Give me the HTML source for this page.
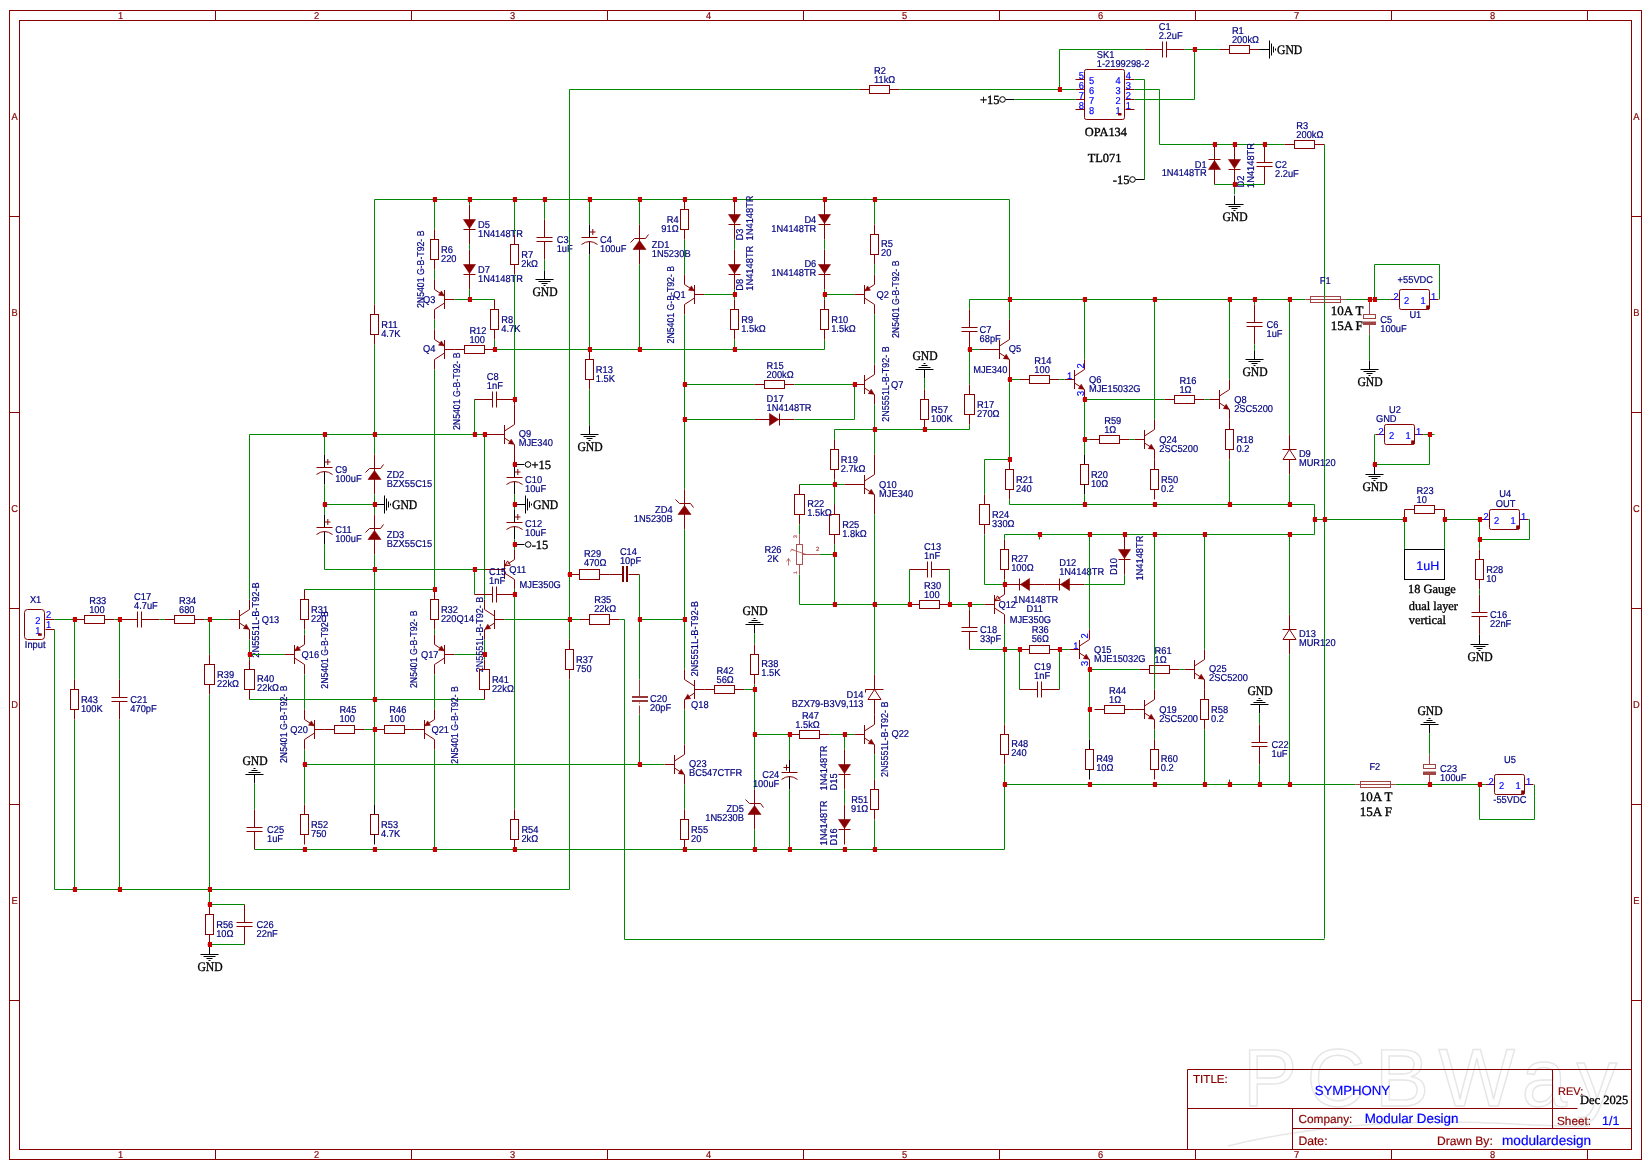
<!DOCTYPE html>
<html><head><meta charset="utf-8"><style>
html,body{margin:0;padding:0;background:#fff;}
svg{display:block;will-change:transform;}
</style></head><body>
<svg width="1652" height="1170" viewBox="0 0 1652 1170">
<rect width="1652" height="1170" fill="#fff"/>
<g fill="none" stroke="#e6e6e6" stroke-width="1.4">
<text x="1243" y="1106" font-family="Liberation Sans" font-size="81" textLength="374" lengthAdjust="spacing">PCBWay</text>
<path d="M1228,1146 C1300,1128 1380,1122 1450,1122 C1500,1122 1560,1128 1590,1126"/>
</g>
<g fill="none" stroke="#880000" stroke-width="1">
<rect x="9.5" y="10.5" width="1632" height="1149"/>
<rect x="19.5" y="20.5" width="1612" height="1129"/>
</g>
<line x1="215.5" y1="10.5" x2="215.5" y2="20.5" stroke="#880000" stroke-width="1"/>
<line x1="215.5" y1="1149.5" x2="215.5" y2="1159.5" stroke="#880000" stroke-width="1"/>
<line x1="411.5" y1="10.5" x2="411.5" y2="20.5" stroke="#880000" stroke-width="1"/>
<line x1="411.5" y1="1149.5" x2="411.5" y2="1159.5" stroke="#880000" stroke-width="1"/>
<line x1="607.5" y1="10.5" x2="607.5" y2="20.5" stroke="#880000" stroke-width="1"/>
<line x1="607.5" y1="1149.5" x2="607.5" y2="1159.5" stroke="#880000" stroke-width="1"/>
<line x1="803.5" y1="10.5" x2="803.5" y2="20.5" stroke="#880000" stroke-width="1"/>
<line x1="803.5" y1="1149.5" x2="803.5" y2="1159.5" stroke="#880000" stroke-width="1"/>
<line x1="999.5" y1="10.5" x2="999.5" y2="20.5" stroke="#880000" stroke-width="1"/>
<line x1="999.5" y1="1149.5" x2="999.5" y2="1159.5" stroke="#880000" stroke-width="1"/>
<line x1="1195.5" y1="10.5" x2="1195.5" y2="20.5" stroke="#880000" stroke-width="1"/>
<line x1="1195.5" y1="1149.5" x2="1195.5" y2="1159.5" stroke="#880000" stroke-width="1"/>
<line x1="1391.5" y1="10.5" x2="1391.5" y2="20.5" stroke="#880000" stroke-width="1"/>
<line x1="1391.5" y1="1149.5" x2="1391.5" y2="1159.5" stroke="#880000" stroke-width="1"/>
<line x1="1587.5" y1="10.5" x2="1587.5" y2="20.5" stroke="#880000" stroke-width="1"/>
<line x1="1587.5" y1="1149.5" x2="1587.5" y2="1159.5" stroke="#880000" stroke-width="1"/>
<line x1="9.5" y1="216.5" x2="19.5" y2="216.5" stroke="#880000" stroke-width="1"/>
<line x1="1631.5" y1="216.5" x2="1641.5" y2="216.5" stroke="#880000" stroke-width="1"/>
<line x1="9.5" y1="412.5" x2="19.5" y2="412.5" stroke="#880000" stroke-width="1"/>
<line x1="1631.5" y1="412.5" x2="1641.5" y2="412.5" stroke="#880000" stroke-width="1"/>
<line x1="9.5" y1="608.5" x2="19.5" y2="608.5" stroke="#880000" stroke-width="1"/>
<line x1="1631.5" y1="608.5" x2="1641.5" y2="608.5" stroke="#880000" stroke-width="1"/>
<line x1="9.5" y1="804.5" x2="19.5" y2="804.5" stroke="#880000" stroke-width="1"/>
<line x1="1631.5" y1="804.5" x2="1641.5" y2="804.5" stroke="#880000" stroke-width="1"/>
<line x1="9.5" y1="1000.5" x2="19.5" y2="1000.5" stroke="#880000" stroke-width="1"/>
<line x1="1631.5" y1="1000.5" x2="1641.5" y2="1000.5" stroke="#880000" stroke-width="1"/>
<text transform="translate(120.60 19.00) scale(0.93 1)" text-rendering="geometricPrecision" font-family="Liberation Sans" font-size="10.0" fill="#880000" text-anchor="middle" stroke="#880000" stroke-width="0.2">1</text>
<text transform="translate(120.60 1158.00) scale(0.93 1)" text-rendering="geometricPrecision" font-family="Liberation Sans" font-size="10.0" fill="#880000" text-anchor="middle" stroke="#880000" stroke-width="0.2">1</text>
<text transform="translate(316.60 19.00) scale(0.93 1)" text-rendering="geometricPrecision" font-family="Liberation Sans" font-size="10.0" fill="#880000" text-anchor="middle" stroke="#880000" stroke-width="0.2">2</text>
<text transform="translate(316.60 1158.00) scale(0.93 1)" text-rendering="geometricPrecision" font-family="Liberation Sans" font-size="10.0" fill="#880000" text-anchor="middle" stroke="#880000" stroke-width="0.2">2</text>
<text transform="translate(512.60 19.00) scale(0.93 1)" text-rendering="geometricPrecision" font-family="Liberation Sans" font-size="10.0" fill="#880000" text-anchor="middle" stroke="#880000" stroke-width="0.2">3</text>
<text transform="translate(512.60 1158.00) scale(0.93 1)" text-rendering="geometricPrecision" font-family="Liberation Sans" font-size="10.0" fill="#880000" text-anchor="middle" stroke="#880000" stroke-width="0.2">3</text>
<text transform="translate(708.60 19.00) scale(0.93 1)" text-rendering="geometricPrecision" font-family="Liberation Sans" font-size="10.0" fill="#880000" text-anchor="middle" stroke="#880000" stroke-width="0.2">4</text>
<text transform="translate(708.60 1158.00) scale(0.93 1)" text-rendering="geometricPrecision" font-family="Liberation Sans" font-size="10.0" fill="#880000" text-anchor="middle" stroke="#880000" stroke-width="0.2">4</text>
<text transform="translate(904.60 19.00) scale(0.93 1)" text-rendering="geometricPrecision" font-family="Liberation Sans" font-size="10.0" fill="#880000" text-anchor="middle" stroke="#880000" stroke-width="0.2">5</text>
<text transform="translate(904.60 1158.00) scale(0.93 1)" text-rendering="geometricPrecision" font-family="Liberation Sans" font-size="10.0" fill="#880000" text-anchor="middle" stroke="#880000" stroke-width="0.2">5</text>
<text transform="translate(1100.60 19.00) scale(0.93 1)" text-rendering="geometricPrecision" font-family="Liberation Sans" font-size="10.0" fill="#880000" text-anchor="middle" stroke="#880000" stroke-width="0.2">6</text>
<text transform="translate(1100.60 1158.00) scale(0.93 1)" text-rendering="geometricPrecision" font-family="Liberation Sans" font-size="10.0" fill="#880000" text-anchor="middle" stroke="#880000" stroke-width="0.2">6</text>
<text transform="translate(1296.60 19.00) scale(0.93 1)" text-rendering="geometricPrecision" font-family="Liberation Sans" font-size="10.0" fill="#880000" text-anchor="middle" stroke="#880000" stroke-width="0.2">7</text>
<text transform="translate(1296.60 1158.00) scale(0.93 1)" text-rendering="geometricPrecision" font-family="Liberation Sans" font-size="10.0" fill="#880000" text-anchor="middle" stroke="#880000" stroke-width="0.2">7</text>
<text transform="translate(1492.60 19.00) scale(0.93 1)" text-rendering="geometricPrecision" font-family="Liberation Sans" font-size="10.0" fill="#880000" text-anchor="middle" stroke="#880000" stroke-width="0.2">8</text>
<text transform="translate(1492.60 1158.00) scale(0.93 1)" text-rendering="geometricPrecision" font-family="Liberation Sans" font-size="10.0" fill="#880000" text-anchor="middle" stroke="#880000" stroke-width="0.2">8</text>
<text transform="translate(14.50 120.00) scale(0.93 1)" text-rendering="geometricPrecision" font-family="Liberation Sans" font-size="10.0" fill="#880000" text-anchor="middle" stroke="#880000" stroke-width="0.2">A</text>
<text transform="translate(1636.30 120.00) scale(0.93 1)" text-rendering="geometricPrecision" font-family="Liberation Sans" font-size="10.0" fill="#880000" text-anchor="middle" stroke="#880000" stroke-width="0.2">A</text>
<text transform="translate(14.50 316.00) scale(0.93 1)" text-rendering="geometricPrecision" font-family="Liberation Sans" font-size="10.0" fill="#880000" text-anchor="middle" stroke="#880000" stroke-width="0.2">B</text>
<text transform="translate(1636.30 316.00) scale(0.93 1)" text-rendering="geometricPrecision" font-family="Liberation Sans" font-size="10.0" fill="#880000" text-anchor="middle" stroke="#880000" stroke-width="0.2">B</text>
<text transform="translate(14.50 512.00) scale(0.93 1)" text-rendering="geometricPrecision" font-family="Liberation Sans" font-size="10.0" fill="#880000" text-anchor="middle" stroke="#880000" stroke-width="0.2">C</text>
<text transform="translate(1636.30 512.00) scale(0.93 1)" text-rendering="geometricPrecision" font-family="Liberation Sans" font-size="10.0" fill="#880000" text-anchor="middle" stroke="#880000" stroke-width="0.2">C</text>
<text transform="translate(14.50 708.00) scale(0.93 1)" text-rendering="geometricPrecision" font-family="Liberation Sans" font-size="10.0" fill="#880000" text-anchor="middle" stroke="#880000" stroke-width="0.2">D</text>
<text transform="translate(1636.30 708.00) scale(0.93 1)" text-rendering="geometricPrecision" font-family="Liberation Sans" font-size="10.0" fill="#880000" text-anchor="middle" stroke="#880000" stroke-width="0.2">D</text>
<text transform="translate(14.50 904.00) scale(0.93 1)" text-rendering="geometricPrecision" font-family="Liberation Sans" font-size="10.0" fill="#880000" text-anchor="middle" stroke="#880000" stroke-width="0.2">E</text>
<text transform="translate(1636.30 904.00) scale(0.93 1)" text-rendering="geometricPrecision" font-family="Liberation Sans" font-size="10.0" fill="#880000" text-anchor="middle" stroke="#880000" stroke-width="0.2">E</text>
<g fill="none" stroke="#880000" stroke-width="1">
<polyline points="1187.5,1149.5 1187.5,1069.5 1631.5,1069.5"/>
<line x1="1187.5" y1="1108.5" x2="1577.5" y2="1108.5"/>
<line x1="1292.5" y1="1108.5" x2="1292.5" y2="1149.5"/>
<line x1="1292.5" y1="1128.5" x2="1631.5" y2="1128.5"/>
<line x1="1552.5" y1="1069.5" x2="1552.5" y2="1128.5"/>
</g>
<text transform="translate(1193.00 1082.50)" text-rendering="geometricPrecision" font-family="Liberation Sans" font-size="11.6" fill="#880000" text-anchor="start" stroke="#880000" stroke-width="0.2">TITLE:</text>
<text transform="translate(1352.40 1094.50)" text-rendering="geometricPrecision" font-family="Liberation Sans" font-size="13.2" fill="#0000FF" text-anchor="middle" stroke="#0000FF" stroke-width="0.2">SYMPHONY</text>
<text transform="translate(1298.40 1123.00)" text-rendering="geometricPrecision" font-family="Liberation Sans" font-size="11.85" fill="#880000" text-anchor="start" stroke="#880000" stroke-width="0.2">Company:</text>
<text transform="translate(1364.70 1123.00)" text-rendering="geometricPrecision" font-family="Liberation Sans" font-size="13.4" fill="#0000FF" text-anchor="start" stroke="#0000FF" stroke-width="0.2">Modular Design</text>
<text transform="translate(1298.40 1145.00)" text-rendering="geometricPrecision" font-family="Liberation Sans" font-size="12.2" fill="#880000" text-anchor="start" stroke="#880000" stroke-width="0.2">Date:</text>
<text transform="translate(1437.00 1145.00)" text-rendering="geometricPrecision" font-family="Liberation Sans" font-size="12.1" fill="#880000" text-anchor="start" stroke="#880000" stroke-width="0.2">Drawn By:</text>
<text transform="translate(1502.00 1145.00)" text-rendering="geometricPrecision" font-family="Liberation Sans" font-size="13.6" fill="#0000FF" text-anchor="start" stroke="#0000FF" stroke-width="0.2">modulardesign</text>
<text transform="translate(1558.00 1095.00)" text-rendering="geometricPrecision" font-family="Liberation Sans" font-size="11" fill="#880000" text-anchor="start" stroke="#880000" stroke-width="0.2">REV:</text>
<text transform="translate(1580.00 1104.00)" text-rendering="geometricPrecision" font-family="Liberation Serif" font-size="12.5" fill="#000000" text-anchor="start" stroke="#000000" stroke-width="0.35">Dec 2025</text>
<text transform="translate(1557.00 1125.00)" text-rendering="geometricPrecision" font-family="Liberation Sans" font-size="11.8" fill="#880000" text-anchor="start" stroke="#880000" stroke-width="0.2">Sheet:</text>
<text transform="translate(1602.00 1125.00)" text-rendering="geometricPrecision" font-family="Liberation Sans" font-size="12.5" fill="#0000FF" text-anchor="start" stroke="#0000FF" stroke-width="0.2">1/1</text>
<polyline points="569.5,89.5 859.5,89.5" fill="none" stroke="#008800" stroke-width="1"/>
<rect x="869.5" y="85.5" width="20" height="8" fill="none" stroke="#880000"/>
<line x1="859.5" y1="89.5" x2="869.0" y2="89.5" stroke="#880000" stroke-width="1"/>
<line x1="889.0" y1="89.5" x2="899.5" y2="89.5" stroke="#880000" stroke-width="1"/>
<text transform="translate(874.00 74.00) scale(0.93 1)" text-rendering="geometricPrecision" font-family="Liberation Sans" font-size="10.0" fill="#000080" text-anchor="start" stroke="#000080" stroke-width="0.2">R2</text>
<text transform="translate(874.00 83.00) scale(0.93 1)" text-rendering="geometricPrecision" font-family="Liberation Sans" font-size="10.0" fill="#000080" text-anchor="start" stroke="#000080" stroke-width="0.2">11k&#937;</text>
<polyline points="899.5,89.5 1075.5,89.5" fill="none" stroke="#008800" stroke-width="1"/>
<polyline points="1059.5,89.5 1059.5,49.5 1144.5,49.5" fill="none" stroke="#008800" stroke-width="1"/>
<line x1="1162.5" y1="41.5" x2="1162.5" y2="57.5" stroke="#880000" stroke-width="1"/>
<line x1="1166.5" y1="41.5" x2="1166.5" y2="57.5" stroke="#880000" stroke-width="1"/>
<line x1="1144.5" y1="49.5" x2="1162.5" y2="49.5" stroke="#880000" stroke-width="1"/>
<line x1="1166.5" y1="49.5" x2="1184.5" y2="49.5" stroke="#880000" stroke-width="1"/>
<text transform="translate(1158.80 30.00) scale(0.93 1)" text-rendering="geometricPrecision" font-family="Liberation Sans" font-size="10.0" fill="#000080" text-anchor="start" stroke="#000080" stroke-width="0.2">C1</text>
<text transform="translate(1158.80 39.00) scale(0.93 1)" text-rendering="geometricPrecision" font-family="Liberation Sans" font-size="10.0" fill="#000080" text-anchor="start" stroke="#000080" stroke-width="0.2">2.2uF</text>
<polyline points="1184.5,49.5 1219.5,49.5" fill="none" stroke="#008800" stroke-width="1"/>
<rect x="1229.5" y="45.5" width="20" height="8" fill="none" stroke="#880000"/>
<line x1="1219.5" y1="49.5" x2="1229.0" y2="49.5" stroke="#880000" stroke-width="1"/>
<line x1="1249.0" y1="49.5" x2="1259.5" y2="49.5" stroke="#880000" stroke-width="1"/>
<text transform="translate(1231.90 34.00) scale(0.93 1)" text-rendering="geometricPrecision" font-family="Liberation Sans" font-size="10.0" fill="#000080" text-anchor="start" stroke="#000080" stroke-width="0.2">R1</text>
<text transform="translate(1231.90 43.00) scale(0.93 1)" text-rendering="geometricPrecision" font-family="Liberation Sans" font-size="10.0" fill="#000080" text-anchor="start" stroke="#000080" stroke-width="0.2">200k&#937;</text>
<line x1="1259.5" y1="49.5" x2="1269.5" y2="49.5" stroke="#000000" stroke-width="1"/>
<line x1="1259.5" y1="49.5" x2="1269.5" y2="49.5" stroke="#000000" stroke-width="1"/>
<line x1="1269.5" y1="40.5" x2="1269.5" y2="58.5" stroke="#000000" stroke-width="1"/>
<line x1="1271.5" y1="43.5" x2="1271.5" y2="55.5" stroke="#000000" stroke-width="1"/>
<line x1="1273.5" y1="46.5" x2="1273.5" y2="52.5" stroke="#000000" stroke-width="1"/>
<line x1="1275.5" y1="48.5" x2="1275.5" y2="50.5" stroke="#000000" stroke-width="1"/>
<text transform="translate(1277.00 53.50)" text-rendering="geometricPrecision" font-family="Liberation Serif" font-size="13" fill="#000000" text-anchor="start" stroke="#000000" stroke-width="0.35" textLength="25.2" lengthAdjust="spacingAndGlyphs">GND</text>
<polyline points="1194.5,49.5 1194.5,99.5 1134.5,99.5" fill="none" stroke="#008800" stroke-width="1"/>
<rect x="1084.5" y="69.5" width="40" height="50" rx="1.8" fill="none" stroke="#880000"/>
<line x1="1075.5" y1="79.5" x2="1084.5" y2="79.5" stroke="#880000" stroke-width="1"/>
<line x1="1125.5" y1="79.5" x2="1134.5" y2="79.5" stroke="#880000" stroke-width="1"/>
<text transform="translate(1083.90 79.00) scale(0.93 1)" text-rendering="geometricPrecision" font-family="Liberation Sans" font-size="10.0" fill="#0000FF" text-anchor="end" stroke="#0000FF" stroke-width="0.2">5</text>
<text transform="translate(1091.50 84.00) scale(0.93 1)" text-rendering="geometricPrecision" font-family="Liberation Sans" font-size="10.0" fill="#0000FF" text-anchor="middle" stroke="#0000FF" stroke-width="0.2">5</text>
<text transform="translate(1118.00 84.00) scale(0.93 1)" text-rendering="geometricPrecision" font-family="Liberation Sans" font-size="10.0" fill="#0000FF" text-anchor="middle" stroke="#0000FF" stroke-width="0.2">4</text>
<text transform="translate(1125.80 79.00) scale(0.93 1)" text-rendering="geometricPrecision" font-family="Liberation Sans" font-size="10.0" fill="#0000FF" text-anchor="start" stroke="#0000FF" stroke-width="0.2">4</text>
<line x1="1075.5" y1="89.5" x2="1084.5" y2="89.5" stroke="#880000" stroke-width="1"/>
<line x1="1125.5" y1="89.5" x2="1134.5" y2="89.5" stroke="#880000" stroke-width="1"/>
<text transform="translate(1083.90 89.00) scale(0.93 1)" text-rendering="geometricPrecision" font-family="Liberation Sans" font-size="10.0" fill="#0000FF" text-anchor="end" stroke="#0000FF" stroke-width="0.2">6</text>
<text transform="translate(1091.50 94.00) scale(0.93 1)" text-rendering="geometricPrecision" font-family="Liberation Sans" font-size="10.0" fill="#0000FF" text-anchor="middle" stroke="#0000FF" stroke-width="0.2">6</text>
<text transform="translate(1118.00 94.00) scale(0.93 1)" text-rendering="geometricPrecision" font-family="Liberation Sans" font-size="10.0" fill="#0000FF" text-anchor="middle" stroke="#0000FF" stroke-width="0.2">3</text>
<text transform="translate(1125.80 89.00) scale(0.93 1)" text-rendering="geometricPrecision" font-family="Liberation Sans" font-size="10.0" fill="#0000FF" text-anchor="start" stroke="#0000FF" stroke-width="0.2">3</text>
<line x1="1075.5" y1="99.5" x2="1084.5" y2="99.5" stroke="#880000" stroke-width="1"/>
<line x1="1125.5" y1="99.5" x2="1134.5" y2="99.5" stroke="#880000" stroke-width="1"/>
<text transform="translate(1083.90 99.00) scale(0.93 1)" text-rendering="geometricPrecision" font-family="Liberation Sans" font-size="10.0" fill="#0000FF" text-anchor="end" stroke="#0000FF" stroke-width="0.2">7</text>
<text transform="translate(1091.50 104.00) scale(0.93 1)" text-rendering="geometricPrecision" font-family="Liberation Sans" font-size="10.0" fill="#0000FF" text-anchor="middle" stroke="#0000FF" stroke-width="0.2">7</text>
<text transform="translate(1118.00 104.00) scale(0.93 1)" text-rendering="geometricPrecision" font-family="Liberation Sans" font-size="10.0" fill="#0000FF" text-anchor="middle" stroke="#0000FF" stroke-width="0.2">2</text>
<text transform="translate(1125.80 99.00) scale(0.93 1)" text-rendering="geometricPrecision" font-family="Liberation Sans" font-size="10.0" fill="#0000FF" text-anchor="start" stroke="#0000FF" stroke-width="0.2">2</text>
<line x1="1075.5" y1="109.5" x2="1084.5" y2="109.5" stroke="#880000" stroke-width="1"/>
<line x1="1125.5" y1="109.5" x2="1134.5" y2="109.5" stroke="#880000" stroke-width="1"/>
<text transform="translate(1083.90 109.00) scale(0.93 1)" text-rendering="geometricPrecision" font-family="Liberation Sans" font-size="10.0" fill="#0000FF" text-anchor="end" stroke="#0000FF" stroke-width="0.2">8</text>
<text transform="translate(1091.50 114.00) scale(0.93 1)" text-rendering="geometricPrecision" font-family="Liberation Sans" font-size="10.0" fill="#0000FF" text-anchor="middle" stroke="#0000FF" stroke-width="0.2">8</text>
<text transform="translate(1118.00 114.00) scale(0.93 1)" text-rendering="geometricPrecision" font-family="Liberation Sans" font-size="10.0" fill="#0000FF" text-anchor="middle" stroke="#0000FF" stroke-width="0.2">1</text>
<text transform="translate(1125.80 109.00) scale(0.93 1)" text-rendering="geometricPrecision" font-family="Liberation Sans" font-size="10.0" fill="#0000FF" text-anchor="start" stroke="#0000FF" stroke-width="0.2">1</text>
<rect x="1118" y="113" width="3.5" height="2.5" fill="#880000"/>
<text transform="translate(1096.80 58.00) scale(0.93 1)" text-rendering="geometricPrecision" font-family="Liberation Sans" font-size="10.0" fill="#000080" text-anchor="start" stroke="#000080" stroke-width="0.2">SK1</text>
<text transform="translate(1096.80 67.00) scale(0.93 1)" text-rendering="geometricPrecision" font-family="Liberation Sans" font-size="10.0" fill="#000080" text-anchor="start" stroke="#000080" stroke-width="0.2">1-2199298-2</text>
<text transform="translate(1105.90 135.70)" text-rendering="geometricPrecision" font-family="Liberation Serif" font-size="12.4" fill="#000000" text-anchor="middle" stroke="#000000" stroke-width="0.35">OPA134</text>
<text transform="translate(1104.50 162.40)" text-rendering="geometricPrecision" font-family="Liberation Serif" font-size="12.4" fill="#000000" text-anchor="middle" stroke="#000000" stroke-width="0.35">TL071</text>
<circle cx="1002.5" cy="99.5" r="2.8" fill="none" stroke="#000000"/>
<text transform="translate(999.50 103.80)" text-rendering="geometricPrecision" font-family="Liberation Serif" font-size="12.5" fill="#000000" text-anchor="end" stroke="#000000" stroke-width="0.35">+15</text>
<line x1="1005.5" y1="99.5" x2="1014.5" y2="99.5" stroke="#000000" stroke-width="1"/>
<polyline points="1014.5,99.5 1075.5,99.5" fill="none" stroke="#008800" stroke-width="1"/>
<polyline points="1134.5,79.5 1144.5,79.5 1144.5,179.5" fill="none" stroke="#008800" stroke-width="1"/>
<line x1="1135.5" y1="179.5" x2="1144.5" y2="179.5" stroke="#000000" stroke-width="1"/>
<circle cx="1132.5" cy="179.5" r="2.8" fill="none" stroke="#000000"/>
<text transform="translate(1129.50 183.80)" text-rendering="geometricPrecision" font-family="Liberation Serif" font-size="12.5" fill="#000000" text-anchor="end" stroke="#000000" stroke-width="0.35">-15</text>
<polyline points="1134.5,89.5 1159.5,89.5 1159.5,144.5 1284.5,144.5" fill="none" stroke="#008800" stroke-width="1"/>
<polygon points="1208.5,169.5 1220.5,169.5 1214.5,160.5" fill="#880000" stroke="#880000" stroke-width="0.6"/>
<line x1="1208.5" y1="159.5" x2="1220.5" y2="159.5" stroke="#880000" stroke-width="1"/>
<line x1="1214.5" y1="144.5" x2="1214.5" y2="184.5" stroke="#880000" stroke-width="1"/>
<text transform="translate(1206.60 168.00) scale(0.93 1)" text-rendering="geometricPrecision" font-family="Liberation Sans" font-size="10.0" fill="#000080" text-anchor="end" stroke="#000080" stroke-width="0.2">D1</text>
<text transform="translate(1206.60 176.00) scale(0.93 1)" text-rendering="geometricPrecision" font-family="Liberation Sans" font-size="10.0" fill="#000080" text-anchor="end" stroke="#000080" stroke-width="0.2">1N4148TR</text>
<polygon points="1228.5,159.5 1240.5,159.5 1234.5,168.5" fill="#880000" stroke="#880000" stroke-width="0.6"/>
<line x1="1228.5" y1="169.5" x2="1240.5" y2="169.5" stroke="#880000" stroke-width="1"/>
<line x1="1234.5" y1="144.5" x2="1234.5" y2="184.5" stroke="#880000" stroke-width="1"/>
<text transform="translate(1243.50 187.50) rotate(-90) scale(0.93 1)" text-rendering="geometricPrecision" font-family="Liberation Sans" font-size="10.0" fill="#000080" text-anchor="start" stroke="#000080" stroke-width="0.2">D2</text>
<text transform="translate(1253.50 188.00) rotate(-90) scale(0.93 1)" text-rendering="geometricPrecision" font-family="Liberation Sans" font-size="10.0" fill="#000080" text-anchor="start" stroke="#000080" stroke-width="0.2">1N4148TR</text>
<line x1="1256.5" y1="162.5" x2="1272.5" y2="162.5" stroke="#880000" stroke-width="1"/>
<line x1="1256.5" y1="166.5" x2="1272.5" y2="166.5" stroke="#880000" stroke-width="1"/>
<line x1="1264.5" y1="144.5" x2="1264.5" y2="162.5" stroke="#880000" stroke-width="1"/>
<line x1="1264.5" y1="166.5" x2="1264.5" y2="184.5" stroke="#880000" stroke-width="1"/>
<text transform="translate(1275.00 168.00) scale(0.93 1)" text-rendering="geometricPrecision" font-family="Liberation Sans" font-size="10.0" fill="#000080" text-anchor="start" stroke="#000080" stroke-width="0.2">C2</text>
<text transform="translate(1275.00 177.00) scale(0.93 1)" text-rendering="geometricPrecision" font-family="Liberation Sans" font-size="10.0" fill="#000080" text-anchor="start" stroke="#000080" stroke-width="0.2">2.2uF</text>
<polyline points="1214.5,184.5 1264.5,184.5" fill="none" stroke="#008800" stroke-width="1"/>
<polyline points="1234.5,184.5 1234.5,194.5" fill="none" stroke="#008800" stroke-width="1"/>
<line x1="1234.5" y1="195.5" x2="1234.5" y2="204.5" stroke="#000000" stroke-width="1"/>
<line x1="1225.5" y1="204.5" x2="1243.5" y2="204.5" stroke="#000000" stroke-width="1"/>
<line x1="1228.5" y1="206.5" x2="1240.5" y2="206.5" stroke="#000000" stroke-width="1"/>
<line x1="1231.5" y1="208.5" x2="1237.5" y2="208.5" stroke="#000000" stroke-width="1"/>
<line x1="1233.5" y1="210.5" x2="1235.5" y2="210.5" stroke="#000000" stroke-width="1"/>
<text transform="translate(1235.00 221.40)" text-rendering="geometricPrecision" font-family="Liberation Serif" font-size="13" fill="#000000" text-anchor="middle" stroke="#000000" stroke-width="0.35" textLength="25.2" lengthAdjust="spacingAndGlyphs">GND</text>
<rect x="1294.5" y="140.5" width="20" height="8" fill="none" stroke="#880000"/>
<line x1="1284.5" y1="144.5" x2="1294.0" y2="144.5" stroke="#880000" stroke-width="1"/>
<line x1="1314.0" y1="144.5" x2="1324.5" y2="144.5" stroke="#880000" stroke-width="1"/>
<text transform="translate(1296.30 129.00) scale(0.93 1)" text-rendering="geometricPrecision" font-family="Liberation Sans" font-size="10.0" fill="#000080" text-anchor="start" stroke="#000080" stroke-width="0.2">R3</text>
<text transform="translate(1296.30 138.00) scale(0.93 1)" text-rendering="geometricPrecision" font-family="Liberation Sans" font-size="10.0" fill="#000080" text-anchor="start" stroke="#000080" stroke-width="0.2">200k&#937;</text>
<polyline points="1324.5,144.5 1324.5,938.5" fill="none" stroke="#008800" stroke-width="1"/>
<polyline points="374.5,199.5 1009.5,199.5 1009.5,299.5" fill="none" stroke="#008800" stroke-width="1"/>
<polyline points="374.5,199.5 374.5,304.5" fill="none" stroke="#008800" stroke-width="1"/>
<rect x="370.5" y="314.5" width="8" height="20" fill="none" stroke="#880000"/>
<line x1="374.5" y1="304.5" x2="374.5" y2="314.0" stroke="#880000" stroke-width="1"/>
<line x1="374.5" y1="334.0" x2="374.5" y2="344.5" stroke="#880000" stroke-width="1"/>
<text transform="translate(381.20 328.00) scale(0.93 1)" text-rendering="geometricPrecision" font-family="Liberation Sans" font-size="10.0" fill="#000080" text-anchor="start" stroke="#000080" stroke-width="0.2">R11</text>
<text transform="translate(381.20 337.00) scale(0.93 1)" text-rendering="geometricPrecision" font-family="Liberation Sans" font-size="10.0" fill="#000080" text-anchor="start" stroke="#000080" stroke-width="0.2">4.7K</text>
<polyline points="434.5,199.5 434.5,229.5" fill="none" stroke="#008800" stroke-width="1"/>
<rect x="430.5" y="239.5" width="8" height="20" fill="none" stroke="#880000"/>
<line x1="434.5" y1="229.5" x2="434.5" y2="239.0" stroke="#880000" stroke-width="1"/>
<line x1="434.5" y1="259.0" x2="434.5" y2="269.5" stroke="#880000" stroke-width="1"/>
<text transform="translate(441.00 253.00) scale(0.93 1)" text-rendering="geometricPrecision" font-family="Liberation Sans" font-size="10.0" fill="#000080" text-anchor="start" stroke="#000080" stroke-width="0.2">R6</text>
<text transform="translate(441.00 262.00) scale(0.93 1)" text-rendering="geometricPrecision" font-family="Liberation Sans" font-size="10.0" fill="#000080" text-anchor="start" stroke="#000080" stroke-width="0.2">220</text>
<polyline points="434.5,269.5 434.5,279.5" fill="none" stroke="#008800" stroke-width="1"/>
<line x1="444.5" y1="290.0" x2="444.5" y2="309.0" stroke="#880000"/>
<line x1="454.5" y1="299.5" x2="444.5" y2="299.5" stroke="#880000" stroke-width="1"/>
<line x1="444.5" y1="296.0" x2="434.5" y2="289.5" stroke="#880000"/>
<line x1="444.5" y1="303.0" x2="434.5" y2="309.5" stroke="#880000"/>
<line x1="434.5" y1="289.5" x2="434.5" y2="279.5" stroke="#880000"/>
<line x1="434.5" y1="309.5" x2="434.5" y2="319.5" stroke="#880000"/>
<polygon points="444.20,295.81 438.59,295.26 441.42,290.90" fill="#880000" stroke="#880000" stroke-width="0.6"/>
<text transform="translate(435.50 303.00) scale(0.93 1)" text-rendering="geometricPrecision" font-family="Liberation Sans" font-size="10.0" fill="#000080" text-anchor="end" stroke="#000080" stroke-width="0.2">Q3</text>
<text transform="translate(423.50 308.00) rotate(-90) scale(0.93 1)" text-rendering="geometricPrecision" font-family="Liberation Sans" font-size="10.0" fill="#000080" text-anchor="start" stroke="#000080" stroke-width="0.2" textLength="83.33" lengthAdjust="spacingAndGlyphs">2N5401 G-B-T92- B</text>
<polyline points="454.5,299.5 494.5,299.5" fill="none" stroke="#008800" stroke-width="1"/>
<polygon points="463.5,219.5 475.5,219.5 469.5,228.5" fill="#880000" stroke="#880000" stroke-width="0.6"/>
<line x1="463.5" y1="229.5" x2="475.5" y2="229.5" stroke="#880000" stroke-width="1"/>
<line x1="469.5" y1="204.5" x2="469.5" y2="244.5" stroke="#880000" stroke-width="1"/>
<polygon points="463.5,264.5 475.5,264.5 469.5,273.5" fill="#880000" stroke="#880000" stroke-width="0.6"/>
<line x1="463.5" y1="274.5" x2="475.5" y2="274.5" stroke="#880000" stroke-width="1"/>
<line x1="469.5" y1="249.5" x2="469.5" y2="289.5" stroke="#880000" stroke-width="1"/>
<polyline points="469.5,199.5 469.5,204.5" fill="none" stroke="#008800" stroke-width="1"/>
<polyline points="469.5,244.5 469.5,249.5" fill="none" stroke="#008800" stroke-width="1"/>
<text transform="translate(478.00 228.00) scale(0.93 1)" text-rendering="geometricPrecision" font-family="Liberation Sans" font-size="10.0" fill="#000080" text-anchor="start" stroke="#000080" stroke-width="0.2">D5</text>
<text transform="translate(478.00 237.00) scale(0.93 1)" text-rendering="geometricPrecision" font-family="Liberation Sans" font-size="10.0" fill="#000080" text-anchor="start" stroke="#000080" stroke-width="0.2">1N4148TR</text>
<text transform="translate(478.00 273.00) scale(0.93 1)" text-rendering="geometricPrecision" font-family="Liberation Sans" font-size="10.0" fill="#000080" text-anchor="start" stroke="#000080" stroke-width="0.2">D7</text>
<text transform="translate(478.00 282.00) scale(0.93 1)" text-rendering="geometricPrecision" font-family="Liberation Sans" font-size="10.0" fill="#000080" text-anchor="start" stroke="#000080" stroke-width="0.2">1N4148TR</text>
<polyline points="469.5,289.5 469.5,299.5" fill="none" stroke="#008800" stroke-width="1"/>
<rect x="490.5" y="309.5" width="8" height="20" fill="none" stroke="#880000"/>
<line x1="494.5" y1="299.5" x2="494.5" y2="309.0" stroke="#880000" stroke-width="1"/>
<line x1="494.5" y1="329.0" x2="494.5" y2="339.5" stroke="#880000" stroke-width="1"/>
<text transform="translate(501.30 323.00) scale(0.93 1)" text-rendering="geometricPrecision" font-family="Liberation Sans" font-size="10.0" fill="#000080" text-anchor="start" stroke="#000080" stroke-width="0.2">R8</text>
<text transform="translate(501.30 332.00) scale(0.93 1)" text-rendering="geometricPrecision" font-family="Liberation Sans" font-size="10.0" fill="#000080" text-anchor="start" stroke="#000080" stroke-width="0.2">4.7K</text>
<polyline points="494.5,339.5 494.5,349.5" fill="none" stroke="#008800" stroke-width="1"/>
<polyline points="434.5,319.5 434.5,329.5" fill="none" stroke="#008800" stroke-width="1"/>
<line x1="444.5" y1="340.0" x2="444.5" y2="359.0" stroke="#880000"/>
<line x1="454.5" y1="349.5" x2="444.5" y2="349.5" stroke="#880000" stroke-width="1"/>
<line x1="444.5" y1="346.0" x2="434.5" y2="339.5" stroke="#880000"/>
<line x1="444.5" y1="353.0" x2="434.5" y2="359.5" stroke="#880000"/>
<line x1="434.5" y1="339.5" x2="434.5" y2="329.5" stroke="#880000"/>
<line x1="434.5" y1="359.5" x2="434.5" y2="369.5" stroke="#880000"/>
<polygon points="444.20,345.81 438.59,345.26 441.42,340.90" fill="#880000" stroke="#880000" stroke-width="0.6"/>
<text transform="translate(435.50 352.00) scale(0.93 1)" text-rendering="geometricPrecision" font-family="Liberation Sans" font-size="10.0" fill="#000080" text-anchor="end" stroke="#000080" stroke-width="0.2">Q4</text>
<text transform="translate(460.00 430.00) rotate(-90) scale(0.93 1)" text-rendering="geometricPrecision" font-family="Liberation Sans" font-size="10.0" fill="#000080" text-anchor="start" stroke="#000080" stroke-width="0.2" textLength="83.33" lengthAdjust="spacingAndGlyphs">2N5401 G-B-T92- B</text>
<rect x="464.5" y="345.5" width="20" height="8" fill="none" stroke="#880000"/>
<line x1="454.5" y1="349.5" x2="464.0" y2="349.5" stroke="#880000" stroke-width="1"/>
<line x1="484.0" y1="349.5" x2="494.5" y2="349.5" stroke="#880000" stroke-width="1"/>
<text transform="translate(469.40 334.00) scale(0.93 1)" text-rendering="geometricPrecision" font-family="Liberation Sans" font-size="10.0" fill="#000080" text-anchor="start" stroke="#000080" stroke-width="0.2">R12</text>
<text transform="translate(469.40 343.00) scale(0.93 1)" text-rendering="geometricPrecision" font-family="Liberation Sans" font-size="10.0" fill="#000080" text-anchor="start" stroke="#000080" stroke-width="0.2">100</text>
<polyline points="494.5,349.5 824.5,349.5 824.5,339.5" fill="none" stroke="#008800" stroke-width="1"/>
<polyline points="514.5,199.5 514.5,234.5" fill="none" stroke="#008800" stroke-width="1"/>
<rect x="510.5" y="244.5" width="8" height="20" fill="none" stroke="#880000"/>
<line x1="514.5" y1="234.5" x2="514.5" y2="244.0" stroke="#880000" stroke-width="1"/>
<line x1="514.5" y1="264.0" x2="514.5" y2="274.5" stroke="#880000" stroke-width="1"/>
<text transform="translate(521.30 258.00) scale(0.93 1)" text-rendering="geometricPrecision" font-family="Liberation Sans" font-size="10.0" fill="#000080" text-anchor="start" stroke="#000080" stroke-width="0.2">R7</text>
<text transform="translate(521.30 267.00) scale(0.93 1)" text-rendering="geometricPrecision" font-family="Liberation Sans" font-size="10.0" fill="#000080" text-anchor="start" stroke="#000080" stroke-width="0.2">2k&#937;</text>
<polyline points="544.5,199.5 544.5,219.5" fill="none" stroke="#008800" stroke-width="1"/>
<line x1="536.5" y1="237.5" x2="552.5" y2="237.5" stroke="#880000" stroke-width="1"/>
<line x1="536.5" y1="241.5" x2="552.5" y2="241.5" stroke="#880000" stroke-width="1"/>
<line x1="544.5" y1="219.5" x2="544.5" y2="237.5" stroke="#880000" stroke-width="1"/>
<line x1="544.5" y1="241.5" x2="544.5" y2="259.5" stroke="#880000" stroke-width="1"/>
<text transform="translate(556.70 243.00) scale(0.93 1)" text-rendering="geometricPrecision" font-family="Liberation Sans" font-size="10.0" fill="#000080" text-anchor="start" stroke="#000080" stroke-width="0.2">C3</text>
<text transform="translate(556.70 252.00) scale(0.93 1)" text-rendering="geometricPrecision" font-family="Liberation Sans" font-size="10.0" fill="#000080" text-anchor="start" stroke="#000080" stroke-width="0.2">1uF</text>
<polyline points="544.5,259.5 544.5,270.5" fill="none" stroke="#008800" stroke-width="1"/>
<line x1="544.5" y1="270.5" x2="544.5" y2="279.5" stroke="#000000" stroke-width="1"/>
<line x1="535.5" y1="279.5" x2="553.5" y2="279.5" stroke="#000000" stroke-width="1"/>
<line x1="538.5" y1="281.5" x2="550.5" y2="281.5" stroke="#000000" stroke-width="1"/>
<line x1="541.5" y1="283.5" x2="547.5" y2="283.5" stroke="#000000" stroke-width="1"/>
<line x1="543.5" y1="285.5" x2="545.5" y2="285.5" stroke="#000000" stroke-width="1"/>
<text transform="translate(545.00 296.40)" text-rendering="geometricPrecision" font-family="Liberation Serif" font-size="13" fill="#000000" text-anchor="middle" stroke="#000000" stroke-width="0.35" textLength="25.2" lengthAdjust="spacingAndGlyphs">GND</text>
<polyline points="589.5,199.5 589.5,224.5" fill="none" stroke="#008800" stroke-width="1"/>
<line x1="589.5" y1="224.5" x2="589.5" y2="237.5" stroke="#000000" stroke-width="1"/>
<line x1="581.5" y1="237.5" x2="597.5" y2="237.5" stroke="#880000" stroke-width="1"/>
<path d="M581.5,244.5 Q589.5,238.5 597.5,244.5" fill="none" stroke="#880000"/>
<line x1="589.5" y1="241.5" x2="589.5" y2="254.5" stroke="#000000" stroke-width="1"/>
<path d="M590.0,232.0 h5.5 M592.8,229.0 v6" stroke="#880000" fill="none"/>
<text transform="translate(600.00 243.00) scale(0.93 1)" text-rendering="geometricPrecision" font-family="Liberation Sans" font-size="10.0" fill="#000080" text-anchor="start" stroke="#000080" stroke-width="0.2">C4</text>
<text transform="translate(600.00 252.00) scale(0.93 1)" text-rendering="geometricPrecision" font-family="Liberation Sans" font-size="10.0" fill="#000080" text-anchor="start" stroke="#000080" stroke-width="0.2">100uF</text>
<polyline points="589.5,254.5 589.5,349.5" fill="none" stroke="#008800" stroke-width="1"/>
<polyline points="639.5,199.5 639.5,224.5" fill="none" stroke="#008800" stroke-width="1"/>
<polygon points="633.0,249.5 646.0,249.5 639.5,240.5" fill="#880000" stroke="#880000" stroke-width="0.6"/>
<polyline points="630.5,242.5 634.5,238.5 645.5,238.5 648.5,234.5" fill="none" stroke="#880000" stroke-width="1"/>
<line x1="639.5" y1="224.5" x2="639.5" y2="264.5" stroke="#880000" stroke-width="1"/>
<text transform="translate(651.80 248.00) scale(0.93 1)" text-rendering="geometricPrecision" font-family="Liberation Sans" font-size="10.0" fill="#000080" text-anchor="start" stroke="#000080" stroke-width="0.2">ZD1</text>
<text transform="translate(651.80 257.00) scale(0.93 1)" text-rendering="geometricPrecision" font-family="Liberation Sans" font-size="10.0" fill="#000080" text-anchor="start" stroke="#000080" stroke-width="0.2">1N5230B</text>
<polyline points="639.5,264.5 639.5,349.5" fill="none" stroke="#008800" stroke-width="1"/>
<rect x="680.5" y="209.5" width="8" height="20" fill="none" stroke="#880000"/>
<line x1="684.5" y1="199.5" x2="684.5" y2="209.0" stroke="#880000" stroke-width="1"/>
<line x1="684.5" y1="229.0" x2="684.5" y2="239.5" stroke="#880000" stroke-width="1"/>
<text transform="translate(678.60 223.00) scale(0.93 1)" text-rendering="geometricPrecision" font-family="Liberation Sans" font-size="10.0" fill="#000080" text-anchor="end" stroke="#000080" stroke-width="0.2">R4</text>
<text transform="translate(678.60 232.00) scale(0.93 1)" text-rendering="geometricPrecision" font-family="Liberation Sans" font-size="10.0" fill="#000080" text-anchor="end" stroke="#000080" stroke-width="0.2">91&#937;</text>
<polyline points="684.5,239.5 684.5,274.5" fill="none" stroke="#008800" stroke-width="1"/>
<line x1="694.5" y1="285.0" x2="694.5" y2="304.0" stroke="#880000"/>
<line x1="704.5" y1="294.5" x2="694.5" y2="294.5" stroke="#880000" stroke-width="1"/>
<line x1="694.5" y1="291.0" x2="684.5" y2="284.5" stroke="#880000"/>
<line x1="694.5" y1="298.0" x2="684.5" y2="304.5" stroke="#880000"/>
<line x1="684.5" y1="284.5" x2="684.5" y2="274.5" stroke="#880000"/>
<line x1="684.5" y1="304.5" x2="684.5" y2="314.5" stroke="#880000"/>
<polygon points="694.20,290.81 688.59,290.26 691.42,285.90" fill="#880000" stroke="#880000" stroke-width="0.6"/>
<text transform="translate(685.70 298.00) scale(0.93 1)" text-rendering="geometricPrecision" font-family="Liberation Sans" font-size="10.0" fill="#000080" text-anchor="end" stroke="#000080" stroke-width="0.2">Q1</text>
<text transform="translate(673.90 343.40) rotate(-90) scale(0.93 1)" text-rendering="geometricPrecision" font-family="Liberation Sans" font-size="10.0" fill="#000080" text-anchor="start" stroke="#000080" stroke-width="0.2" textLength="83.33" lengthAdjust="spacingAndGlyphs">2N5401 G-B-T92- B</text>
<polyline points="704.5,294.5 734.5,294.5" fill="none" stroke="#008800" stroke-width="1"/>
<polygon points="728.5,214.5 740.5,214.5 734.5,223.5" fill="#880000" stroke="#880000" stroke-width="0.6"/>
<line x1="728.5" y1="224.5" x2="740.5" y2="224.5" stroke="#880000" stroke-width="1"/>
<line x1="734.5" y1="199.5" x2="734.5" y2="239.5" stroke="#880000" stroke-width="1"/>
<polygon points="728.5,264.5 740.5,264.5 734.5,273.5" fill="#880000" stroke="#880000" stroke-width="0.6"/>
<line x1="728.5" y1="274.5" x2="740.5" y2="274.5" stroke="#880000" stroke-width="1"/>
<line x1="734.5" y1="249.5" x2="734.5" y2="289.5" stroke="#880000" stroke-width="1"/>
<polyline points="734.5,239.5 734.5,249.5" fill="none" stroke="#008800" stroke-width="1"/>
<polyline points="734.5,289.5 734.5,294.5" fill="none" stroke="#008800" stroke-width="1"/>
<text transform="translate(743.10 240.40) rotate(-90) scale(0.93 1)" text-rendering="geometricPrecision" font-family="Liberation Sans" font-size="10.0" fill="#000080" text-anchor="start" stroke="#000080" stroke-width="0.2">D3</text>
<text transform="translate(753.30 240.40) rotate(-90) scale(0.93 1)" text-rendering="geometricPrecision" font-family="Liberation Sans" font-size="10.0" fill="#000080" text-anchor="start" stroke="#000080" stroke-width="0.2">1N4148TR</text>
<text transform="translate(743.10 290.70) rotate(-90) scale(0.93 1)" text-rendering="geometricPrecision" font-family="Liberation Sans" font-size="10.0" fill="#000080" text-anchor="start" stroke="#000080" stroke-width="0.2">D8</text>
<text transform="translate(753.30 290.70) rotate(-90) scale(0.93 1)" text-rendering="geometricPrecision" font-family="Liberation Sans" font-size="10.0" fill="#000080" text-anchor="start" stroke="#000080" stroke-width="0.2">1N4148TR</text>
<polyline points="734.5,294.5 734.5,299.5" fill="none" stroke="#008800" stroke-width="1"/>
<rect x="730.5" y="309.5" width="8" height="20" fill="none" stroke="#880000"/>
<line x1="734.5" y1="299.5" x2="734.5" y2="309.0" stroke="#880000" stroke-width="1"/>
<line x1="734.5" y1="329.0" x2="734.5" y2="339.5" stroke="#880000" stroke-width="1"/>
<text transform="translate(741.20 323.00) scale(0.93 1)" text-rendering="geometricPrecision" font-family="Liberation Sans" font-size="10.0" fill="#000080" text-anchor="start" stroke="#000080" stroke-width="0.2">R9</text>
<text transform="translate(741.20 332.00) scale(0.93 1)" text-rendering="geometricPrecision" font-family="Liberation Sans" font-size="10.0" fill="#000080" text-anchor="start" stroke="#000080" stroke-width="0.2">1.5k&#937;</text>
<polyline points="734.5,339.5 734.5,349.5" fill="none" stroke="#008800" stroke-width="1"/>
<polygon points="818.5,214.5 830.5,214.5 824.5,223.5" fill="#880000" stroke="#880000" stroke-width="0.6"/>
<line x1="818.5" y1="224.5" x2="830.5" y2="224.5" stroke="#880000" stroke-width="1"/>
<line x1="824.5" y1="199.5" x2="824.5" y2="239.5" stroke="#880000" stroke-width="1"/>
<polygon points="818.5,264.5 830.5,264.5 824.5,273.5" fill="#880000" stroke="#880000" stroke-width="0.6"/>
<line x1="818.5" y1="274.5" x2="830.5" y2="274.5" stroke="#880000" stroke-width="1"/>
<line x1="824.5" y1="249.5" x2="824.5" y2="289.5" stroke="#880000" stroke-width="1"/>
<polyline points="824.5,239.5 824.5,249.5" fill="none" stroke="#008800" stroke-width="1"/>
<polyline points="824.5,289.5 824.5,299.5" fill="none" stroke="#008800" stroke-width="1"/>
<text transform="translate(816.30 223.00) scale(0.93 1)" text-rendering="geometricPrecision" font-family="Liberation Sans" font-size="10.0" fill="#000080" text-anchor="end" stroke="#000080" stroke-width="0.2">D4</text>
<text transform="translate(816.30 232.00) scale(0.93 1)" text-rendering="geometricPrecision" font-family="Liberation Sans" font-size="10.0" fill="#000080" text-anchor="end" stroke="#000080" stroke-width="0.2">1N4148TR</text>
<text transform="translate(816.30 267.00) scale(0.93 1)" text-rendering="geometricPrecision" font-family="Liberation Sans" font-size="10.0" fill="#000080" text-anchor="end" stroke="#000080" stroke-width="0.2">D6</text>
<text transform="translate(816.30 276.00) scale(0.93 1)" text-rendering="geometricPrecision" font-family="Liberation Sans" font-size="10.0" fill="#000080" text-anchor="end" stroke="#000080" stroke-width="0.2">1N4148TR</text>
<rect x="820.5" y="309.5" width="8" height="20" fill="none" stroke="#880000"/>
<line x1="824.5" y1="299.5" x2="824.5" y2="309.0" stroke="#880000" stroke-width="1"/>
<line x1="824.5" y1="329.0" x2="824.5" y2="339.5" stroke="#880000" stroke-width="1"/>
<text transform="translate(831.20 323.00) scale(0.93 1)" text-rendering="geometricPrecision" font-family="Liberation Sans" font-size="10.0" fill="#000080" text-anchor="start" stroke="#000080" stroke-width="0.2">R10</text>
<text transform="translate(831.20 332.00) scale(0.93 1)" text-rendering="geometricPrecision" font-family="Liberation Sans" font-size="10.0" fill="#000080" text-anchor="start" stroke="#000080" stroke-width="0.2">1.5k&#937;</text>
<polyline points="824.5,294.5 854.5,294.5" fill="none" stroke="#008800" stroke-width="1"/>
<line x1="864.5" y1="285.0" x2="864.5" y2="304.0" stroke="#880000"/>
<line x1="854.5" y1="294.5" x2="864.5" y2="294.5" stroke="#880000" stroke-width="1"/>
<line x1="864.5" y1="291.0" x2="874.5" y2="284.5" stroke="#880000"/>
<line x1="864.5" y1="298.0" x2="874.5" y2="304.5" stroke="#880000"/>
<line x1="874.5" y1="284.5" x2="874.5" y2="274.5" stroke="#880000"/>
<line x1="874.5" y1="304.5" x2="874.5" y2="314.5" stroke="#880000"/>
<polygon points="864.80,290.81 867.58,285.90 870.41,290.26" fill="#880000" stroke="#880000" stroke-width="0.6"/>
<text transform="translate(876.60 298.00) scale(0.93 1)" text-rendering="geometricPrecision" font-family="Liberation Sans" font-size="10.0" fill="#000080" text-anchor="start" stroke="#000080" stroke-width="0.2">Q2</text>
<text transform="translate(898.60 338.00) rotate(-90) scale(0.93 1)" text-rendering="geometricPrecision" font-family="Liberation Sans" font-size="10.0" fill="#000080" text-anchor="start" stroke="#000080" stroke-width="0.2" textLength="83.33" lengthAdjust="spacingAndGlyphs">2N5401 G-B-T92- B</text>
<polyline points="874.5,199.5 874.5,224.5" fill="none" stroke="#008800" stroke-width="1"/>
<rect x="870.5" y="234.5" width="8" height="20" fill="none" stroke="#880000"/>
<line x1="874.5" y1="224.5" x2="874.5" y2="234.0" stroke="#880000" stroke-width="1"/>
<line x1="874.5" y1="254.0" x2="874.5" y2="264.5" stroke="#880000" stroke-width="1"/>
<text transform="translate(881.00 247.00) scale(0.93 1)" text-rendering="geometricPrecision" font-family="Liberation Sans" font-size="10.0" fill="#000080" text-anchor="start" stroke="#000080" stroke-width="0.2">R5</text>
<text transform="translate(881.00 256.00) scale(0.93 1)" text-rendering="geometricPrecision" font-family="Liberation Sans" font-size="10.0" fill="#000080" text-anchor="start" stroke="#000080" stroke-width="0.2">20</text>
<polyline points="874.5,264.5 874.5,274.5" fill="none" stroke="#008800" stroke-width="1"/>
<polyline points="1009.5,299.5 969.5,299.5 969.5,309.5" fill="none" stroke="#008800" stroke-width="1"/>
<polyline points="1009.5,299.5 1009.5,319.5" fill="none" stroke="#008800" stroke-width="1"/>
<line x1="961.5" y1="327.5" x2="977.5" y2="327.5" stroke="#880000" stroke-width="1"/>
<line x1="961.5" y1="331.5" x2="977.5" y2="331.5" stroke="#880000" stroke-width="1"/>
<line x1="969.5" y1="309.5" x2="969.5" y2="327.5" stroke="#880000" stroke-width="1"/>
<line x1="969.5" y1="331.5" x2="969.5" y2="349.5" stroke="#880000" stroke-width="1"/>
<text transform="translate(979.60 333.00) scale(0.93 1)" text-rendering="geometricPrecision" font-family="Liberation Sans" font-size="10.0" fill="#000080" text-anchor="start" stroke="#000080" stroke-width="0.2">C7</text>
<text transform="translate(979.60 342.00) scale(0.93 1)" text-rendering="geometricPrecision" font-family="Liberation Sans" font-size="10.0" fill="#000080" text-anchor="start" stroke="#000080" stroke-width="0.2">68pF</text>
<polyline points="969.5,349.5 979.5,349.5" fill="none" stroke="#008800" stroke-width="1"/>
<line x1="999.5" y1="340.0" x2="999.5" y2="359.0" stroke="#880000"/>
<line x1="979.5" y1="349.5" x2="999.5" y2="349.5" stroke="#880000" stroke-width="1"/>
<line x1="999.5" y1="346.0" x2="1009.5" y2="339.5" stroke="#880000"/>
<line x1="999.5" y1="353.0" x2="1009.5" y2="359.5" stroke="#880000"/>
<line x1="1009.5" y1="339.5" x2="1009.5" y2="319.5" stroke="#880000"/>
<line x1="1009.5" y1="359.5" x2="1009.5" y2="379.5" stroke="#880000"/>
<polygon points="1009.00,359.18 1003.39,358.63 1006.22,354.27" fill="#880000" stroke="#880000" stroke-width="0.6"/>
<text transform="translate(1008.80 352.00) scale(0.93 1)" text-rendering="geometricPrecision" font-family="Liberation Sans" font-size="10.0" fill="#000080" text-anchor="start" stroke="#000080" stroke-width="0.2">Q5</text>
<polyline points="1009.5,299.5 1305.5,299.5" fill="none" stroke="#008800" stroke-width="1"/>
<polyline points="1345.5,299.5 1390.5,299.5" fill="none" stroke="#008800" stroke-width="1"/>
<rect x="1310.5" y="296.5" width="30" height="6" fill="none" stroke="#a04444"/>
<line x1="1305.5" y1="299.5" x2="1345.5" y2="299.5" stroke="#a04444" stroke-width="1"/>
<polyline points="1009.5,379.5 1019.5,379.5" fill="none" stroke="#008800" stroke-width="1"/>
<rect x="1029.5" y="375.5" width="20" height="8" fill="none" stroke="#880000"/>
<line x1="1019.5" y1="379.5" x2="1029.0" y2="379.5" stroke="#880000" stroke-width="1"/>
<line x1="1049.0" y1="379.5" x2="1059.5" y2="379.5" stroke="#880000" stroke-width="1"/>
<text transform="translate(1034.30 364.00) scale(0.93 1)" text-rendering="geometricPrecision" font-family="Liberation Sans" font-size="10.0" fill="#000080" text-anchor="start" stroke="#000080" stroke-width="0.2">R14</text>
<text transform="translate(1034.30 373.00) scale(0.93 1)" text-rendering="geometricPrecision" font-family="Liberation Sans" font-size="10.0" fill="#000080" text-anchor="start" stroke="#000080" stroke-width="0.2">100</text>
<line x1="1074.5" y1="370.0" x2="1074.5" y2="389.0" stroke="#880000"/>
<line x1="1064.5" y1="379.5" x2="1074.5" y2="379.5" stroke="#880000" stroke-width="1"/>
<line x1="1074.5" y1="376.0" x2="1084.5" y2="369.5" stroke="#880000"/>
<line x1="1074.5" y1="383.0" x2="1084.5" y2="389.5" stroke="#880000"/>
<line x1="1084.5" y1="369.5" x2="1084.5" y2="359.5" stroke="#880000"/>
<line x1="1084.5" y1="389.5" x2="1084.5" y2="399.5" stroke="#880000"/>
<polygon points="1084.00,389.18 1078.39,388.63 1081.22,384.27" fill="#880000" stroke="#880000" stroke-width="0.6"/>
<text transform="translate(1088.90 383.00) scale(0.93 1)" text-rendering="geometricPrecision" font-family="Liberation Sans" font-size="10.0" fill="#000080" text-anchor="start" stroke="#000080" stroke-width="0.2">Q6</text>
<text transform="translate(1088.90 392.00) scale(0.93 1)" text-rendering="geometricPrecision" font-family="Liberation Sans" font-size="10.0" fill="#000080" text-anchor="start" stroke="#000080" stroke-width="0.2">MJE15032G</text>
<polyline points="1084.5,299.5 1084.5,359.5" fill="none" stroke="#008800" stroke-width="1"/>
<polyline points="1084.5,399.5 1164.5,399.5" fill="none" stroke="#008800" stroke-width="1"/>
<rect x="1174.5" y="395.5" width="20" height="8" fill="none" stroke="#880000"/>
<line x1="1164.5" y1="399.5" x2="1174.0" y2="399.5" stroke="#880000" stroke-width="1"/>
<line x1="1194.0" y1="399.5" x2="1204.5" y2="399.5" stroke="#880000" stroke-width="1"/>
<text transform="translate(1179.40 384.00) scale(0.93 1)" text-rendering="geometricPrecision" font-family="Liberation Sans" font-size="10.0" fill="#000080" text-anchor="start" stroke="#000080" stroke-width="0.2">R16</text>
<text transform="translate(1179.40 393.00) scale(0.93 1)" text-rendering="geometricPrecision" font-family="Liberation Sans" font-size="10.0" fill="#000080" text-anchor="start" stroke="#000080" stroke-width="0.2">1&#937;</text>
<polyline points="1204.5,399.5 1209.5,399.5" fill="none" stroke="#008800" stroke-width="1"/>
<line x1="1219.5" y1="390.0" x2="1219.5" y2="409.0" stroke="#880000"/>
<line x1="1209.5" y1="399.5" x2="1219.5" y2="399.5" stroke="#880000" stroke-width="1"/>
<line x1="1219.5" y1="396.0" x2="1229.5" y2="389.5" stroke="#880000"/>
<line x1="1219.5" y1="403.0" x2="1229.5" y2="409.5" stroke="#880000"/>
<line x1="1229.5" y1="389.5" x2="1229.5" y2="379.5" stroke="#880000"/>
<line x1="1229.5" y1="409.5" x2="1229.5" y2="419.5" stroke="#880000"/>
<polygon points="1229.00,409.18 1223.39,408.63 1226.22,404.27" fill="#880000" stroke="#880000" stroke-width="0.6"/>
<text transform="translate(1234.20 403.00) scale(0.93 1)" text-rendering="geometricPrecision" font-family="Liberation Sans" font-size="10.0" fill="#000080" text-anchor="start" stroke="#000080" stroke-width="0.2">Q8</text>
<text transform="translate(1234.20 412.00) scale(0.93 1)" text-rendering="geometricPrecision" font-family="Liberation Sans" font-size="10.0" fill="#000080" text-anchor="start" stroke="#000080" stroke-width="0.2">2SC5200</text>
<polyline points="1229.5,299.5 1229.5,379.5" fill="none" stroke="#008800" stroke-width="1"/>
<polyline points="1254.5,299.5 1254.5,304.5" fill="none" stroke="#008800" stroke-width="1"/>
<line x1="1246.5" y1="322.5" x2="1262.5" y2="322.5" stroke="#880000" stroke-width="1"/>
<line x1="1246.5" y1="326.5" x2="1262.5" y2="326.5" stroke="#880000" stroke-width="1"/>
<line x1="1254.5" y1="304.5" x2="1254.5" y2="322.5" stroke="#880000" stroke-width="1"/>
<line x1="1254.5" y1="326.5" x2="1254.5" y2="344.5" stroke="#880000" stroke-width="1"/>
<text transform="translate(1266.50 328.00) scale(0.93 1)" text-rendering="geometricPrecision" font-family="Liberation Sans" font-size="10.0" fill="#000080" text-anchor="start" stroke="#000080" stroke-width="0.2">C6</text>
<text transform="translate(1266.50 337.00) scale(0.93 1)" text-rendering="geometricPrecision" font-family="Liberation Sans" font-size="10.0" fill="#000080" text-anchor="start" stroke="#000080" stroke-width="0.2">1uF</text>
<polyline points="1254.5,344.5 1254.5,350.5" fill="none" stroke="#008800" stroke-width="1"/>
<line x1="1254.5" y1="350.5" x2="1254.5" y2="359.5" stroke="#000000" stroke-width="1"/>
<line x1="1245.5" y1="359.5" x2="1263.5" y2="359.5" stroke="#000000" stroke-width="1"/>
<line x1="1248.5" y1="361.5" x2="1260.5" y2="361.5" stroke="#000000" stroke-width="1"/>
<line x1="1251.5" y1="363.5" x2="1257.5" y2="363.5" stroke="#000000" stroke-width="1"/>
<line x1="1253.5" y1="365.5" x2="1255.5" y2="365.5" stroke="#000000" stroke-width="1"/>
<text transform="translate(1255.00 376.40)" text-rendering="geometricPrecision" font-family="Liberation Serif" font-size="13" fill="#000000" text-anchor="middle" stroke="#000000" stroke-width="0.35" textLength="25.2" lengthAdjust="spacingAndGlyphs">GND</text>
<line x1="1369.5" y1="299.5" x2="1369.5" y2="314.5" stroke="#a04444" stroke-width="1"/>
<rect x="1363.5" y="314.5" width="12" height="4" fill="none" stroke="#a04444"/>
<rect x="1363.0" y="321.5" width="13" height="3.5" fill="#a04444"/>
<line x1="1369.5" y1="324.5" x2="1369.5" y2="334.5" stroke="#a04444" stroke-width="1"/>
<polyline points="1369.5,334.5 1369.5,360.5" fill="none" stroke="#008800" stroke-width="1"/>
<line x1="1369.5" y1="360.5" x2="1369.5" y2="369.5" stroke="#000000" stroke-width="1"/>
<line x1="1360.5" y1="369.5" x2="1378.5" y2="369.5" stroke="#000000" stroke-width="1"/>
<line x1="1363.5" y1="371.5" x2="1375.5" y2="371.5" stroke="#000000" stroke-width="1"/>
<line x1="1366.5" y1="373.5" x2="1372.5" y2="373.5" stroke="#000000" stroke-width="1"/>
<line x1="1368.5" y1="375.5" x2="1370.5" y2="375.5" stroke="#000000" stroke-width="1"/>
<text transform="translate(1370.00 386.40)" text-rendering="geometricPrecision" font-family="Liberation Serif" font-size="13" fill="#000000" text-anchor="middle" stroke="#000000" stroke-width="0.35" textLength="25.2" lengthAdjust="spacingAndGlyphs">GND</text>
<text transform="translate(1380.30 323.00) scale(0.93 1)" text-rendering="geometricPrecision" font-family="Liberation Sans" font-size="10.0" fill="#000080" text-anchor="start" stroke="#000080" stroke-width="0.2">C5</text>
<text transform="translate(1380.30 332.00) scale(0.93 1)" text-rendering="geometricPrecision" font-family="Liberation Sans" font-size="10.0" fill="#000080" text-anchor="start" stroke="#000080" stroke-width="0.2">100uF</text>
<text transform="translate(1330.70 315.00)" text-rendering="geometricPrecision" font-family="Liberation Serif" font-size="13" fill="#000000" text-anchor="start" stroke="#000000" stroke-width="0.35">10A T</text>
<text transform="translate(1330.70 330.00)" text-rendering="geometricPrecision" font-family="Liberation Serif" font-size="13" fill="#000000" text-anchor="start" stroke="#000000" stroke-width="0.35">15A F</text>
<text transform="translate(1319.70 284.00) scale(0.93 1)" text-rendering="geometricPrecision" font-family="Liberation Sans" font-size="10.0" fill="#000080" text-anchor="start" stroke="#000080" stroke-width="0.2">F1</text>
<rect x="1399.5" y="289.5" width="30" height="20" rx="1.8" fill="none" stroke="#880000"/>
<line x1="1390.5" y1="299.5" x2="1399.5" y2="299.5" stroke="#880000" stroke-width="1"/>
<line x1="1429.5" y1="299.5" x2="1438.5" y2="299.5" stroke="#880000" stroke-width="1"/>
<text transform="translate(1398.70 300.00) scale(0.93 1)" text-rendering="geometricPrecision" font-family="Liberation Sans" font-size="10.0" fill="#0000FF" text-anchor="end" stroke="#0000FF" stroke-width="0.2">2</text>
<text transform="translate(1406.70 304.00) scale(0.93 1)" text-rendering="geometricPrecision" font-family="Liberation Sans" font-size="10.0" fill="#0000FF" text-anchor="middle" stroke="#0000FF" stroke-width="0.2">2</text>
<text transform="translate(1423.00 304.00) scale(0.93 1)" text-rendering="geometricPrecision" font-family="Liberation Sans" font-size="10.0" fill="#0000FF" text-anchor="middle" stroke="#0000FF" stroke-width="0.2">1</text>
<text transform="translate(1431.00 300.00) scale(0.93 1)" text-rendering="geometricPrecision" font-family="Liberation Sans" font-size="10.0" fill="#0000FF" text-anchor="start" stroke="#0000FF" stroke-width="0.2">1</text>
<rect x="1426.2" y="305.4" width="3.4" height="3.8" fill="#880000"/>
<polyline points="1439.5,299.5 1439.5,264.5 1374.5,264.5 1374.5,299.5" fill="none" stroke="#008800" stroke-width="1"/>
<text transform="translate(1397.60 283.00) scale(0.93 1)" text-rendering="geometricPrecision" font-family="Liberation Sans" font-size="10.0" fill="#000080" text-anchor="start" stroke="#000080" stroke-width="0.2">+55VDC</text>
<text transform="translate(1409.40 318.00) scale(0.93 1)" text-rendering="geometricPrecision" font-family="Liberation Sans" font-size="10.0" fill="#000080" text-anchor="start" stroke="#000080" stroke-width="0.2">U1</text>
<polyline points="249.5,434.5 484.5,434.5" fill="none" stroke="#008800" stroke-width="1"/>
<polyline points="374.5,344.5 374.5,454.5" fill="none" stroke="#008800" stroke-width="1"/>
<polyline points="324.5,434.5 324.5,454.5" fill="none" stroke="#008800" stroke-width="1"/>
<line x1="324.5" y1="454.5" x2="324.5" y2="467.5" stroke="#000000" stroke-width="1"/>
<line x1="316.5" y1="467.5" x2="332.5" y2="467.5" stroke="#880000" stroke-width="1"/>
<path d="M316.5,474.5 Q324.5,468.5 332.5,474.5" fill="none" stroke="#880000"/>
<line x1="324.5" y1="471.5" x2="324.5" y2="484.5" stroke="#000000" stroke-width="1"/>
<path d="M325.0,462.0 h5.5 M327.8,459.0 v6" stroke="#880000" fill="none"/>
<text transform="translate(335.20 473.00) scale(0.93 1)" text-rendering="geometricPrecision" font-family="Liberation Sans" font-size="10.0" fill="#000080" text-anchor="start" stroke="#000080" stroke-width="0.2">C9</text>
<text transform="translate(335.20 482.00) scale(0.93 1)" text-rendering="geometricPrecision" font-family="Liberation Sans" font-size="10.0" fill="#000080" text-anchor="start" stroke="#000080" stroke-width="0.2">100uF</text>
<polygon points="368.0,479.5 381.0,479.5 374.5,470.5" fill="#880000" stroke="#880000" stroke-width="0.6"/>
<polyline points="365.5,472.5 369.5,468.5 380.5,468.5 383.5,464.5" fill="none" stroke="#880000" stroke-width="1"/>
<line x1="374.5" y1="454.5" x2="374.5" y2="494.5" stroke="#880000" stroke-width="1"/>
<text transform="translate(386.70 478.00) scale(0.93 1)" text-rendering="geometricPrecision" font-family="Liberation Sans" font-size="10.0" fill="#000080" text-anchor="start" stroke="#000080" stroke-width="0.2">ZD2</text>
<text transform="translate(386.70 487.00) scale(0.93 1)" text-rendering="geometricPrecision" font-family="Liberation Sans" font-size="10.0" fill="#000080" text-anchor="start" stroke="#000080" stroke-width="0.2">BZX55C15</text>
<polyline points="324.5,484.5 324.5,514.5" fill="none" stroke="#008800" stroke-width="1"/>
<polyline points="324.5,504.5 374.5,504.5" fill="none" stroke="#008800" stroke-width="1"/>
<polyline points="374.5,494.5 374.5,514.5" fill="none" stroke="#008800" stroke-width="1"/>
<line x1="374.5" y1="504.5" x2="384.5" y2="504.5" stroke="#000000" stroke-width="1"/>
<line x1="374.5" y1="504.5" x2="384.5" y2="504.5" stroke="#000000" stroke-width="1"/>
<line x1="384.5" y1="495.5" x2="384.5" y2="513.5" stroke="#000000" stroke-width="1"/>
<line x1="386.5" y1="498.5" x2="386.5" y2="510.5" stroke="#000000" stroke-width="1"/>
<line x1="388.5" y1="501.5" x2="388.5" y2="507.5" stroke="#000000" stroke-width="1"/>
<line x1="390.5" y1="503.5" x2="390.5" y2="505.5" stroke="#000000" stroke-width="1"/>
<text transform="translate(392.00 508.50)" text-rendering="geometricPrecision" font-family="Liberation Serif" font-size="13" fill="#000000" text-anchor="start" stroke="#000000" stroke-width="0.35" textLength="25.2" lengthAdjust="spacingAndGlyphs">GND</text>
<line x1="324.5" y1="514.5" x2="324.5" y2="527.5" stroke="#000000" stroke-width="1"/>
<line x1="316.5" y1="527.5" x2="332.5" y2="527.5" stroke="#880000" stroke-width="1"/>
<path d="M316.5,534.5 Q324.5,528.5 332.5,534.5" fill="none" stroke="#880000"/>
<line x1="324.5" y1="531.5" x2="324.5" y2="544.5" stroke="#000000" stroke-width="1"/>
<path d="M325.0,522.0 h5.5 M327.8,519.0 v6" stroke="#880000" fill="none"/>
<text transform="translate(335.20 533.00) scale(0.93 1)" text-rendering="geometricPrecision" font-family="Liberation Sans" font-size="10.0" fill="#000080" text-anchor="start" stroke="#000080" stroke-width="0.2">C11</text>
<text transform="translate(335.20 542.00) scale(0.93 1)" text-rendering="geometricPrecision" font-family="Liberation Sans" font-size="10.0" fill="#000080" text-anchor="start" stroke="#000080" stroke-width="0.2">100uF</text>
<polygon points="368.0,539.5 381.0,539.5 374.5,530.5" fill="#880000" stroke="#880000" stroke-width="0.6"/>
<polyline points="365.5,532.5 369.5,528.5 380.5,528.5 383.5,524.5" fill="none" stroke="#880000" stroke-width="1"/>
<line x1="374.5" y1="514.5" x2="374.5" y2="554.5" stroke="#880000" stroke-width="1"/>
<text transform="translate(386.70 538.00) scale(0.93 1)" text-rendering="geometricPrecision" font-family="Liberation Sans" font-size="10.0" fill="#000080" text-anchor="start" stroke="#000080" stroke-width="0.2">ZD3</text>
<text transform="translate(386.70 547.00) scale(0.93 1)" text-rendering="geometricPrecision" font-family="Liberation Sans" font-size="10.0" fill="#000080" text-anchor="start" stroke="#000080" stroke-width="0.2">BZX55C15</text>
<polyline points="474.5,434.5 474.5,399.5" fill="none" stroke="#008800" stroke-width="1"/>
<line x1="492.5" y1="391.5" x2="492.5" y2="407.5" stroke="#880000" stroke-width="1"/>
<line x1="496.5" y1="391.5" x2="496.5" y2="407.5" stroke="#880000" stroke-width="1"/>
<line x1="474.5" y1="399.5" x2="492.5" y2="399.5" stroke="#880000" stroke-width="1"/>
<line x1="496.5" y1="399.5" x2="514.5" y2="399.5" stroke="#880000" stroke-width="1"/>
<text transform="translate(486.80 380.00) scale(0.93 1)" text-rendering="geometricPrecision" font-family="Liberation Sans" font-size="10.0" fill="#000080" text-anchor="start" stroke="#000080" stroke-width="0.2">C8</text>
<text transform="translate(486.80 389.00) scale(0.93 1)" text-rendering="geometricPrecision" font-family="Liberation Sans" font-size="10.0" fill="#000080" text-anchor="start" stroke="#000080" stroke-width="0.2">1nF</text>
<polyline points="514.5,274.5 514.5,399.5" fill="none" stroke="#008800" stroke-width="1"/>
<line x1="514.5" y1="399.5" x2="514.5" y2="404.5" stroke="#880000" stroke-width="1"/>
<line x1="504.5" y1="425.0" x2="504.5" y2="444.0" stroke="#880000"/>
<line x1="484.5" y1="434.5" x2="504.5" y2="434.5" stroke="#880000" stroke-width="1"/>
<line x1="504.5" y1="431.0" x2="514.5" y2="424.5" stroke="#880000"/>
<line x1="504.5" y1="438.0" x2="514.5" y2="444.5" stroke="#880000"/>
<line x1="514.5" y1="424.5" x2="514.5" y2="404.5" stroke="#880000"/>
<line x1="514.5" y1="444.5" x2="514.5" y2="464.5" stroke="#880000"/>
<polygon points="514.00,444.18 508.39,443.63 511.22,439.27" fill="#880000" stroke="#880000" stroke-width="0.6"/>
<text transform="translate(518.70 437.00) scale(0.93 1)" text-rendering="geometricPrecision" font-family="Liberation Sans" font-size="10.0" fill="#000080" text-anchor="start" stroke="#000080" stroke-width="0.2">Q9</text>
<text transform="translate(518.70 446.00) scale(0.93 1)" text-rendering="geometricPrecision" font-family="Liberation Sans" font-size="10.0" fill="#000080" text-anchor="start" stroke="#000080" stroke-width="0.2">MJE340</text>
<line x1="514.5" y1="464.5" x2="524.5" y2="464.5" stroke="#000000" stroke-width="1"/>
<circle cx="528.0" cy="464.5" r="2.8" fill="none" stroke="#000000"/>
<text transform="translate(531.50 468.80)" text-rendering="geometricPrecision" font-family="Liberation Serif" font-size="12.5" fill="#000000" text-anchor="start" stroke="#000000" stroke-width="0.35">+15</text>
<line x1="514.5" y1="464.5" x2="514.5" y2="477.5" stroke="#000000" stroke-width="1"/>
<line x1="506.5" y1="477.5" x2="522.5" y2="477.5" stroke="#880000" stroke-width="1"/>
<path d="M506.5,484.5 Q514.5,478.5 522.5,484.5" fill="none" stroke="#880000"/>
<line x1="514.5" y1="481.5" x2="514.5" y2="494.5" stroke="#000000" stroke-width="1"/>
<path d="M515.0,472.0 h5.5 M517.8,469.0 v6" stroke="#880000" fill="none"/>
<text transform="translate(525.00 483.00) scale(0.93 1)" text-rendering="geometricPrecision" font-family="Liberation Sans" font-size="10.0" fill="#000080" text-anchor="start" stroke="#000080" stroke-width="0.2">C10</text>
<text transform="translate(525.00 492.00) scale(0.93 1)" text-rendering="geometricPrecision" font-family="Liberation Sans" font-size="10.0" fill="#000080" text-anchor="start" stroke="#000080" stroke-width="0.2">10uF</text>
<polyline points="514.5,494.5 514.5,509.5" fill="none" stroke="#008800" stroke-width="1"/>
<line x1="514.5" y1="504.5" x2="525.5" y2="504.5" stroke="#000000" stroke-width="1"/>
<line x1="515.5" y1="504.5" x2="525.5" y2="504.5" stroke="#000000" stroke-width="1"/>
<line x1="525.5" y1="495.5" x2="525.5" y2="513.5" stroke="#000000" stroke-width="1"/>
<line x1="527.5" y1="498.5" x2="527.5" y2="510.5" stroke="#000000" stroke-width="1"/>
<line x1="529.5" y1="501.5" x2="529.5" y2="507.5" stroke="#000000" stroke-width="1"/>
<line x1="531.5" y1="503.5" x2="531.5" y2="505.5" stroke="#000000" stroke-width="1"/>
<text transform="translate(533.00 508.50)" text-rendering="geometricPrecision" font-family="Liberation Serif" font-size="13" fill="#000000" text-anchor="start" stroke="#000000" stroke-width="0.35" textLength="25.2" lengthAdjust="spacingAndGlyphs">GND</text>
<line x1="514.5" y1="509.5" x2="514.5" y2="522.5" stroke="#000000" stroke-width="1"/>
<line x1="506.5" y1="522.5" x2="522.5" y2="522.5" stroke="#880000" stroke-width="1"/>
<path d="M506.5,529.5 Q514.5,523.5 522.5,529.5" fill="none" stroke="#880000"/>
<line x1="514.5" y1="526.5" x2="514.5" y2="539.5" stroke="#000000" stroke-width="1"/>
<path d="M515.0,517.0 h5.5 M517.8,514.0 v6" stroke="#880000" fill="none"/>
<text transform="translate(525.00 527.00) scale(0.93 1)" text-rendering="geometricPrecision" font-family="Liberation Sans" font-size="10.0" fill="#000080" text-anchor="start" stroke="#000080" stroke-width="0.2">C12</text>
<text transform="translate(525.00 536.00) scale(0.93 1)" text-rendering="geometricPrecision" font-family="Liberation Sans" font-size="10.0" fill="#000080" text-anchor="start" stroke="#000080" stroke-width="0.2">10uF</text>
<rect x="585.5" y="359.5" width="8" height="20" fill="none" stroke="#880000"/>
<line x1="589.5" y1="349.5" x2="589.5" y2="359.0" stroke="#880000" stroke-width="1"/>
<line x1="589.5" y1="379.0" x2="589.5" y2="389.5" stroke="#880000" stroke-width="1"/>
<text transform="translate(595.80 373.00) scale(0.93 1)" text-rendering="geometricPrecision" font-family="Liberation Sans" font-size="10.0" fill="#000080" text-anchor="start" stroke="#000080" stroke-width="0.2">R13</text>
<text transform="translate(595.80 382.00) scale(0.93 1)" text-rendering="geometricPrecision" font-family="Liberation Sans" font-size="10.0" fill="#000080" text-anchor="start" stroke="#000080" stroke-width="0.2">1.5K</text>
<polyline points="589.5,389.5 589.5,425.5" fill="none" stroke="#008800" stroke-width="1"/>
<line x1="589.5" y1="425.5" x2="589.5" y2="434.5" stroke="#000000" stroke-width="1"/>
<line x1="580.5" y1="434.5" x2="598.5" y2="434.5" stroke="#000000" stroke-width="1"/>
<line x1="583.5" y1="436.5" x2="595.5" y2="436.5" stroke="#000000" stroke-width="1"/>
<line x1="586.5" y1="438.5" x2="592.5" y2="438.5" stroke="#000000" stroke-width="1"/>
<line x1="588.5" y1="440.5" x2="590.5" y2="440.5" stroke="#000000" stroke-width="1"/>
<text transform="translate(590.00 451.40)" text-rendering="geometricPrecision" font-family="Liberation Serif" font-size="13" fill="#000000" text-anchor="middle" stroke="#000000" stroke-width="0.35" textLength="25.2" lengthAdjust="spacingAndGlyphs">GND</text>
<polyline points="684.5,314.5 684.5,489.5" fill="none" stroke="#008800" stroke-width="1"/>
<polygon points="678.0,514.5 691.0,514.5 684.5,505.5" fill="#880000" stroke="#880000" stroke-width="0.6"/>
<polyline points="675.5,499.5 679.5,503.5 690.5,503.5 693.5,507.5" fill="none" stroke="#880000" stroke-width="1"/>
<line x1="684.5" y1="489.5" x2="684.5" y2="529.5" stroke="#880000" stroke-width="1"/>
<text transform="translate(672.60 513.00) scale(0.93 1)" text-rendering="geometricPrecision" font-family="Liberation Sans" font-size="10.0" fill="#000080" text-anchor="end" stroke="#000080" stroke-width="0.2">ZD4</text>
<text transform="translate(672.60 522.00) scale(0.93 1)" text-rendering="geometricPrecision" font-family="Liberation Sans" font-size="10.0" fill="#000080" text-anchor="end" stroke="#000080" stroke-width="0.2">1N5230B</text>
<polyline points="684.5,384.5 754.5,384.5" fill="none" stroke="#008800" stroke-width="1"/>
<rect x="764.5" y="380.5" width="20" height="8" fill="none" stroke="#880000"/>
<line x1="754.5" y1="384.5" x2="764.0" y2="384.5" stroke="#880000" stroke-width="1"/>
<line x1="784.0" y1="384.5" x2="794.5" y2="384.5" stroke="#880000" stroke-width="1"/>
<text transform="translate(766.60 369.00) scale(0.93 1)" text-rendering="geometricPrecision" font-family="Liberation Sans" font-size="10.0" fill="#000080" text-anchor="start" stroke="#000080" stroke-width="0.2">R15</text>
<text transform="translate(766.60 378.00) scale(0.93 1)" text-rendering="geometricPrecision" font-family="Liberation Sans" font-size="10.0" fill="#000080" text-anchor="start" stroke="#000080" stroke-width="0.2">200k&#937;</text>
<polyline points="794.5,384.5 854.5,384.5" fill="none" stroke="#008800" stroke-width="1"/>
<polyline points="684.5,419.5 754.5,419.5" fill="none" stroke="#008800" stroke-width="1"/>
<polygon points="769.5,413.5 769.5,425.5 778.5,419.5" fill="#880000" stroke="#880000" stroke-width="0.6"/>
<line x1="779.5" y1="413.5" x2="779.5" y2="425.5" stroke="#880000" stroke-width="1"/>
<line x1="754.5" y1="419.5" x2="794.5" y2="419.5" stroke="#880000" stroke-width="1"/>
<text transform="translate(766.60 402.00) scale(0.93 1)" text-rendering="geometricPrecision" font-family="Liberation Sans" font-size="10.0" fill="#000080" text-anchor="start" stroke="#000080" stroke-width="0.2">D17</text>
<text transform="translate(766.60 411.00) scale(0.93 1)" text-rendering="geometricPrecision" font-family="Liberation Sans" font-size="10.0" fill="#000080" text-anchor="start" stroke="#000080" stroke-width="0.2">1N4148TR</text>
<polyline points="794.5,419.5 854.5,419.5 854.5,384.5" fill="none" stroke="#008800" stroke-width="1"/>
<line x1="864.5" y1="375.0" x2="864.5" y2="394.0" stroke="#880000"/>
<line x1="854.5" y1="384.5" x2="864.5" y2="384.5" stroke="#880000" stroke-width="1"/>
<line x1="864.5" y1="381.0" x2="874.5" y2="374.5" stroke="#880000"/>
<line x1="864.5" y1="388.0" x2="874.5" y2="394.5" stroke="#880000"/>
<line x1="874.5" y1="374.5" x2="874.5" y2="364.5" stroke="#880000"/>
<line x1="874.5" y1="394.5" x2="874.5" y2="404.5" stroke="#880000"/>
<polygon points="874.00,394.18 868.39,393.63 871.22,389.27" fill="#880000" stroke="#880000" stroke-width="0.6"/>
<text transform="translate(890.90 388.00) scale(0.93 1)" text-rendering="geometricPrecision" font-family="Liberation Sans" font-size="10.0" fill="#000080" text-anchor="start" stroke="#000080" stroke-width="0.2">Q7</text>
<text transform="translate(888.50 421.80) rotate(-90) scale(0.93 1)" text-rendering="geometricPrecision" font-family="Liberation Sans" font-size="10.0" fill="#000080" text-anchor="start" stroke="#000080" stroke-width="0.2" textLength="81.18" lengthAdjust="spacingAndGlyphs">2N5551L-B-T92- B</text>
<polyline points="874.5,314.5 874.5,364.5" fill="none" stroke="#008800" stroke-width="1"/>
<polyline points="874.5,404.5 874.5,454.5" fill="none" stroke="#008800" stroke-width="1"/>
<polyline points="834.5,429.5 969.5,429.5" fill="none" stroke="#008800" stroke-width="1"/>
<polyline points="834.5,429.5 834.5,439.5" fill="none" stroke="#008800" stroke-width="1"/>
<rect x="830.5" y="449.5" width="8" height="20" fill="none" stroke="#880000"/>
<line x1="834.5" y1="439.5" x2="834.5" y2="449.0" stroke="#880000" stroke-width="1"/>
<line x1="834.5" y1="469.0" x2="834.5" y2="479.5" stroke="#880000" stroke-width="1"/>
<text transform="translate(840.80 463.00) scale(0.93 1)" text-rendering="geometricPrecision" font-family="Liberation Sans" font-size="10.0" fill="#000080" text-anchor="start" stroke="#000080" stroke-width="0.2">R19</text>
<text transform="translate(840.80 472.00) scale(0.93 1)" text-rendering="geometricPrecision" font-family="Liberation Sans" font-size="10.0" fill="#000080" text-anchor="start" stroke="#000080" stroke-width="0.2">2.7k&#937;</text>
<polyline points="834.5,479.5 834.5,484.5" fill="none" stroke="#008800" stroke-width="1"/>
<polyline points="799.5,484.5 844.5,484.5" fill="none" stroke="#008800" stroke-width="1"/>
<polyline points="834.5,479.5 834.5,514.5" fill="none" stroke="#008800" stroke-width="1"/>
<line x1="864.5" y1="475.0" x2="864.5" y2="494.0" stroke="#880000"/>
<line x1="844.5" y1="484.5" x2="864.5" y2="484.5" stroke="#880000" stroke-width="1"/>
<line x1="864.5" y1="481.0" x2="874.5" y2="474.5" stroke="#880000"/>
<line x1="864.5" y1="488.0" x2="874.5" y2="494.5" stroke="#880000"/>
<line x1="874.5" y1="474.5" x2="874.5" y2="454.5" stroke="#880000"/>
<line x1="874.5" y1="494.5" x2="874.5" y2="514.5" stroke="#880000"/>
<polygon points="874.00,494.18 868.39,493.63 871.22,489.27" fill="#880000" stroke="#880000" stroke-width="0.6"/>
<text transform="translate(879.10 488.00) scale(0.93 1)" text-rendering="geometricPrecision" font-family="Liberation Sans" font-size="10.0" fill="#000080" text-anchor="start" stroke="#000080" stroke-width="0.2">Q10</text>
<text transform="translate(879.10 497.00) scale(0.93 1)" text-rendering="geometricPrecision" font-family="Liberation Sans" font-size="10.0" fill="#000080" text-anchor="start" stroke="#000080" stroke-width="0.2">MJE340</text>
<rect x="794.5" y="494.5" width="10" height="20" fill="none" stroke="#880000"/>
<line x1="799.5" y1="484.5" x2="799.5" y2="494.0" stroke="#880000" stroke-width="1"/>
<line x1="799.5" y1="514.0" x2="799.5" y2="524.5" stroke="#880000" stroke-width="1"/>
<text transform="translate(807.20 507.00) scale(0.93 1)" text-rendering="geometricPrecision" font-family="Liberation Sans" font-size="10.0" fill="#000080" text-anchor="start" stroke="#000080" stroke-width="0.2">R22</text>
<text transform="translate(807.20 516.00) scale(0.93 1)" text-rendering="geometricPrecision" font-family="Liberation Sans" font-size="10.0" fill="#000080" text-anchor="start" stroke="#000080" stroke-width="0.2">1.5k&#937;</text>
<line x1="924.5" y1="369.5" x2="924.5" y2="378.5" stroke="#000000" stroke-width="1"/>
<line x1="915.5" y1="369.5" x2="933.5" y2="369.5" stroke="#000000" stroke-width="1"/>
<line x1="918.5" y1="367.5" x2="930.5" y2="367.5" stroke="#000000" stroke-width="1"/>
<line x1="921.5" y1="365.5" x2="927.5" y2="365.5" stroke="#000000" stroke-width="1"/>
<line x1="923.5" y1="363.5" x2="925.5" y2="363.5" stroke="#000000" stroke-width="1"/>
<text transform="translate(925.00 360.00)" text-rendering="geometricPrecision" font-family="Liberation Serif" font-size="13" fill="#000000" text-anchor="middle" stroke="#000000" stroke-width="0.35" textLength="25.2" lengthAdjust="spacingAndGlyphs">GND</text>
<polyline points="924.5,378.5 924.5,389.5" fill="none" stroke="#008800" stroke-width="1"/>
<rect x="920.5" y="399.5" width="8" height="20" fill="none" stroke="#880000"/>
<line x1="924.5" y1="389.5" x2="924.5" y2="399.0" stroke="#880000" stroke-width="1"/>
<line x1="924.5" y1="419.0" x2="924.5" y2="429.5" stroke="#880000" stroke-width="1"/>
<text transform="translate(931.00 413.00) scale(0.93 1)" text-rendering="geometricPrecision" font-family="Liberation Sans" font-size="10.0" fill="#000080" text-anchor="start" stroke="#000080" stroke-width="0.2">R57</text>
<text transform="translate(931.00 422.00) scale(0.93 1)" text-rendering="geometricPrecision" font-family="Liberation Sans" font-size="10.0" fill="#000080" text-anchor="start" stroke="#000080" stroke-width="0.2">100K</text>
<polyline points="969.5,429.5 969.5,424.5" fill="none" stroke="#008800" stroke-width="1"/>
<rect x="964.5" y="394.5" width="10" height="20" fill="none" stroke="#880000"/>
<line x1="969.5" y1="384.5" x2="969.5" y2="394.0" stroke="#880000" stroke-width="1"/>
<line x1="969.5" y1="414.0" x2="969.5" y2="424.5" stroke="#880000" stroke-width="1"/>
<text transform="translate(977.10 408.00) scale(0.93 1)" text-rendering="geometricPrecision" font-family="Liberation Sans" font-size="10.0" fill="#000080" text-anchor="start" stroke="#000080" stroke-width="0.2">R17</text>
<text transform="translate(977.10 417.00) scale(0.93 1)" text-rendering="geometricPrecision" font-family="Liberation Sans" font-size="10.0" fill="#000080" text-anchor="start" stroke="#000080" stroke-width="0.2">270&#937;</text>
<polyline points="969.5,349.5 969.5,384.5" fill="none" stroke="#008800" stroke-width="1"/>
<text transform="translate(973.20 373.00) scale(0.93 1)" text-rendering="geometricPrecision" font-family="Liberation Sans" font-size="10.0" fill="#000080" text-anchor="start" stroke="#000080" stroke-width="0.2">MJE340</text>
<polyline points="1009.5,379.5 1009.5,459.5" fill="none" stroke="#008800" stroke-width="1"/>
<rect x="1005.5" y="469.5" width="8" height="20" fill="none" stroke="#880000"/>
<line x1="1009.5" y1="459.5" x2="1009.5" y2="469.0" stroke="#880000" stroke-width="1"/>
<line x1="1009.5" y1="489.0" x2="1009.5" y2="499.5" stroke="#880000" stroke-width="1"/>
<text transform="translate(1016.10 483.00) scale(0.93 1)" text-rendering="geometricPrecision" font-family="Liberation Sans" font-size="10.0" fill="#000080" text-anchor="start" stroke="#000080" stroke-width="0.2">R21</text>
<text transform="translate(1016.10 492.00) scale(0.93 1)" text-rendering="geometricPrecision" font-family="Liberation Sans" font-size="10.0" fill="#000080" text-anchor="start" stroke="#000080" stroke-width="0.2">240</text>
<polyline points="1009.5,459.5 984.5,459.5 984.5,494.5" fill="none" stroke="#008800" stroke-width="1"/>
<rect x="979.5" y="504.5" width="10" height="20" fill="none" stroke="#880000"/>
<line x1="984.5" y1="494.5" x2="984.5" y2="504.0" stroke="#880000" stroke-width="1"/>
<line x1="984.5" y1="524.0" x2="984.5" y2="534.5" stroke="#880000" stroke-width="1"/>
<text transform="translate(992.10 518.00) scale(0.93 1)" text-rendering="geometricPrecision" font-family="Liberation Sans" font-size="10.0" fill="#000080" text-anchor="start" stroke="#000080" stroke-width="0.2">R24</text>
<text transform="translate(992.10 527.00) scale(0.93 1)" text-rendering="geometricPrecision" font-family="Liberation Sans" font-size="10.0" fill="#000080" text-anchor="start" stroke="#000080" stroke-width="0.2">330&#937;</text>
<polyline points="1009.5,499.5 1009.5,504.5 1314.5,504.5 1314.5,534.5" fill="none" stroke="#008800" stroke-width="1"/>
<polyline points="1084.5,399.5 1084.5,454.5" fill="none" stroke="#008800" stroke-width="1"/>
<rect x="1080.5" y="464.5" width="8" height="20" fill="none" stroke="#880000"/>
<line x1="1084.5" y1="454.5" x2="1084.5" y2="464.0" stroke="#000000" stroke-width="1"/>
<line x1="1084.5" y1="484.0" x2="1084.5" y2="494.5" stroke="#000000" stroke-width="1"/>
<text transform="translate(1090.90 478.00) scale(0.93 1)" text-rendering="geometricPrecision" font-family="Liberation Sans" font-size="10.0" fill="#000080" text-anchor="start" stroke="#000080" stroke-width="0.2">R20</text>
<text transform="translate(1090.90 487.00) scale(0.93 1)" text-rendering="geometricPrecision" font-family="Liberation Sans" font-size="10.0" fill="#000080" text-anchor="start" stroke="#000080" stroke-width="0.2">10&#937;</text>
<polyline points="1084.5,494.5 1084.5,504.5" fill="none" stroke="#008800" stroke-width="1"/>
<polyline points="1129.5,439.5 1134.5,439.5" fill="none" stroke="#008800" stroke-width="1"/>
<line x1="1144.5" y1="430.0" x2="1144.5" y2="449.0" stroke="#880000"/>
<line x1="1134.5" y1="439.5" x2="1144.5" y2="439.5" stroke="#880000" stroke-width="1"/>
<line x1="1144.5" y1="436.0" x2="1154.5" y2="429.5" stroke="#880000"/>
<line x1="1144.5" y1="443.0" x2="1154.5" y2="449.5" stroke="#880000"/>
<line x1="1154.5" y1="429.5" x2="1154.5" y2="419.5" stroke="#880000"/>
<line x1="1154.5" y1="449.5" x2="1154.5" y2="459.5" stroke="#880000"/>
<polygon points="1154.00,449.18 1148.39,448.63 1151.22,444.27" fill="#880000" stroke="#880000" stroke-width="0.6"/>
<text transform="translate(1159.30 443.00) scale(0.93 1)" text-rendering="geometricPrecision" font-family="Liberation Sans" font-size="10.0" fill="#000080" text-anchor="start" stroke="#000080" stroke-width="0.2">Q24</text>
<text transform="translate(1159.30 452.00) scale(0.93 1)" text-rendering="geometricPrecision" font-family="Liberation Sans" font-size="10.0" fill="#000080" text-anchor="start" stroke="#000080" stroke-width="0.2">2SC5200</text>
<polyline points="1154.5,299.5 1154.5,419.5" fill="none" stroke="#008800" stroke-width="1"/>
<rect x="1150.5" y="469.5" width="8" height="20" fill="none" stroke="#880000"/>
<line x1="1154.5" y1="459.5" x2="1154.5" y2="469.0" stroke="#880000" stroke-width="1"/>
<line x1="1154.5" y1="489.0" x2="1154.5" y2="499.5" stroke="#880000" stroke-width="1"/>
<text transform="translate(1161.10 483.00) scale(0.93 1)" text-rendering="geometricPrecision" font-family="Liberation Sans" font-size="10.0" fill="#000080" text-anchor="start" stroke="#000080" stroke-width="0.2">R50</text>
<text transform="translate(1161.10 492.00) scale(0.93 1)" text-rendering="geometricPrecision" font-family="Liberation Sans" font-size="10.0" fill="#000080" text-anchor="start" stroke="#000080" stroke-width="0.2">0.2</text>
<rect x="1225.5" y="429.5" width="8" height="20" fill="none" stroke="#880000"/>
<line x1="1229.5" y1="419.5" x2="1229.5" y2="429.0" stroke="#880000" stroke-width="1"/>
<line x1="1229.5" y1="449.0" x2="1229.5" y2="459.5" stroke="#880000" stroke-width="1"/>
<text transform="translate(1236.40 443.00) scale(0.93 1)" text-rendering="geometricPrecision" font-family="Liberation Sans" font-size="10.0" fill="#000080" text-anchor="start" stroke="#000080" stroke-width="0.2">R18</text>
<text transform="translate(1236.40 452.00) scale(0.93 1)" text-rendering="geometricPrecision" font-family="Liberation Sans" font-size="10.0" fill="#000080" text-anchor="start" stroke="#000080" stroke-width="0.2">0.2</text>
<polyline points="1229.5,459.5 1229.5,504.5" fill="none" stroke="#008800" stroke-width="1"/>
<polyline points="1289.5,299.5 1289.5,434.5" fill="none" stroke="#008800" stroke-width="1"/>
<polygon points="1283.0,459.5 1296.0,459.5 1289.5,449.5" fill="none" stroke="#880000"/>
<line x1="1282.5" y1="449.5" x2="1296.5" y2="449.5" stroke="#880000" stroke-width="1"/>
<line x1="1289.5" y1="434.5" x2="1289.5" y2="449.5" stroke="#880000" stroke-width="1"/>
<line x1="1289.5" y1="459.5" x2="1289.5" y2="474.5" stroke="#880000" stroke-width="1"/>
<text transform="translate(1298.90 457.00) scale(0.93 1)" text-rendering="geometricPrecision" font-family="Liberation Sans" font-size="10.0" fill="#000080" text-anchor="start" stroke="#000080" stroke-width="0.2">D9</text>
<text transform="translate(1298.90 466.00) scale(0.93 1)" text-rendering="geometricPrecision" font-family="Liberation Sans" font-size="10.0" fill="#000080" text-anchor="start" stroke="#000080" stroke-width="0.2">MUR120</text>
<polyline points="1289.5,474.5 1289.5,504.5" fill="none" stroke="#008800" stroke-width="1"/>
<polyline points="1314.5,519.5 1404.5,519.5" fill="none" stroke="#008800" stroke-width="1"/>
<polyline points="1444.5,519.5 1489.5,519.5" fill="none" stroke="#008800" stroke-width="1"/>
<rect x="1384.5" y="424.5" width="30" height="20" rx="1.8" fill="none" stroke="#880000"/>
<line x1="1375.5" y1="434.5" x2="1384.5" y2="434.5" stroke="#880000" stroke-width="1"/>
<line x1="1414.5" y1="434.5" x2="1423.5" y2="434.5" stroke="#880000" stroke-width="1"/>
<text transform="translate(1383.70 435.00) scale(0.93 1)" text-rendering="geometricPrecision" font-family="Liberation Sans" font-size="10.0" fill="#0000FF" text-anchor="end" stroke="#0000FF" stroke-width="0.2">2</text>
<text transform="translate(1391.70 439.00) scale(0.93 1)" text-rendering="geometricPrecision" font-family="Liberation Sans" font-size="10.0" fill="#0000FF" text-anchor="middle" stroke="#0000FF" stroke-width="0.2">2</text>
<text transform="translate(1408.00 439.00) scale(0.93 1)" text-rendering="geometricPrecision" font-family="Liberation Sans" font-size="10.0" fill="#0000FF" text-anchor="middle" stroke="#0000FF" stroke-width="0.2">1</text>
<text transform="translate(1416.00 435.00) scale(0.93 1)" text-rendering="geometricPrecision" font-family="Liberation Sans" font-size="10.0" fill="#0000FF" text-anchor="start" stroke="#0000FF" stroke-width="0.2">1</text>
<rect x="1411.2" y="440.4" width="3.4" height="3.8" fill="#880000"/>
<polyline points="1375.5,434.5 1374.5,434.5 1374.5,464.5 1429.5,464.5 1429.5,434.5 1423.5,434.5" fill="none" stroke="#008800" stroke-width="1"/>
<polyline points="1429.5,434.5 1434.5,434.5" fill="none" stroke="#008800" stroke-width="1"/>
<polyline points="1374.5,464.5 1374.5,465.5" fill="none" stroke="#008800" stroke-width="1"/>
<line x1="1374.5" y1="465.5" x2="1374.5" y2="474.5" stroke="#000000" stroke-width="1"/>
<line x1="1365.5" y1="474.5" x2="1383.5" y2="474.5" stroke="#000000" stroke-width="1"/>
<line x1="1368.5" y1="476.5" x2="1380.5" y2="476.5" stroke="#000000" stroke-width="1"/>
<line x1="1371.5" y1="478.5" x2="1377.5" y2="478.5" stroke="#000000" stroke-width="1"/>
<line x1="1373.5" y1="480.5" x2="1375.5" y2="480.5" stroke="#000000" stroke-width="1"/>
<text transform="translate(1375.00 491.40)" text-rendering="geometricPrecision" font-family="Liberation Serif" font-size="13" fill="#000000" text-anchor="middle" stroke="#000000" stroke-width="0.35" textLength="25.2" lengthAdjust="spacingAndGlyphs">GND</text>
<text transform="translate(1389.10 413.00) scale(0.93 1)" text-rendering="geometricPrecision" font-family="Liberation Sans" font-size="10.0" fill="#000080" text-anchor="start" stroke="#000080" stroke-width="0.2">U2</text>
<text transform="translate(1389.10 422.00) scale(0.93 1)" text-rendering="geometricPrecision" font-family="Liberation Sans" font-size="10.0" fill="#000080" text-anchor="start" stroke="#000080" stroke-width="0.2"></text>
<text transform="translate(1375.90 422.00) scale(0.93 1)" text-rendering="geometricPrecision" font-family="Liberation Sans" font-size="10.0" fill="#000080" text-anchor="start" stroke="#000080" stroke-width="0.2">GND</text>
<polyline points="1404.5,519.5 1404.5,509.5 1414.5,509.5" fill="none" stroke="#880000" stroke-width="1"/>
<polyline points="1434.5,509.5 1444.5,509.5 1444.5,519.5" fill="none" stroke="#880000" stroke-width="1"/>
<rect x="1414.5" y="505.5" width="20" height="8" fill="none" stroke="#880000"/>
<line x1="1414.5" y1="509.5" x2="1414.0" y2="509.5" stroke="#880000" stroke-width="1"/>
<line x1="1434.0" y1="509.5" x2="1434.5" y2="509.5" stroke="#880000" stroke-width="1"/>
<text transform="translate(1416.60 494.00) scale(0.93 1)" text-rendering="geometricPrecision" font-family="Liberation Sans" font-size="10.0" fill="#000080" text-anchor="start" stroke="#000080" stroke-width="0.2">R23</text>
<text transform="translate(1416.60 503.00) scale(0.93 1)" text-rendering="geometricPrecision" font-family="Liberation Sans" font-size="10.0" fill="#000080" text-anchor="start" stroke="#000080" stroke-width="0.2">10</text>
<polyline points="1404.5,519.5 1404.5,549.5" fill="none" stroke="#008800" stroke-width="1"/>
<polyline points="1444.5,519.5 1444.5,549.5" fill="none" stroke="#008800" stroke-width="1"/>
<rect x="1404.5" y="549.5" width="40" height="30" fill="none" stroke="#000000"/>
<text transform="translate(1416.30 570.00)" text-rendering="geometricPrecision" font-family="Liberation Sans" font-size="12.5" fill="#0000FF" text-anchor="start" stroke="#0000FF" stroke-width="0.2">1uH</text>
<text transform="translate(1408.00 592.70)" text-rendering="geometricPrecision" font-family="Liberation Serif" font-size="12.4" fill="#000000" text-anchor="start" stroke="#000000" stroke-width="0.35">18 Gauge</text>
<text transform="translate(1408.80 609.60)" text-rendering="geometricPrecision" font-family="Liberation Serif" font-size="12.4" fill="#000000" text-anchor="start" stroke="#000000" stroke-width="0.35">dual layer</text>
<text transform="translate(1408.80 624.20)" text-rendering="geometricPrecision" font-family="Liberation Serif" font-size="12.4" fill="#000000" text-anchor="start" stroke="#000000" stroke-width="0.35">vertical</text>
<rect x="1489.5" y="509.5" width="30" height="20" rx="1.8" fill="none" stroke="#880000"/>
<line x1="1480.5" y1="519.5" x2="1489.5" y2="519.5" stroke="#880000" stroke-width="1"/>
<line x1="1519.5" y1="519.5" x2="1528.5" y2="519.5" stroke="#880000" stroke-width="1"/>
<text transform="translate(1488.70 520.00) scale(0.93 1)" text-rendering="geometricPrecision" font-family="Liberation Sans" font-size="10.0" fill="#0000FF" text-anchor="end" stroke="#0000FF" stroke-width="0.2">2</text>
<text transform="translate(1496.70 524.00) scale(0.93 1)" text-rendering="geometricPrecision" font-family="Liberation Sans" font-size="10.0" fill="#0000FF" text-anchor="middle" stroke="#0000FF" stroke-width="0.2">2</text>
<text transform="translate(1513.00 524.00) scale(0.93 1)" text-rendering="geometricPrecision" font-family="Liberation Sans" font-size="10.0" fill="#0000FF" text-anchor="middle" stroke="#0000FF" stroke-width="0.2">1</text>
<text transform="translate(1521.00 520.00) scale(0.93 1)" text-rendering="geometricPrecision" font-family="Liberation Sans" font-size="10.0" fill="#0000FF" text-anchor="start" stroke="#0000FF" stroke-width="0.2">1</text>
<rect x="1516.2" y="525.4" width="3.4" height="3.8" fill="#880000"/>
<text transform="translate(1499.30 497.00) scale(0.93 1)" text-rendering="geometricPrecision" font-family="Liberation Sans" font-size="10.0" fill="#000080" text-anchor="start" stroke="#000080" stroke-width="0.2">U4</text>
<text transform="translate(1499.30 506.00) scale(0.93 1)" text-rendering="geometricPrecision" font-family="Liberation Sans" font-size="10.0" fill="#000080" text-anchor="start" stroke="#000080" stroke-width="0.2"></text>
<text transform="translate(1495.80 507.00) scale(0.93 1)" text-rendering="geometricPrecision" font-family="Liberation Sans" font-size="10.0" fill="#000080" text-anchor="start" stroke="#000080" stroke-width="0.2">OUT</text>
<polyline points="1528.5,519.5 1529.5,519.5 1529.5,539.5 1479.5,539.5" fill="none" stroke="#008800" stroke-width="1"/>
<polyline points="1479.5,519.5 1479.5,549.5" fill="none" stroke="#008800" stroke-width="1"/>
<rect x="1475.5" y="559.5" width="8" height="20" fill="none" stroke="#880000"/>
<line x1="1479.5" y1="549.5" x2="1479.5" y2="559.0" stroke="#880000" stroke-width="1"/>
<line x1="1479.5" y1="579.0" x2="1479.5" y2="589.5" stroke="#880000" stroke-width="1"/>
<text transform="translate(1486.20 573.00) scale(0.93 1)" text-rendering="geometricPrecision" font-family="Liberation Sans" font-size="10.0" fill="#000080" text-anchor="start" stroke="#000080" stroke-width="0.2">R28</text>
<text transform="translate(1486.20 582.00) scale(0.93 1)" text-rendering="geometricPrecision" font-family="Liberation Sans" font-size="10.0" fill="#000080" text-anchor="start" stroke="#000080" stroke-width="0.2">10</text>
<line x1="1471.5" y1="612.5" x2="1487.5" y2="612.5" stroke="#880000" stroke-width="1"/>
<line x1="1471.5" y1="616.5" x2="1487.5" y2="616.5" stroke="#880000" stroke-width="1"/>
<line x1="1479.5" y1="594.5" x2="1479.5" y2="612.5" stroke="#880000" stroke-width="1"/>
<line x1="1479.5" y1="616.5" x2="1479.5" y2="634.5" stroke="#880000" stroke-width="1"/>
<text transform="translate(1490.10 618.00) scale(0.93 1)" text-rendering="geometricPrecision" font-family="Liberation Sans" font-size="10.0" fill="#000080" text-anchor="start" stroke="#000080" stroke-width="0.2">C16</text>
<text transform="translate(1490.10 627.00) scale(0.93 1)" text-rendering="geometricPrecision" font-family="Liberation Sans" font-size="10.0" fill="#000080" text-anchor="start" stroke="#000080" stroke-width="0.2">22nF</text>
<polyline points="1479.5,589.5 1479.5,594.5" fill="none" stroke="#008800" stroke-width="1"/>
<line x1="1479.5" y1="634.5" x2="1479.5" y2="644.5" stroke="#000000" stroke-width="1"/>
<line x1="1479.5" y1="635.5" x2="1479.5" y2="644.5" stroke="#000000" stroke-width="1"/>
<line x1="1470.5" y1="644.5" x2="1488.5" y2="644.5" stroke="#000000" stroke-width="1"/>
<line x1="1473.5" y1="646.5" x2="1485.5" y2="646.5" stroke="#000000" stroke-width="1"/>
<line x1="1476.5" y1="648.5" x2="1482.5" y2="648.5" stroke="#000000" stroke-width="1"/>
<line x1="1478.5" y1="650.5" x2="1480.5" y2="650.5" stroke="#000000" stroke-width="1"/>
<text transform="translate(1480.00 661.40)" text-rendering="geometricPrecision" font-family="Liberation Serif" font-size="13" fill="#000000" text-anchor="middle" stroke="#000000" stroke-width="0.35" textLength="25.2" lengthAdjust="spacingAndGlyphs">GND</text>
<polygon points="1283.0,639.5 1296.0,639.5 1289.5,629.5" fill="none" stroke="#880000"/>
<line x1="1282.5" y1="629.5" x2="1296.5" y2="629.5" stroke="#880000" stroke-width="1"/>
<line x1="1289.5" y1="614.5" x2="1289.5" y2="629.5" stroke="#880000" stroke-width="1"/>
<line x1="1289.5" y1="639.5" x2="1289.5" y2="654.5" stroke="#880000" stroke-width="1"/>
<text transform="translate(1298.90 637.00) scale(0.93 1)" text-rendering="geometricPrecision" font-family="Liberation Sans" font-size="10.0" fill="#000080" text-anchor="start" stroke="#000080" stroke-width="0.2">D13</text>
<text transform="translate(1298.90 646.00) scale(0.93 1)" text-rendering="geometricPrecision" font-family="Liberation Sans" font-size="10.0" fill="#000080" text-anchor="start" stroke="#000080" stroke-width="0.2">MUR120</text>
<line x1="1429.5" y1="724.5" x2="1429.5" y2="733.5" stroke="#000000" stroke-width="1"/>
<line x1="1420.5" y1="724.5" x2="1438.5" y2="724.5" stroke="#000000" stroke-width="1"/>
<line x1="1423.5" y1="722.5" x2="1435.5" y2="722.5" stroke="#000000" stroke-width="1"/>
<line x1="1426.5" y1="720.5" x2="1432.5" y2="720.5" stroke="#000000" stroke-width="1"/>
<line x1="1428.5" y1="718.5" x2="1430.5" y2="718.5" stroke="#000000" stroke-width="1"/>
<text transform="translate(1430.00 715.00)" text-rendering="geometricPrecision" font-family="Liberation Serif" font-size="13" fill="#000000" text-anchor="middle" stroke="#000000" stroke-width="0.35" textLength="25.2" lengthAdjust="spacingAndGlyphs">GND</text>
<rect x="24.5" y="609.5" width="20" height="30" rx="3" fill="none" stroke="#880000"/>
<line x1="45.5" y1="619.5" x2="54.5" y2="619.5" stroke="#880000" stroke-width="1"/>
<polyline points="45.5,629.5 54.5,629.5" fill="none" stroke="#880000" stroke-width="1"/>
<text transform="translate(46.00 618.00) scale(0.93 1)" text-rendering="geometricPrecision" font-family="Liberation Sans" font-size="10.0" fill="#0000FF" text-anchor="start" stroke="#0000FF" stroke-width="0.2">2</text>
<text transform="translate(46.00 628.00) scale(0.93 1)" text-rendering="geometricPrecision" font-family="Liberation Sans" font-size="10.0" fill="#0000FF" text-anchor="start" stroke="#0000FF" stroke-width="0.2">1</text>
<text transform="translate(40.50 624.00) scale(0.93 1)" text-rendering="geometricPrecision" font-family="Liberation Sans" font-size="10.0" fill="#0000FF" text-anchor="end" stroke="#0000FF" stroke-width="0.2">2</text>
<text transform="translate(40.50 634.00) scale(0.93 1)" text-rendering="geometricPrecision" font-family="Liberation Sans" font-size="10.0" fill="#0000FF" text-anchor="end" stroke="#0000FF" stroke-width="0.2">1</text>
<rect x="38" y="633.4" width="3.8" height="2.4" fill="#880000"/>
<text transform="translate(29.90 603.00) scale(0.93 1)" text-rendering="geometricPrecision" font-family="Liberation Sans" font-size="10.0" fill="#000080" text-anchor="start" stroke="#000080" stroke-width="0.2">X1</text>
<text transform="translate(24.80 648.00) scale(0.93 1)" text-rendering="geometricPrecision" font-family="Liberation Sans" font-size="10.0" fill="#000080" text-anchor="start" stroke="#000080" stroke-width="0.2">Input</text>
<polyline points="54.5,629.5 54.5,889.5 569.5,889.5" fill="none" stroke="#008800" stroke-width="1"/>
<polyline points="54.5,619.5 74.5,619.5" fill="none" stroke="#008800" stroke-width="1"/>
<rect x="84.5" y="615.5" width="20" height="8" fill="none" stroke="#880000"/>
<line x1="74.5" y1="619.5" x2="84.0" y2="619.5" stroke="#880000" stroke-width="1"/>
<line x1="104.0" y1="619.5" x2="114.5" y2="619.5" stroke="#880000" stroke-width="1"/>
<text transform="translate(89.20 604.00) scale(0.93 1)" text-rendering="geometricPrecision" font-family="Liberation Sans" font-size="10.0" fill="#000080" text-anchor="start" stroke="#000080" stroke-width="0.2">R33</text>
<text transform="translate(89.20 613.00) scale(0.93 1)" text-rendering="geometricPrecision" font-family="Liberation Sans" font-size="10.0" fill="#000080" text-anchor="start" stroke="#000080" stroke-width="0.2">100</text>
<polyline points="114.5,619.5 119.5,619.5" fill="none" stroke="#008800" stroke-width="1"/>
<line x1="137.5" y1="611.5" x2="137.5" y2="627.5" stroke="#880000" stroke-width="1"/>
<line x1="141.5" y1="611.5" x2="141.5" y2="627.5" stroke="#880000" stroke-width="1"/>
<line x1="119.5" y1="619.5" x2="137.5" y2="619.5" stroke="#880000" stroke-width="1"/>
<line x1="141.5" y1="619.5" x2="159.5" y2="619.5" stroke="#880000" stroke-width="1"/>
<text transform="translate(134.00 600.00) scale(0.93 1)" text-rendering="geometricPrecision" font-family="Liberation Sans" font-size="10.0" fill="#000080" text-anchor="start" stroke="#000080" stroke-width="0.2">C17</text>
<text transform="translate(134.00 609.00) scale(0.93 1)" text-rendering="geometricPrecision" font-family="Liberation Sans" font-size="10.0" fill="#000080" text-anchor="start" stroke="#000080" stroke-width="0.2">4.7uF</text>
<polyline points="159.5,619.5 164.5,619.5" fill="none" stroke="#008800" stroke-width="1"/>
<rect x="174.5" y="615.5" width="20" height="8" fill="none" stroke="#880000"/>
<line x1="164.5" y1="619.5" x2="174.0" y2="619.5" stroke="#880000" stroke-width="1"/>
<line x1="194.0" y1="619.5" x2="204.5" y2="619.5" stroke="#880000" stroke-width="1"/>
<text transform="translate(179.00 604.00) scale(0.93 1)" text-rendering="geometricPrecision" font-family="Liberation Sans" font-size="10.0" fill="#000080" text-anchor="start" stroke="#000080" stroke-width="0.2">R34</text>
<text transform="translate(179.00 613.00) scale(0.93 1)" text-rendering="geometricPrecision" font-family="Liberation Sans" font-size="10.0" fill="#000080" text-anchor="start" stroke="#000080" stroke-width="0.2">680</text>
<polyline points="204.5,619.5 229.5,619.5" fill="none" stroke="#008800" stroke-width="1"/>
<polyline points="74.5,619.5 74.5,679.5" fill="none" stroke="#008800" stroke-width="1"/>
<rect x="70.5" y="689.5" width="8" height="20" fill="none" stroke="#880000"/>
<line x1="74.5" y1="679.5" x2="74.5" y2="689.0" stroke="#880000" stroke-width="1"/>
<line x1="74.5" y1="709.0" x2="74.5" y2="719.5" stroke="#880000" stroke-width="1"/>
<polyline points="74.5,719.5 74.5,889.5" fill="none" stroke="#008800" stroke-width="1"/>
<text transform="translate(80.90 703.00) scale(0.93 1)" text-rendering="geometricPrecision" font-family="Liberation Sans" font-size="10.0" fill="#000080" text-anchor="start" stroke="#000080" stroke-width="0.2">R43</text>
<text transform="translate(80.90 712.00) scale(0.93 1)" text-rendering="geometricPrecision" font-family="Liberation Sans" font-size="10.0" fill="#000080" text-anchor="start" stroke="#000080" stroke-width="0.2">100K</text>
<polyline points="119.5,619.5 119.5,679.5" fill="none" stroke="#008800" stroke-width="1"/>
<line x1="111.5" y1="697.5" x2="127.5" y2="697.5" stroke="#880000" stroke-width="1"/>
<line x1="111.5" y1="701.5" x2="127.5" y2="701.5" stroke="#880000" stroke-width="1"/>
<line x1="119.5" y1="679.5" x2="119.5" y2="697.5" stroke="#880000" stroke-width="1"/>
<line x1="119.5" y1="701.5" x2="119.5" y2="719.5" stroke="#880000" stroke-width="1"/>
<polyline points="119.5,719.5 119.5,889.5" fill="none" stroke="#008800" stroke-width="1"/>
<text transform="translate(130.30 703.00) scale(0.93 1)" text-rendering="geometricPrecision" font-family="Liberation Sans" font-size="10.0" fill="#000080" text-anchor="start" stroke="#000080" stroke-width="0.2">C21</text>
<text transform="translate(130.30 712.00) scale(0.93 1)" text-rendering="geometricPrecision" font-family="Liberation Sans" font-size="10.0" fill="#000080" text-anchor="start" stroke="#000080" stroke-width="0.2">470pF</text>
<polyline points="209.5,619.5 209.5,654.5" fill="none" stroke="#008800" stroke-width="1"/>
<rect x="204.5" y="664.5" width="10" height="20" fill="none" stroke="#880000"/>
<line x1="209.5" y1="654.5" x2="209.5" y2="664.0" stroke="#880000" stroke-width="1"/>
<line x1="209.5" y1="684.0" x2="209.5" y2="694.5" stroke="#880000" stroke-width="1"/>
<polyline points="209.5,694.5 209.5,904.5" fill="none" stroke="#008800" stroke-width="1"/>
<text transform="translate(217.10 678.00) scale(0.93 1)" text-rendering="geometricPrecision" font-family="Liberation Sans" font-size="10.0" fill="#000080" text-anchor="start" stroke="#000080" stroke-width="0.2">R39</text>
<text transform="translate(217.10 687.00) scale(0.93 1)" text-rendering="geometricPrecision" font-family="Liberation Sans" font-size="10.0" fill="#000080" text-anchor="start" stroke="#000080" stroke-width="0.2">22k&#937;</text>
<line x1="239.5" y1="610.0" x2="239.5" y2="629.0" stroke="#880000"/>
<line x1="229.5" y1="619.5" x2="239.5" y2="619.5" stroke="#880000" stroke-width="1"/>
<line x1="239.5" y1="616.0" x2="249.5" y2="609.5" stroke="#880000"/>
<line x1="239.5" y1="623.0" x2="249.5" y2="629.5" stroke="#880000"/>
<line x1="249.5" y1="609.5" x2="249.5" y2="599.5" stroke="#880000"/>
<line x1="249.5" y1="629.5" x2="249.5" y2="639.5" stroke="#880000"/>
<polygon points="249.00,629.17 243.39,628.63 246.22,624.27" fill="#880000" stroke="#880000" stroke-width="0.6"/>
<text transform="translate(261.70 623.00) scale(0.93 1)" text-rendering="geometricPrecision" font-family="Liberation Sans" font-size="10.0" fill="#000080" text-anchor="start" stroke="#000080" stroke-width="0.2">Q13</text>
<text transform="translate(258.50 657.70) rotate(-90) scale(0.93 1)" text-rendering="geometricPrecision" font-family="Liberation Sans" font-size="10.0" fill="#000080" text-anchor="start" stroke="#000080" stroke-width="0.2">2N5551L-B-T92-B</text>
<polyline points="249.5,434.5 249.5,599.5" fill="none" stroke="#008800" stroke-width="1"/>
<polyline points="249.5,639.5 249.5,659.5" fill="none" stroke="#008800" stroke-width="1"/>
<polyline points="249.5,654.5 284.5,654.5" fill="none" stroke="#008800" stroke-width="1"/>
<rect x="244.5" y="669.5" width="10" height="20" fill="none" stroke="#880000"/>
<line x1="249.5" y1="659.5" x2="249.5" y2="669.0" stroke="#880000" stroke-width="1"/>
<line x1="249.5" y1="689.0" x2="249.5" y2="699.5" stroke="#880000" stroke-width="1"/>
<text transform="translate(257.10 682.00) scale(0.93 1)" text-rendering="geometricPrecision" font-family="Liberation Sans" font-size="10.0" fill="#000080" text-anchor="start" stroke="#000080" stroke-width="0.2">R40</text>
<text transform="translate(257.10 691.00) scale(0.93 1)" text-rendering="geometricPrecision" font-family="Liberation Sans" font-size="10.0" fill="#000080" text-anchor="start" stroke="#000080" stroke-width="0.2">22k&#937;</text>
<line x1="294.5" y1="645.0" x2="294.5" y2="664.0" stroke="#880000"/>
<line x1="284.5" y1="654.5" x2="294.5" y2="654.5" stroke="#880000" stroke-width="1"/>
<line x1="294.5" y1="651.0" x2="304.5" y2="644.5" stroke="#880000"/>
<line x1="294.5" y1="658.0" x2="304.5" y2="664.5" stroke="#880000"/>
<line x1="304.5" y1="644.5" x2="304.5" y2="634.5" stroke="#880000"/>
<line x1="304.5" y1="664.5" x2="304.5" y2="674.5" stroke="#880000"/>
<polygon points="294.80,650.80 297.58,645.90 300.41,650.26" fill="#880000" stroke="#880000" stroke-width="0.6"/>
<text transform="translate(301.60 658.00) scale(0.93 1)" text-rendering="geometricPrecision" font-family="Liberation Sans" font-size="10.0" fill="#000080" text-anchor="start" stroke="#000080" stroke-width="0.2">Q16</text>
<text transform="translate(328.40 688.70) rotate(-90) scale(0.93 1)" text-rendering="geometricPrecision" font-family="Liberation Sans" font-size="10.0" fill="#000080" text-anchor="start" stroke="#000080" stroke-width="0.2" textLength="83.33" lengthAdjust="spacingAndGlyphs">2N5401 G-B-T92- B</text>
<polyline points="249.5,699.5 484.5,699.5" fill="none" stroke="#008800" stroke-width="1"/>
<polyline points="304.5,589.5 434.5,589.5" fill="none" stroke="#008800" stroke-width="1"/>
<rect x="300.5" y="599.5" width="8" height="20" fill="none" stroke="#880000"/>
<line x1="304.5" y1="589.5" x2="304.5" y2="599.0" stroke="#880000" stroke-width="1"/>
<line x1="304.5" y1="619.0" x2="304.5" y2="629.5" stroke="#880000" stroke-width="1"/>
<polyline points="304.5,629.5 304.5,634.5" fill="none" stroke="#008800" stroke-width="1"/>
<text transform="translate(311.00 613.00) scale(0.93 1)" text-rendering="geometricPrecision" font-family="Liberation Sans" font-size="10.0" fill="#000080" text-anchor="start" stroke="#000080" stroke-width="0.2">R31</text>
<text transform="translate(311.00 622.00) scale(0.93 1)" text-rendering="geometricPrecision" font-family="Liberation Sans" font-size="10.0" fill="#000080" text-anchor="start" stroke="#000080" stroke-width="0.2">220</text>
<rect x="430.5" y="599.5" width="8" height="20" fill="none" stroke="#880000"/>
<line x1="434.5" y1="589.5" x2="434.5" y2="599.0" stroke="#880000" stroke-width="1"/>
<line x1="434.5" y1="619.0" x2="434.5" y2="629.5" stroke="#880000" stroke-width="1"/>
<polyline points="434.5,629.5 434.5,634.5" fill="none" stroke="#008800" stroke-width="1"/>
<text transform="translate(440.90 613.00) scale(0.93 1)" text-rendering="geometricPrecision" font-family="Liberation Sans" font-size="10.0" fill="#000080" text-anchor="start" stroke="#000080" stroke-width="0.2">R32</text>
<text transform="translate(440.90 622.00) scale(0.93 1)" text-rendering="geometricPrecision" font-family="Liberation Sans" font-size="10.0" fill="#000080" text-anchor="start" stroke="#000080" stroke-width="0.2">220</text>
<line x1="444.5" y1="645.0" x2="444.5" y2="664.0" stroke="#880000"/>
<line x1="454.5" y1="654.5" x2="444.5" y2="654.5" stroke="#880000" stroke-width="1"/>
<line x1="444.5" y1="651.0" x2="434.5" y2="644.5" stroke="#880000"/>
<line x1="444.5" y1="658.0" x2="434.5" y2="664.5" stroke="#880000"/>
<line x1="434.5" y1="644.5" x2="434.5" y2="634.5" stroke="#880000"/>
<line x1="434.5" y1="664.5" x2="434.5" y2="674.5" stroke="#880000"/>
<polygon points="444.20,650.80 438.59,650.26 441.42,645.90" fill="#880000" stroke="#880000" stroke-width="0.6"/>
<text transform="translate(438.50 658.00) scale(0.93 1)" text-rendering="geometricPrecision" font-family="Liberation Sans" font-size="10.0" fill="#000080" text-anchor="end" stroke="#000080" stroke-width="0.2">Q17</text>
<text transform="translate(417.30 688.00) rotate(-90) scale(0.93 1)" text-rendering="geometricPrecision" font-family="Liberation Sans" font-size="10.0" fill="#000080" text-anchor="start" stroke="#000080" stroke-width="0.2" textLength="83.33" lengthAdjust="spacingAndGlyphs">2N5401 G-B-T92- B</text>
<polyline points="454.5,654.5 484.5,654.5" fill="none" stroke="#008800" stroke-width="1"/>
<line x1="494.5" y1="610.0" x2="494.5" y2="629.0" stroke="#880000"/>
<line x1="504.5" y1="619.5" x2="494.5" y2="619.5" stroke="#880000" stroke-width="1"/>
<line x1="494.5" y1="616.0" x2="484.5" y2="609.5" stroke="#880000"/>
<line x1="494.5" y1="623.0" x2="484.5" y2="629.5" stroke="#880000"/>
<line x1="484.5" y1="609.5" x2="484.5" y2="599.5" stroke="#880000"/>
<line x1="484.5" y1="629.5" x2="484.5" y2="639.5" stroke="#880000"/>
<polygon points="485.00,629.17 487.78,624.27 490.61,628.63" fill="#880000" stroke="#880000" stroke-width="0.6"/>
<text transform="translate(456.50 622.00) scale(0.93 1)" text-rendering="geometricPrecision" font-family="Liberation Sans" font-size="10.0" fill="#000080" text-anchor="start" stroke="#000080" stroke-width="0.2">Q14</text>
<text transform="translate(482.80 672.20) rotate(-90) scale(0.93 1)" text-rendering="geometricPrecision" font-family="Liberation Sans" font-size="10.0" fill="#000080" text-anchor="start" stroke="#000080" stroke-width="0.2" textLength="81.18" lengthAdjust="spacingAndGlyphs">2N5551L-B-T92- B</text>
<polyline points="484.5,434.5 484.5,599.5" fill="none" stroke="#008800" stroke-width="1"/>
<polyline points="484.5,639.5 484.5,659.5" fill="none" stroke="#008800" stroke-width="1"/>
<rect x="479.5" y="669.5" width="10" height="20" fill="none" stroke="#880000"/>
<line x1="484.5" y1="659.5" x2="484.5" y2="669.0" stroke="#880000" stroke-width="1"/>
<line x1="484.5" y1="689.0" x2="484.5" y2="699.5" stroke="#880000" stroke-width="1"/>
<text transform="translate(491.90 683.00) scale(0.93 1)" text-rendering="geometricPrecision" font-family="Liberation Sans" font-size="10.0" fill="#000080" text-anchor="start" stroke="#000080" stroke-width="0.2">R41</text>
<text transform="translate(491.90 692.00) scale(0.93 1)" text-rendering="geometricPrecision" font-family="Liberation Sans" font-size="10.0" fill="#000080" text-anchor="start" stroke="#000080" stroke-width="0.2">22k&#937;</text>
<polyline points="374.5,554.5 374.5,804.5" fill="none" stroke="#008800" stroke-width="1"/>
<polyline points="434.5,369.5 434.5,589.5" fill="none" stroke="#008800" stroke-width="1"/>
<polyline points="434.5,674.5 434.5,709.5" fill="none" stroke="#008800" stroke-width="1"/>
<polyline points="434.5,749.5 434.5,849.5" fill="none" stroke="#008800" stroke-width="1"/>
<polyline points="304.5,674.5 304.5,709.5" fill="none" stroke="#008800" stroke-width="1"/>
<polyline points="304.5,749.5 304.5,804.5" fill="none" stroke="#008800" stroke-width="1"/>
<line x1="314.5" y1="720.0" x2="314.5" y2="739.0" stroke="#880000"/>
<line x1="324.5" y1="729.5" x2="314.5" y2="729.5" stroke="#880000" stroke-width="1"/>
<line x1="314.5" y1="726.0" x2="304.5" y2="719.5" stroke="#880000"/>
<line x1="314.5" y1="733.0" x2="304.5" y2="739.5" stroke="#880000"/>
<line x1="304.5" y1="719.5" x2="304.5" y2="709.5" stroke="#880000"/>
<line x1="304.5" y1="739.5" x2="304.5" y2="749.5" stroke="#880000"/>
<polygon points="314.20,725.80 308.59,725.26 311.42,720.90" fill="#880000" stroke="#880000" stroke-width="0.6"/>
<text transform="translate(307.90 733.00) scale(0.93 1)" text-rendering="geometricPrecision" font-family="Liberation Sans" font-size="10.0" fill="#000080" text-anchor="end" stroke="#000080" stroke-width="0.2">Q20</text>
<text transform="translate(287.40 763.00) rotate(-90) scale(0.93 1)" text-rendering="geometricPrecision" font-family="Liberation Sans" font-size="10.0" fill="#000080" text-anchor="start" stroke="#000080" stroke-width="0.2" textLength="83.33" lengthAdjust="spacingAndGlyphs">2N5401 G-B-T92- B</text>
<rect x="334.5" y="725.5" width="20" height="8" fill="none" stroke="#880000"/>
<line x1="324.5" y1="729.5" x2="334.0" y2="729.5" stroke="#880000" stroke-width="1"/>
<line x1="354.0" y1="729.5" x2="364.5" y2="729.5" stroke="#880000" stroke-width="1"/>
<text transform="translate(339.40 713.00) scale(0.93 1)" text-rendering="geometricPrecision" font-family="Liberation Sans" font-size="10.0" fill="#000080" text-anchor="start" stroke="#000080" stroke-width="0.2">R45</text>
<text transform="translate(339.40 722.00) scale(0.93 1)" text-rendering="geometricPrecision" font-family="Liberation Sans" font-size="10.0" fill="#000080" text-anchor="start" stroke="#000080" stroke-width="0.2">100</text>
<polyline points="364.5,729.5 374.5,729.5" fill="none" stroke="#008800" stroke-width="1"/>
<rect x="384.5" y="725.5" width="20" height="8" fill="none" stroke="#880000"/>
<line x1="374.5" y1="729.5" x2="384.0" y2="729.5" stroke="#880000" stroke-width="1"/>
<line x1="404.0" y1="729.5" x2="414.5" y2="729.5" stroke="#880000" stroke-width="1"/>
<text transform="translate(389.30 713.00) scale(0.93 1)" text-rendering="geometricPrecision" font-family="Liberation Sans" font-size="10.0" fill="#000080" text-anchor="start" stroke="#000080" stroke-width="0.2">R46</text>
<text transform="translate(389.30 722.00) scale(0.93 1)" text-rendering="geometricPrecision" font-family="Liberation Sans" font-size="10.0" fill="#000080" text-anchor="start" stroke="#000080" stroke-width="0.2">100</text>
<line x1="424.5" y1="720.0" x2="424.5" y2="739.0" stroke="#880000"/>
<line x1="414.5" y1="729.5" x2="424.5" y2="729.5" stroke="#880000" stroke-width="1"/>
<line x1="424.5" y1="726.0" x2="434.5" y2="719.5" stroke="#880000"/>
<line x1="424.5" y1="733.0" x2="434.5" y2="739.5" stroke="#880000"/>
<line x1="434.5" y1="719.5" x2="434.5" y2="709.5" stroke="#880000"/>
<line x1="434.5" y1="739.5" x2="434.5" y2="749.5" stroke="#880000"/>
<polygon points="424.80,725.80 427.58,720.90 430.41,725.26" fill="#880000" stroke="#880000" stroke-width="0.6"/>
<text transform="translate(431.40 733.00) scale(0.93 1)" text-rendering="geometricPrecision" font-family="Liberation Sans" font-size="10.0" fill="#000080" text-anchor="start" stroke="#000080" stroke-width="0.2">Q21</text>
<text transform="translate(457.90 763.70) rotate(-90) scale(0.93 1)" text-rendering="geometricPrecision" font-family="Liberation Sans" font-size="10.0" fill="#000080" text-anchor="start" stroke="#000080" stroke-width="0.2" textLength="83.33" lengthAdjust="spacingAndGlyphs">2N5401 G-B-T92- B</text>
<rect x="300.5" y="814.5" width="8" height="20" fill="none" stroke="#880000"/>
<line x1="304.5" y1="804.5" x2="304.5" y2="814.0" stroke="#880000" stroke-width="1"/>
<line x1="304.5" y1="834.0" x2="304.5" y2="844.5" stroke="#880000" stroke-width="1"/>
<text transform="translate(311.00 828.00) scale(0.93 1)" text-rendering="geometricPrecision" font-family="Liberation Sans" font-size="10.0" fill="#000080" text-anchor="start" stroke="#000080" stroke-width="0.2">R52</text>
<text transform="translate(311.00 837.00) scale(0.93 1)" text-rendering="geometricPrecision" font-family="Liberation Sans" font-size="10.0" fill="#000080" text-anchor="start" stroke="#000080" stroke-width="0.2">750</text>
<rect x="370.5" y="814.5" width="8" height="20" fill="none" stroke="#880000"/>
<line x1="374.5" y1="804.5" x2="374.5" y2="814.0" stroke="#000000" stroke-width="1"/>
<line x1="374.5" y1="834.0" x2="374.5" y2="844.5" stroke="#000000" stroke-width="1"/>
<text transform="translate(381.10 828.00) scale(0.93 1)" text-rendering="geometricPrecision" font-family="Liberation Sans" font-size="10.0" fill="#000080" text-anchor="start" stroke="#000080" stroke-width="0.2">R53</text>
<text transform="translate(381.10 837.00) scale(0.93 1)" text-rendering="geometricPrecision" font-family="Liberation Sans" font-size="10.0" fill="#000080" text-anchor="start" stroke="#000080" stroke-width="0.2">4.7K</text>
<line x1="254.5" y1="774.5" x2="254.5" y2="783.5" stroke="#000000" stroke-width="1"/>
<line x1="245.5" y1="774.5" x2="263.5" y2="774.5" stroke="#000000" stroke-width="1"/>
<line x1="248.5" y1="772.5" x2="260.5" y2="772.5" stroke="#000000" stroke-width="1"/>
<line x1="251.5" y1="770.5" x2="257.5" y2="770.5" stroke="#000000" stroke-width="1"/>
<line x1="253.5" y1="768.5" x2="255.5" y2="768.5" stroke="#000000" stroke-width="1"/>
<text transform="translate(255.00 765.00)" text-rendering="geometricPrecision" font-family="Liberation Serif" font-size="13" fill="#000000" text-anchor="middle" stroke="#000000" stroke-width="0.35" textLength="25.2" lengthAdjust="spacingAndGlyphs">GND</text>
<polyline points="254.5,783.5 254.5,809.5" fill="none" stroke="#008800" stroke-width="1"/>
<line x1="246.5" y1="827.5" x2="262.5" y2="827.5" stroke="#880000" stroke-width="1"/>
<line x1="246.5" y1="831.5" x2="262.5" y2="831.5" stroke="#880000" stroke-width="1"/>
<line x1="254.5" y1="809.5" x2="254.5" y2="827.5" stroke="#880000" stroke-width="1"/>
<line x1="254.5" y1="831.5" x2="254.5" y2="849.5" stroke="#880000" stroke-width="1"/>
<polyline points="254.5,849.5 254.5,849.5" fill="none" stroke="#880000" stroke-width="1"/>
<text transform="translate(267.00 833.00) scale(0.93 1)" text-rendering="geometricPrecision" font-family="Liberation Sans" font-size="10.0" fill="#000080" text-anchor="start" stroke="#000080" stroke-width="0.2">C25</text>
<text transform="translate(267.00 842.00) scale(0.93 1)" text-rendering="geometricPrecision" font-family="Liberation Sans" font-size="10.0" fill="#000080" text-anchor="start" stroke="#000080" stroke-width="0.2">1uF</text>
<polyline points="254.5,849.5 1004.5,849.5" fill="none" stroke="#008800" stroke-width="1"/>
<polyline points="209.5,904.5 244.5,904.5 244.5,904.5" fill="none" stroke="#008800" stroke-width="1"/>
<rect x="205.5" y="914.5" width="8" height="20" fill="none" stroke="#880000"/>
<line x1="209.5" y1="904.5" x2="209.5" y2="914.0" stroke="#880000" stroke-width="1"/>
<line x1="209.5" y1="934.0" x2="209.5" y2="944.5" stroke="#880000" stroke-width="1"/>
<text transform="translate(216.20 928.00) scale(0.93 1)" text-rendering="geometricPrecision" font-family="Liberation Sans" font-size="10.0" fill="#000080" text-anchor="start" stroke="#000080" stroke-width="0.2">R56</text>
<text transform="translate(216.20 937.00) scale(0.93 1)" text-rendering="geometricPrecision" font-family="Liberation Sans" font-size="10.0" fill="#000080" text-anchor="start" stroke="#000080" stroke-width="0.2">10&#937;</text>
<line x1="236.5" y1="922.5" x2="252.5" y2="922.5" stroke="#880000" stroke-width="1"/>
<line x1="236.5" y1="926.5" x2="252.5" y2="926.5" stroke="#880000" stroke-width="1"/>
<line x1="244.5" y1="904.5" x2="244.5" y2="922.5" stroke="#880000" stroke-width="1"/>
<line x1="244.5" y1="926.5" x2="244.5" y2="944.5" stroke="#880000" stroke-width="1"/>
<text transform="translate(256.60 928.00) scale(0.93 1)" text-rendering="geometricPrecision" font-family="Liberation Sans" font-size="10.0" fill="#000080" text-anchor="start" stroke="#000080" stroke-width="0.2">C26</text>
<text transform="translate(256.60 937.00) scale(0.93 1)" text-rendering="geometricPrecision" font-family="Liberation Sans" font-size="10.0" fill="#000080" text-anchor="start" stroke="#000080" stroke-width="0.2">22nF</text>
<polyline points="209.5,944.5 244.5,944.5" fill="none" stroke="#008800" stroke-width="1"/>
<polyline points="209.5,889.5 209.5,904.5" fill="none" stroke="#008800" stroke-width="1"/>
<line x1="209.5" y1="944.5" x2="209.5" y2="945.5" stroke="#000000" stroke-width="1"/>
<line x1="209.5" y1="945.5" x2="209.5" y2="954.5" stroke="#000000" stroke-width="1"/>
<line x1="200.5" y1="954.5" x2="218.5" y2="954.5" stroke="#000000" stroke-width="1"/>
<line x1="203.5" y1="956.5" x2="215.5" y2="956.5" stroke="#000000" stroke-width="1"/>
<line x1="206.5" y1="958.5" x2="212.5" y2="958.5" stroke="#000000" stroke-width="1"/>
<line x1="208.5" y1="960.5" x2="210.5" y2="960.5" stroke="#000000" stroke-width="1"/>
<text transform="translate(210.00 971.40)" text-rendering="geometricPrecision" font-family="Liberation Serif" font-size="13" fill="#000000" text-anchor="middle" stroke="#000000" stroke-width="0.35" textLength="25.2" lengthAdjust="spacingAndGlyphs">GND</text>
<polyline points="324.5,544.5 324.5,569.5 484.5,569.5" fill="none" stroke="#008800" stroke-width="1"/>
<line x1="504.5" y1="560.0" x2="504.5" y2="579.0" stroke="#880000"/>
<line x1="484.5" y1="569.5" x2="504.5" y2="569.5" stroke="#880000" stroke-width="1"/>
<line x1="504.5" y1="566.0" x2="514.5" y2="559.5" stroke="#880000"/>
<line x1="504.5" y1="573.0" x2="514.5" y2="579.5" stroke="#880000"/>
<line x1="514.5" y1="559.5" x2="514.5" y2="549.5" stroke="#880000"/>
<line x1="514.5" y1="579.5" x2="514.5" y2="589.5" stroke="#880000"/>
<polygon points="504.80,565.80 507.58,560.90 510.41,565.26" fill="#fff" fill-opacity="0.3" stroke="#880000" stroke-width="1"/>
<polyline points="514.5,544.5 514.5,549.5" fill="none" stroke="#008800" stroke-width="1"/>
<polyline points="514.5,589.5 514.5,594.5" fill="none" stroke="#008800" stroke-width="1"/>
<text transform="translate(509.20 573.00) scale(0.93 1)" text-rendering="geometricPrecision" font-family="Liberation Sans" font-size="10.0" fill="#000080" text-anchor="start" stroke="#000080" stroke-width="0.2">Q11</text>
<text transform="translate(519.50 588.00) scale(0.93 1)" text-rendering="geometricPrecision" font-family="Liberation Sans" font-size="10.0" fill="#000080" text-anchor="start" stroke="#000080" stroke-width="0.2">MJE350G</text>
<polyline points="474.5,569.5 474.5,594.5" fill="none" stroke="#008800" stroke-width="1"/>
<line x1="492.5" y1="586.5" x2="492.5" y2="602.5" stroke="#880000" stroke-width="1"/>
<line x1="496.5" y1="586.5" x2="496.5" y2="602.5" stroke="#880000" stroke-width="1"/>
<line x1="474.5" y1="594.5" x2="492.5" y2="594.5" stroke="#880000" stroke-width="1"/>
<line x1="496.5" y1="594.5" x2="514.5" y2="594.5" stroke="#880000" stroke-width="1"/>
<text transform="translate(489.10 575.00) scale(0.93 1)" text-rendering="geometricPrecision" font-family="Liberation Sans" font-size="10.0" fill="#000080" text-anchor="start" stroke="#000080" stroke-width="0.2">C15</text>
<text transform="translate(489.10 584.00) scale(0.93 1)" text-rendering="geometricPrecision" font-family="Liberation Sans" font-size="10.0" fill="#000080" text-anchor="start" stroke="#000080" stroke-width="0.2">1nF</text>
<polyline points="514.5,539.5 514.5,544.5" fill="none" stroke="#008800" stroke-width="1"/>
<line x1="514.5" y1="544.5" x2="524.5" y2="544.5" stroke="#000000" stroke-width="1"/>
<circle cx="528.2" cy="544.5" r="2.8" fill="none" stroke="#000000"/>
<text transform="translate(531.70 548.80)" text-rendering="geometricPrecision" font-family="Liberation Serif" font-size="12.5" fill="#000000" text-anchor="start" stroke="#000000" stroke-width="0.35">-15</text>
<polyline points="514.5,594.5 514.5,809.5" fill="none" stroke="#008800" stroke-width="1"/>
<rect x="510.5" y="819.5" width="8" height="20" fill="none" stroke="#880000"/>
<line x1="514.5" y1="809.5" x2="514.5" y2="819.0" stroke="#880000" stroke-width="1"/>
<line x1="514.5" y1="839.0" x2="514.5" y2="849.5" stroke="#880000" stroke-width="1"/>
<text transform="translate(521.40 833.00) scale(0.93 1)" text-rendering="geometricPrecision" font-family="Liberation Sans" font-size="10.0" fill="#000080" text-anchor="start" stroke="#000080" stroke-width="0.2">R54</text>
<text transform="translate(521.40 842.00) scale(0.93 1)" text-rendering="geometricPrecision" font-family="Liberation Sans" font-size="10.0" fill="#000080" text-anchor="start" stroke="#000080" stroke-width="0.2">2k&#937;</text>
<polyline points="569.5,89.5 569.5,639.5" fill="none" stroke="#008800" stroke-width="1"/>
<rect x="565.5" y="649.5" width="8" height="20" fill="none" stroke="#880000"/>
<line x1="569.5" y1="639.5" x2="569.5" y2="649.0" stroke="#880000" stroke-width="1"/>
<line x1="569.5" y1="669.0" x2="569.5" y2="679.5" stroke="#880000" stroke-width="1"/>
<text transform="translate(576.10 663.00) scale(0.93 1)" text-rendering="geometricPrecision" font-family="Liberation Sans" font-size="10.0" fill="#000080" text-anchor="start" stroke="#000080" stroke-width="0.2">R37</text>
<text transform="translate(576.10 672.00) scale(0.93 1)" text-rendering="geometricPrecision" font-family="Liberation Sans" font-size="10.0" fill="#000080" text-anchor="start" stroke="#000080" stroke-width="0.2">750</text>
<polyline points="569.5,679.5 569.5,889.5" fill="none" stroke="#008800" stroke-width="1"/>
<rect x="579.5" y="569.5" width="20" height="10" fill="none" stroke="#880000"/>
<line x1="569.5" y1="574.5" x2="579.0" y2="574.5" stroke="#880000" stroke-width="1"/>
<line x1="599.0" y1="574.5" x2="609.5" y2="574.5" stroke="#880000" stroke-width="1"/>
<text transform="translate(584.00 557.00) scale(0.93 1)" text-rendering="geometricPrecision" font-family="Liberation Sans" font-size="10.0" fill="#000080" text-anchor="start" stroke="#000080" stroke-width="0.2">R29</text>
<text transform="translate(584.00 566.00) scale(0.93 1)" text-rendering="geometricPrecision" font-family="Liberation Sans" font-size="10.0" fill="#000080" text-anchor="start" stroke="#000080" stroke-width="0.2">470&#937;</text>
<line x1="609.5" y1="574.5" x2="622.5" y2="574.5" stroke="#880000" stroke-width="1"/>
<line x1="628.5" y1="574.5" x2="639.5" y2="574.5" stroke="#880000" stroke-width="1"/>
<rect x="622" y="566" width="2" height="16" fill="#7a0000"/><rect x="626" y="566" width="2" height="16" fill="#7a0000"/>
<text transform="translate(619.90 555.00) scale(0.93 1)" text-rendering="geometricPrecision" font-family="Liberation Sans" font-size="10.0" fill="#000080" text-anchor="start" stroke="#000080" stroke-width="0.2">C14</text>
<text transform="translate(619.90 564.00) scale(0.93 1)" text-rendering="geometricPrecision" font-family="Liberation Sans" font-size="10.0" fill="#000080" text-anchor="start" stroke="#000080" stroke-width="0.2">10pF</text>
<polyline points="504.5,619.5 579.5,619.5" fill="none" stroke="#008800" stroke-width="1"/>
<rect x="589.5" y="614.5" width="20" height="10" fill="none" stroke="#880000"/>
<line x1="579.5" y1="619.5" x2="589.0" y2="619.5" stroke="#880000" stroke-width="1"/>
<line x1="609.0" y1="619.5" x2="619.5" y2="619.5" stroke="#880000" stroke-width="1"/>
<text transform="translate(594.20 603.00) scale(0.93 1)" text-rendering="geometricPrecision" font-family="Liberation Sans" font-size="10.0" fill="#000080" text-anchor="start" stroke="#000080" stroke-width="0.2">R35</text>
<text transform="translate(594.20 612.00) scale(0.93 1)" text-rendering="geometricPrecision" font-family="Liberation Sans" font-size="10.0" fill="#000080" text-anchor="start" stroke="#000080" stroke-width="0.2">22k&#937;</text>
<polyline points="619.5,619.5 624.5,619.5 624.5,939.5 1324.5,939.5" fill="none" stroke="#008800" stroke-width="1"/>
<polyline points="639.5,574.5 639.5,679.5" fill="none" stroke="#008800" stroke-width="1"/>
<polyline points="639.5,619.5 684.5,619.5" fill="none" stroke="#008800" stroke-width="1"/>
<line x1="639.5" y1="679.5" x2="639.5" y2="696.5" stroke="#993838" stroke-width="1"/>
<line x1="639.5" y1="702.5" x2="639.5" y2="703.5" stroke="#993838" stroke-width="1"/>
<line x1="639.5" y1="705.5" x2="639.5" y2="714.5" stroke="#993838" stroke-width="1"/>
<rect x="632" y="696" width="16" height="2" fill="#993838"/><rect x="632" y="700" width="16" height="2" fill="#993838"/>
<text transform="translate(650.00 702.00) scale(0.93 1)" text-rendering="geometricPrecision" font-family="Liberation Sans" font-size="10.0" fill="#000080" text-anchor="start" stroke="#000080" stroke-width="0.2">C20</text>
<text transform="translate(650.00 711.00) scale(0.93 1)" text-rendering="geometricPrecision" font-family="Liberation Sans" font-size="10.0" fill="#000080" text-anchor="start" stroke="#000080" stroke-width="0.2">20pF</text>
<polyline points="639.5,714.5 639.5,764.5" fill="none" stroke="#008800" stroke-width="1"/>
<polyline points="684.5,529.5 684.5,669.5" fill="none" stroke="#008800" stroke-width="1"/>
<line x1="694.5" y1="680.0" x2="694.5" y2="699.0" stroke="#880000"/>
<line x1="704.5" y1="689.5" x2="694.5" y2="689.5" stroke="#880000" stroke-width="1"/>
<line x1="694.5" y1="686.0" x2="684.5" y2="679.5" stroke="#880000"/>
<line x1="694.5" y1="693.0" x2="684.5" y2="699.5" stroke="#880000"/>
<line x1="684.5" y1="679.5" x2="684.5" y2="669.5" stroke="#880000"/>
<line x1="684.5" y1="699.5" x2="684.5" y2="709.5" stroke="#880000"/>
<polygon points="685.00,699.17 687.78,694.27 690.61,698.63" fill="#880000" stroke="#880000" stroke-width="0.6"/>
<text transform="translate(691.00 708.00) scale(0.93 1)" text-rendering="geometricPrecision" font-family="Liberation Sans" font-size="10.0" fill="#000080" text-anchor="start" stroke="#000080" stroke-width="0.2">Q18</text>
<text transform="translate(698.40 676.60) rotate(-90) scale(0.93 1)" text-rendering="geometricPrecision" font-family="Liberation Sans" font-size="10.0" fill="#000080" text-anchor="start" stroke="#000080" stroke-width="0.2">2N5551L-B-T92-B</text>
<rect x="714.5" y="685.5" width="20" height="8" fill="none" stroke="#880000"/>
<line x1="704.5" y1="689.5" x2="714.0" y2="689.5" stroke="#880000" stroke-width="1"/>
<line x1="734.0" y1="689.5" x2="744.5" y2="689.5" stroke="#880000" stroke-width="1"/>
<text transform="translate(716.50 674.00) scale(0.93 1)" text-rendering="geometricPrecision" font-family="Liberation Sans" font-size="10.0" fill="#000080" text-anchor="start" stroke="#000080" stroke-width="0.2">R42</text>
<text transform="translate(716.50 683.00) scale(0.93 1)" text-rendering="geometricPrecision" font-family="Liberation Sans" font-size="10.0" fill="#000080" text-anchor="start" stroke="#000080" stroke-width="0.2">56&#937;</text>
<polyline points="744.5,689.5 754.5,689.5" fill="none" stroke="#008800" stroke-width="1"/>
<polyline points="684.5,709.5 684.5,744.5" fill="none" stroke="#008800" stroke-width="1"/>
<line x1="674.5" y1="755.0" x2="674.5" y2="774.0" stroke="#880000"/>
<line x1="664.5" y1="764.5" x2="674.5" y2="764.5" stroke="#880000" stroke-width="1"/>
<line x1="674.5" y1="761.0" x2="684.5" y2="754.5" stroke="#880000"/>
<line x1="674.5" y1="768.0" x2="684.5" y2="774.5" stroke="#880000"/>
<line x1="684.5" y1="754.5" x2="684.5" y2="744.5" stroke="#880000"/>
<line x1="684.5" y1="774.5" x2="684.5" y2="784.5" stroke="#880000"/>
<polygon points="684.00,774.17 678.39,773.63 681.22,769.27" fill="#880000" stroke="#880000" stroke-width="0.6"/>
<text transform="translate(689.00 767.00) scale(0.93 1)" text-rendering="geometricPrecision" font-family="Liberation Sans" font-size="10.0" fill="#000080" text-anchor="start" stroke="#000080" stroke-width="0.2">Q23</text>
<text transform="translate(689.00 776.00) scale(0.93 1)" text-rendering="geometricPrecision" font-family="Liberation Sans" font-size="10.0" fill="#000080" text-anchor="start" stroke="#000080" stroke-width="0.2">BC547CTFR</text>
<polyline points="304.5,764.5 664.5,764.5" fill="none" stroke="#008800" stroke-width="1"/>
<polyline points="684.5,784.5 684.5,809.5" fill="none" stroke="#008800" stroke-width="1"/>
<rect x="680.5" y="819.5" width="8" height="20" fill="none" stroke="#880000"/>
<line x1="684.5" y1="809.5" x2="684.5" y2="819.0" stroke="#880000" stroke-width="1"/>
<line x1="684.5" y1="839.0" x2="684.5" y2="849.5" stroke="#880000" stroke-width="1"/>
<text transform="translate(691.10 833.00) scale(0.93 1)" text-rendering="geometricPrecision" font-family="Liberation Sans" font-size="10.0" fill="#000080" text-anchor="start" stroke="#000080" stroke-width="0.2">R55</text>
<text transform="translate(691.10 842.00) scale(0.93 1)" text-rendering="geometricPrecision" font-family="Liberation Sans" font-size="10.0" fill="#000080" text-anchor="start" stroke="#000080" stroke-width="0.2">20</text>
<line x1="754.5" y1="624.5" x2="754.5" y2="633.5" stroke="#000000" stroke-width="1"/>
<line x1="745.5" y1="624.5" x2="763.5" y2="624.5" stroke="#000000" stroke-width="1"/>
<line x1="748.5" y1="622.5" x2="760.5" y2="622.5" stroke="#000000" stroke-width="1"/>
<line x1="751.5" y1="620.5" x2="757.5" y2="620.5" stroke="#000000" stroke-width="1"/>
<line x1="753.5" y1="618.5" x2="755.5" y2="618.5" stroke="#000000" stroke-width="1"/>
<text transform="translate(755.00 615.00)" text-rendering="geometricPrecision" font-family="Liberation Serif" font-size="13" fill="#000000" text-anchor="middle" stroke="#000000" stroke-width="0.35" textLength="25.2" lengthAdjust="spacingAndGlyphs">GND</text>
<polyline points="754.5,633.5 754.5,644.5" fill="none" stroke="#008800" stroke-width="1"/>
<rect x="750.5" y="654.5" width="8" height="20" fill="none" stroke="#880000"/>
<line x1="754.5" y1="644.5" x2="754.5" y2="654.0" stroke="#880000" stroke-width="1"/>
<line x1="754.5" y1="674.0" x2="754.5" y2="684.5" stroke="#880000" stroke-width="1"/>
<text transform="translate(761.30 667.00) scale(0.93 1)" text-rendering="geometricPrecision" font-family="Liberation Sans" font-size="10.0" fill="#000080" text-anchor="start" stroke="#000080" stroke-width="0.2">R38</text>
<text transform="translate(761.30 676.00) scale(0.93 1)" text-rendering="geometricPrecision" font-family="Liberation Sans" font-size="10.0" fill="#000080" text-anchor="start" stroke="#000080" stroke-width="0.2">1.5K</text>
<polyline points="754.5,684.5 754.5,789.5" fill="none" stroke="#008800" stroke-width="1"/>
<polygon points="748.0,814.5 761.0,814.5 754.5,805.5" fill="#880000" stroke="#880000" stroke-width="0.6"/>
<polyline points="745.5,799.5 749.5,803.5 760.5,803.5 763.5,807.5" fill="none" stroke="#880000" stroke-width="1"/>
<line x1="754.5" y1="789.5" x2="754.5" y2="829.5" stroke="#880000" stroke-width="1"/>
<polyline points="754.5,829.5 754.5,849.5" fill="none" stroke="#008800" stroke-width="1"/>
<text transform="translate(744.00 812.00) scale(0.93 1)" text-rendering="geometricPrecision" font-family="Liberation Sans" font-size="10.0" fill="#000080" text-anchor="end" stroke="#000080" stroke-width="0.2">ZD5</text>
<text transform="translate(744.00 821.00) scale(0.93 1)" text-rendering="geometricPrecision" font-family="Liberation Sans" font-size="10.0" fill="#000080" text-anchor="end" stroke="#000080" stroke-width="0.2">1N5230B</text>
<polyline points="754.5,734.5 789.5,734.5" fill="none" stroke="#008800" stroke-width="1"/>
<rect x="799.5" y="730.5" width="20" height="8" fill="none" stroke="#880000"/>
<line x1="789.5" y1="734.5" x2="799.0" y2="734.5" stroke="#880000" stroke-width="1"/>
<line x1="819.0" y1="734.5" x2="829.5" y2="734.5" stroke="#880000" stroke-width="1"/>
<text transform="translate(801.90 719.00) scale(0.93 1)" text-rendering="geometricPrecision" font-family="Liberation Sans" font-size="10.0" fill="#000080" text-anchor="start" stroke="#000080" stroke-width="0.2">R47</text>
<text transform="translate(795.20 728.00) scale(0.93 1)" text-rendering="geometricPrecision" font-family="Liberation Sans" font-size="10.0" fill="#000080" text-anchor="start" stroke="#000080" stroke-width="0.2">1.5k&#937;</text>
<polyline points="829.5,734.5 854.5,734.5" fill="none" stroke="#008800" stroke-width="1"/>
<line x1="864.5" y1="725.0" x2="864.5" y2="744.0" stroke="#880000"/>
<line x1="854.5" y1="734.5" x2="864.5" y2="734.5" stroke="#880000" stroke-width="1"/>
<line x1="864.5" y1="731.0" x2="874.5" y2="724.5" stroke="#880000"/>
<line x1="864.5" y1="738.0" x2="874.5" y2="744.5" stroke="#880000"/>
<line x1="874.5" y1="724.5" x2="874.5" y2="714.5" stroke="#880000"/>
<line x1="874.5" y1="744.5" x2="874.5" y2="754.5" stroke="#880000"/>
<polygon points="874.00,744.17 868.39,743.63 871.22,739.27" fill="#880000" stroke="#880000" stroke-width="0.6"/>
<text transform="translate(891.40 737.00) scale(0.93 1)" text-rendering="geometricPrecision" font-family="Liberation Sans" font-size="10.0" fill="#000080" text-anchor="start" stroke="#000080" stroke-width="0.2">Q22</text>
<text transform="translate(888.00 777.00) rotate(-90) scale(0.93 1)" text-rendering="geometricPrecision" font-family="Liberation Sans" font-size="10.0" fill="#000080" text-anchor="start" stroke="#000080" stroke-width="0.2" textLength="81.18" lengthAdjust="spacingAndGlyphs">2N5551L-B-T92- B</text>
<polyline points="789.5,734.5 789.5,759.5" fill="none" stroke="#008800" stroke-width="1"/>
<line x1="789.5" y1="759.5" x2="789.5" y2="772.5" stroke="#000000" stroke-width="1"/>
<line x1="781.5" y1="772.5" x2="797.5" y2="772.5" stroke="#880000" stroke-width="1"/>
<path d="M781.5,779.5 Q789.5,773.5 797.5,779.5" fill="none" stroke="#880000"/>
<line x1="789.5" y1="776.5" x2="789.5" y2="789.5" stroke="#000000" stroke-width="1"/>
<path d="M783.5,767.5 h5.5 M786.5,764.5 v6" stroke="#880000" fill="none"/>
<polyline points="789.5,789.5 789.5,849.5" fill="none" stroke="#008800" stroke-width="1"/>
<text transform="translate(779.30 778.00) scale(0.93 1)" text-rendering="geometricPrecision" font-family="Liberation Sans" font-size="10.0" fill="#000080" text-anchor="end" stroke="#000080" stroke-width="0.2">C24</text>
<text transform="translate(779.30 787.00) scale(0.93 1)" text-rendering="geometricPrecision" font-family="Liberation Sans" font-size="10.0" fill="#000080" text-anchor="end" stroke="#000080" stroke-width="0.2">100uF</text>
<polyline points="844.5,734.5 844.5,749.5" fill="none" stroke="#008800" stroke-width="1"/>
<polygon points="838.5,764.5 850.5,764.5 844.5,773.5" fill="#880000" stroke="#880000" stroke-width="0.6"/>
<line x1="838.5" y1="774.5" x2="850.5" y2="774.5" stroke="#880000" stroke-width="1"/>
<line x1="844.5" y1="749.5" x2="844.5" y2="789.5" stroke="#880000" stroke-width="1"/>
<polyline points="844.5,789.5 844.5,804.5" fill="none" stroke="#008800" stroke-width="1"/>
<polygon points="838.5,819.5 850.5,819.5 844.5,828.5" fill="#880000" stroke="#880000" stroke-width="0.6"/>
<line x1="838.5" y1="829.5" x2="850.5" y2="829.5" stroke="#880000" stroke-width="1"/>
<line x1="844.5" y1="804.5" x2="844.5" y2="844.5" stroke="#880000" stroke-width="1"/>
<text transform="translate(826.60 790.40) rotate(-90) scale(0.93 1)" text-rendering="geometricPrecision" font-family="Liberation Sans" font-size="10.0" fill="#000080" text-anchor="start" stroke="#000080" stroke-width="0.2">1N4148TR</text>
<text transform="translate(836.80 790.40) rotate(-90) scale(0.93 1)" text-rendering="geometricPrecision" font-family="Liberation Sans" font-size="10.0" fill="#000080" text-anchor="start" stroke="#000080" stroke-width="0.2">D15</text>
<text transform="translate(826.60 845.50) rotate(-90) scale(0.93 1)" text-rendering="geometricPrecision" font-family="Liberation Sans" font-size="10.0" fill="#000080" text-anchor="start" stroke="#000080" stroke-width="0.2">1N4148TR</text>
<text transform="translate(836.80 845.50) rotate(-90) scale(0.93 1)" text-rendering="geometricPrecision" font-family="Liberation Sans" font-size="10.0" fill="#000080" text-anchor="start" stroke="#000080" stroke-width="0.2">D16</text>
<polyline points="874.5,514.5 874.5,674.5" fill="none" stroke="#008800" stroke-width="1"/>
<polygon points="868.0,699.5 881.0,699.5 874.5,689.5" fill="none" stroke="#880000"/>
<polyline points="865.5,692.5 865.5,689.5 883.5,689.5" fill="none" stroke="#880000" stroke-width="1"/>
<line x1="874.5" y1="674.5" x2="874.5" y2="689.5" stroke="#880000" stroke-width="1"/>
<line x1="874.5" y1="699.5" x2="874.5" y2="714.5" stroke="#880000" stroke-width="1"/>
<text transform="translate(863.50 698.00) scale(0.93 1)" text-rendering="geometricPrecision" font-family="Liberation Sans" font-size="10.0" fill="#000080" text-anchor="end" stroke="#000080" stroke-width="0.2">D14</text>
<text transform="translate(863.50 707.00) scale(0.93 1)" text-rendering="geometricPrecision" font-family="Liberation Sans" font-size="10.0" fill="#000080" text-anchor="end" stroke="#000080" stroke-width="0.2">BZX79-B3V9,113</text>
<polyline points="874.5,754.5 874.5,779.5" fill="none" stroke="#008800" stroke-width="1"/>
<rect x="870.5" y="789.5" width="8" height="20" fill="none" stroke="#880000"/>
<line x1="874.5" y1="779.5" x2="874.5" y2="789.0" stroke="#880000" stroke-width="1"/>
<line x1="874.5" y1="809.0" x2="874.5" y2="819.5" stroke="#880000" stroke-width="1"/>
<text transform="translate(868.30 803.00) scale(0.93 1)" text-rendering="geometricPrecision" font-family="Liberation Sans" font-size="10.0" fill="#000080" text-anchor="end" stroke="#000080" stroke-width="0.2">R51</text>
<text transform="translate(868.30 812.00) scale(0.93 1)" text-rendering="geometricPrecision" font-family="Liberation Sans" font-size="10.0" fill="#000080" text-anchor="end" stroke="#000080" stroke-width="0.2">91&#937;</text>
<polyline points="874.5,819.5 874.5,849.5" fill="none" stroke="#008800" stroke-width="1"/>
<polyline points="799.5,524.5 799.5,534.5" fill="none" stroke="#008800" stroke-width="1"/>
<rect x="796.5" y="544.5" width="6" height="20" fill="none" stroke="#b05050"/>
<line x1="799.5" y1="534.5" x2="799.5" y2="544.0" stroke="#b05050" stroke-width="1"/>
<line x1="799.5" y1="564.0" x2="799.5" y2="574.5" stroke="#b05050" stroke-width="1"/>
<line x1="802.5" y1="554.5" x2="819.5" y2="554.5" stroke="#b05050" stroke-width="1"/>
<polyline points="791.5,549.5 806.5,554.5" fill="none" stroke="#b05050" stroke-width="0.8"/>
<polyline points="790.5,551.5 791.5,549.5 793.5,549.5" fill="none" stroke="#b05050" stroke-width="0.8"/>
<polyline points="788.5,565.5 788.5,558.5 M" fill="none" stroke="#b05050" stroke-width="0.8"/>
<polyline points="786.5,561.5 788.5,558.5 790.5,561.5" fill="none" stroke="#b05050" stroke-width="0.8"/>
<text transform="translate(797.00 538.00) rotate(-90)" text-rendering="geometricPrecision" font-family="Liberation Sans" font-size="5" fill="#b05050" text-anchor="start" stroke="#b05050" stroke-width="0.2">3</text>
<text transform="translate(797.00 574.00) rotate(-90)" text-rendering="geometricPrecision" font-family="Liberation Sans" font-size="5" fill="#b05050" text-anchor="start" stroke="#b05050" stroke-width="0.2">1</text>
<text transform="translate(816.00 551.00)" text-rendering="geometricPrecision" font-family="Liberation Sans" font-size="6" fill="#b05050" text-anchor="start" stroke="#b05050" stroke-width="0.2">2</text>
<text transform="translate(773.00 553.00) scale(0.93 1)" text-rendering="geometricPrecision" font-family="Liberation Sans" font-size="10.0" fill="#000080" text-anchor="middle" stroke="#000080" stroke-width="0.2">R26</text>
<text transform="translate(773.00 562.00) scale(0.93 1)" text-rendering="geometricPrecision" font-family="Liberation Sans" font-size="10.0" fill="#000080" text-anchor="middle" stroke="#000080" stroke-width="0.2">2K</text>
<polyline points="819.5,554.5 834.5,554.5" fill="none" stroke="#008800" stroke-width="1"/>
<polyline points="799.5,574.5 799.5,604.5 909.5,604.5" fill="none" stroke="#008800" stroke-width="1"/>
<polyline points="834.5,484.5 834.5,504.5" fill="none" stroke="#008800" stroke-width="1"/>
<rect x="829.5" y="514.5" width="10" height="20" fill="none" stroke="#880000"/>
<line x1="834.5" y1="504.5" x2="834.5" y2="514.0" stroke="#880000" stroke-width="1"/>
<line x1="834.5" y1="534.0" x2="834.5" y2="544.5" stroke="#880000" stroke-width="1"/>
<text transform="translate(842.20 528.00) scale(0.93 1)" text-rendering="geometricPrecision" font-family="Liberation Sans" font-size="10.0" fill="#000080" text-anchor="start" stroke="#000080" stroke-width="0.2">R25</text>
<text transform="translate(842.20 537.00) scale(0.93 1)" text-rendering="geometricPrecision" font-family="Liberation Sans" font-size="10.0" fill="#000080" text-anchor="start" stroke="#000080" stroke-width="0.2">1.8k&#937;</text>
<polyline points="834.5,544.5 834.5,604.5" fill="none" stroke="#008800" stroke-width="1"/>
<rect x="919.5" y="600.5" width="20" height="8" fill="none" stroke="#880000"/>
<line x1="909.5" y1="604.5" x2="919.0" y2="604.5" stroke="#880000" stroke-width="1"/>
<line x1="939.0" y1="604.5" x2="949.5" y2="604.5" stroke="#880000" stroke-width="1"/>
<text transform="translate(924.10 589.00) scale(0.93 1)" text-rendering="geometricPrecision" font-family="Liberation Sans" font-size="10.0" fill="#000080" text-anchor="start" stroke="#000080" stroke-width="0.2">R30</text>
<text transform="translate(924.10 598.00) scale(0.93 1)" text-rendering="geometricPrecision" font-family="Liberation Sans" font-size="10.0" fill="#000080" text-anchor="start" stroke="#000080" stroke-width="0.2">100</text>
<polyline points="909.5,604.5 909.5,569.5" fill="none" stroke="#008800" stroke-width="1"/>
<line x1="927.5" y1="561.5" x2="927.5" y2="577.5" stroke="#880000" stroke-width="1"/>
<line x1="931.5" y1="561.5" x2="931.5" y2="577.5" stroke="#880000" stroke-width="1"/>
<line x1="909.5" y1="569.5" x2="927.5" y2="569.5" stroke="#880000" stroke-width="1"/>
<line x1="931.5" y1="569.5" x2="949.5" y2="569.5" stroke="#880000" stroke-width="1"/>
<polyline points="949.5,569.5 949.5,604.5" fill="none" stroke="#008800" stroke-width="1"/>
<text transform="translate(924.10 550.00) scale(0.93 1)" text-rendering="geometricPrecision" font-family="Liberation Sans" font-size="10.0" fill="#000080" text-anchor="start" stroke="#000080" stroke-width="0.2">C13</text>
<text transform="translate(924.10 559.00) scale(0.93 1)" text-rendering="geometricPrecision" font-family="Liberation Sans" font-size="10.0" fill="#000080" text-anchor="start" stroke="#000080" stroke-width="0.2">1nF</text>
<polyline points="949.5,604.5 984.5,604.5" fill="none" stroke="#008800" stroke-width="1"/>
<polyline points="969.5,604.5 969.5,609.5" fill="none" stroke="#008800" stroke-width="1"/>
<line x1="961.5" y1="627.5" x2="977.5" y2="627.5" stroke="#880000" stroke-width="1"/>
<line x1="961.5" y1="631.5" x2="977.5" y2="631.5" stroke="#880000" stroke-width="1"/>
<line x1="969.5" y1="609.5" x2="969.5" y2="627.5" stroke="#880000" stroke-width="1"/>
<line x1="969.5" y1="631.5" x2="969.5" y2="649.5" stroke="#880000" stroke-width="1"/>
<text transform="translate(980.00 633.00) scale(0.93 1)" text-rendering="geometricPrecision" font-family="Liberation Sans" font-size="10.0" fill="#000080" text-anchor="start" stroke="#000080" stroke-width="0.2">C18</text>
<text transform="translate(980.00 642.00) scale(0.93 1)" text-rendering="geometricPrecision" font-family="Liberation Sans" font-size="10.0" fill="#000080" text-anchor="start" stroke="#000080" stroke-width="0.2">33pF</text>
<polyline points="969.5,649.5 1004.5,649.5" fill="none" stroke="#008800" stroke-width="1"/>
<line x1="994.5" y1="595.0" x2="994.5" y2="614.0" stroke="#880000"/>
<line x1="984.5" y1="604.5" x2="994.5" y2="604.5" stroke="#880000" stroke-width="1"/>
<line x1="994.5" y1="601.0" x2="1004.5" y2="594.5" stroke="#880000"/>
<line x1="994.5" y1="608.0" x2="1004.5" y2="614.5" stroke="#880000"/>
<line x1="1004.5" y1="594.5" x2="1004.5" y2="584.5" stroke="#880000"/>
<line x1="1004.5" y1="614.5" x2="1004.5" y2="624.5" stroke="#880000"/>
<polygon points="994.80,600.80 997.58,595.90 1000.41,600.26" fill="#fff" fill-opacity="0.3" stroke="#880000" stroke-width="1"/>
<text transform="translate(998.40 608.00) scale(0.93 1)" text-rendering="geometricPrecision" font-family="Liberation Sans" font-size="10.0" fill="#000080" text-anchor="start" stroke="#000080" stroke-width="0.2">Q12</text>
<text transform="translate(1009.70 623.00) scale(0.93 1)" text-rendering="geometricPrecision" font-family="Liberation Sans" font-size="10.0" fill="#000080" text-anchor="start" stroke="#000080" stroke-width="0.2">MJE350G</text>
<polyline points="984.5,534.5 984.5,584.5 1004.5,584.5" fill="none" stroke="#008800" stroke-width="1"/>
<polyline points="1004.5,534.5 1314.5,534.5" fill="none" stroke="#008800" stroke-width="1"/>
<polyline points="1004.5,534.5 1004.5,539.5" fill="none" stroke="#008800" stroke-width="1"/>
<rect x="1000.5" y="549.5" width="8" height="20" fill="none" stroke="#880000"/>
<line x1="1004.5" y1="539.5" x2="1004.5" y2="549.0" stroke="#880000" stroke-width="1"/>
<line x1="1004.5" y1="569.0" x2="1004.5" y2="579.5" stroke="#880000" stroke-width="1"/>
<text transform="translate(1011.20 562.00) scale(0.93 1)" text-rendering="geometricPrecision" font-family="Liberation Sans" font-size="10.0" fill="#000080" text-anchor="start" stroke="#000080" stroke-width="0.2">R27</text>
<text transform="translate(1011.20 571.00) scale(0.93 1)" text-rendering="geometricPrecision" font-family="Liberation Sans" font-size="10.0" fill="#000080" text-anchor="start" stroke="#000080" stroke-width="0.2">100&#937;</text>
<polyline points="1004.5,579.5 1004.5,584.5" fill="none" stroke="#008800" stroke-width="1"/>
<polyline points="1039.5,534.5 1039.5,539.5" fill="none" stroke="#008800" stroke-width="1"/>
<polygon points="1029.5,578.5 1029.5,590.5 1020.5,584.5" fill="#880000" stroke="#880000" stroke-width="0.6"/>
<line x1="1019.5" y1="578.5" x2="1019.5" y2="590.5" stroke="#880000" stroke-width="1"/>
<line x1="1004.5" y1="584.5" x2="1044.5" y2="584.5" stroke="#880000" stroke-width="1"/>
<polygon points="1069.5,578.5 1069.5,590.5 1060.5,584.5" fill="#880000" stroke="#880000" stroke-width="0.6"/>
<line x1="1059.5" y1="578.5" x2="1059.5" y2="590.5" stroke="#880000" stroke-width="1"/>
<line x1="1044.5" y1="584.5" x2="1084.5" y2="584.5" stroke="#880000" stroke-width="1"/>
<polyline points="1084.5,584.5 1124.5,584.5 1124.5,574.5" fill="none" stroke="#008800" stroke-width="1"/>
<text transform="translate(1059.20 566.00) scale(0.93 1)" text-rendering="geometricPrecision" font-family="Liberation Sans" font-size="10.0" fill="#000080" text-anchor="start" stroke="#000080" stroke-width="0.2">D12</text>
<text transform="translate(1059.20 575.00) scale(0.93 1)" text-rendering="geometricPrecision" font-family="Liberation Sans" font-size="10.0" fill="#000080" text-anchor="start" stroke="#000080" stroke-width="0.2">1N4148TR</text>
<text transform="translate(1013.30 603.00) scale(0.93 1)" text-rendering="geometricPrecision" font-family="Liberation Sans" font-size="10.0" fill="#000080" text-anchor="start" stroke="#000080" stroke-width="0.2">1N4148TR</text>
<text transform="translate(1026.50 612.00) scale(0.93 1)" text-rendering="geometricPrecision" font-family="Liberation Sans" font-size="10.0" fill="#000080" text-anchor="start" stroke="#000080" stroke-width="0.2">D11</text>
<polygon points="1118.5,549.5 1130.5,549.5 1124.5,558.5" fill="#880000" stroke="#880000" stroke-width="0.6"/>
<line x1="1118.5" y1="559.5" x2="1130.5" y2="559.5" stroke="#880000" stroke-width="1"/>
<line x1="1124.5" y1="534.5" x2="1124.5" y2="574.5" stroke="#880000" stroke-width="1"/>
<text transform="translate(1117.20 575.10) rotate(-90) scale(0.93 1)" text-rendering="geometricPrecision" font-family="Liberation Sans" font-size="10.0" fill="#000080" text-anchor="start" stroke="#000080" stroke-width="0.2">D10</text>
<text transform="translate(1143.00 580.60) rotate(-90) scale(0.93 1)" text-rendering="geometricPrecision" font-family="Liberation Sans" font-size="10.0" fill="#000080" text-anchor="start" stroke="#000080" stroke-width="0.2">1N4148TR</text>
<polyline points="1004.5,624.5 1004.5,724.5" fill="none" stroke="#008800" stroke-width="1"/>
<rect x="1000.5" y="734.5" width="8" height="20" fill="none" stroke="#880000"/>
<line x1="1004.5" y1="724.5" x2="1004.5" y2="734.0" stroke="#880000" stroke-width="1"/>
<line x1="1004.5" y1="754.0" x2="1004.5" y2="764.5" stroke="#880000" stroke-width="1"/>
<text transform="translate(1011.20 747.00) scale(0.93 1)" text-rendering="geometricPrecision" font-family="Liberation Sans" font-size="10.0" fill="#000080" text-anchor="start" stroke="#000080" stroke-width="0.2">R48</text>
<text transform="translate(1011.20 756.00) scale(0.93 1)" text-rendering="geometricPrecision" font-family="Liberation Sans" font-size="10.0" fill="#000080" text-anchor="start" stroke="#000080" stroke-width="0.2">240</text>
<polyline points="1004.5,764.5 1004.5,849.5" fill="none" stroke="#008800" stroke-width="1"/>
<polyline points="1004.5,649.5 1019.5,649.5" fill="none" stroke="#008800" stroke-width="1"/>
<rect x="1029.5" y="645.5" width="20" height="8" fill="none" stroke="#880000"/>
<line x1="1019.5" y1="649.5" x2="1029.0" y2="649.5" stroke="#880000" stroke-width="1"/>
<line x1="1049.0" y1="649.5" x2="1059.5" y2="649.5" stroke="#880000" stroke-width="1"/>
<polyline points="1059.5,649.5 1069.5,649.5" fill="none" stroke="#008800" stroke-width="1"/>
<text transform="translate(1031.70 633.00) scale(0.93 1)" text-rendering="geometricPrecision" font-family="Liberation Sans" font-size="10.0" fill="#000080" text-anchor="start" stroke="#000080" stroke-width="0.2">R36</text>
<text transform="translate(1031.70 642.00) scale(0.93 1)" text-rendering="geometricPrecision" font-family="Liberation Sans" font-size="10.0" fill="#000080" text-anchor="start" stroke="#000080" stroke-width="0.2">56&#937;</text>
<polyline points="1019.5,649.5 1019.5,689.5" fill="none" stroke="#008800" stroke-width="1"/>
<line x1="1037.5" y1="681.5" x2="1037.5" y2="697.5" stroke="#880000" stroke-width="1"/>
<line x1="1041.5" y1="681.5" x2="1041.5" y2="697.5" stroke="#880000" stroke-width="1"/>
<line x1="1019.5" y1="689.5" x2="1037.5" y2="689.5" stroke="#880000" stroke-width="1"/>
<line x1="1041.5" y1="689.5" x2="1059.5" y2="689.5" stroke="#880000" stroke-width="1"/>
<polyline points="1059.5,689.5 1059.5,649.5" fill="none" stroke="#008800" stroke-width="1"/>
<text transform="translate(1034.10 670.00) scale(0.93 1)" text-rendering="geometricPrecision" font-family="Liberation Sans" font-size="10.0" fill="#000080" text-anchor="start" stroke="#000080" stroke-width="0.2">C19</text>
<text transform="translate(1034.10 679.00) scale(0.93 1)" text-rendering="geometricPrecision" font-family="Liberation Sans" font-size="10.0" fill="#000080" text-anchor="start" stroke="#000080" stroke-width="0.2">1nF</text>
<polyline points="1089.5,534.5 1089.5,629.5" fill="none" stroke="#008800" stroke-width="1"/>
<line x1="1079.5" y1="640.0" x2="1079.5" y2="659.0" stroke="#880000"/>
<line x1="1069.5" y1="649.5" x2="1079.5" y2="649.5" stroke="#880000" stroke-width="1"/>
<line x1="1079.5" y1="646.0" x2="1089.5" y2="639.5" stroke="#880000"/>
<line x1="1079.5" y1="653.0" x2="1089.5" y2="659.5" stroke="#880000"/>
<line x1="1089.5" y1="639.5" x2="1089.5" y2="629.5" stroke="#880000"/>
<line x1="1089.5" y1="659.5" x2="1089.5" y2="669.5" stroke="#880000"/>
<polygon points="1089.00,659.17 1083.39,658.63 1086.22,654.27" fill="#880000" stroke="#880000" stroke-width="0.6"/>
<text transform="translate(1093.90 653.00) scale(0.93 1)" text-rendering="geometricPrecision" font-family="Liberation Sans" font-size="10.0" fill="#000080" text-anchor="start" stroke="#000080" stroke-width="0.2">Q15</text>
<text transform="translate(1093.90 662.00) scale(0.93 1)" text-rendering="geometricPrecision" font-family="Liberation Sans" font-size="10.0" fill="#000080" text-anchor="start" stroke="#000080" stroke-width="0.2">MJE15032G</text>
<text transform="translate(1078.50 649.00)" text-rendering="geometricPrecision" font-family="Liberation Sans" font-size="9.3" fill="#0000FF" text-anchor="end" stroke="#0000FF" stroke-width="0.2">1</text>
<text transform="translate(1088.00 638.50) rotate(-90) scale(0.93 1)" text-rendering="geometricPrecision" font-family="Liberation Sans" font-size="10.0" fill="#0000FF" text-anchor="start" stroke="#0000FF" stroke-width="0.2">2</text>
<text transform="translate(1088.00 666.00) rotate(-90) scale(0.93 1)" text-rendering="geometricPrecision" font-family="Liberation Sans" font-size="10.0" fill="#0000FF" text-anchor="start" stroke="#0000FF" stroke-width="0.2">3</text>
<polyline points="1089.5,669.5 1139.5,669.5" fill="none" stroke="#008800" stroke-width="1"/>
<rect x="1149.5" y="665.5" width="20" height="8" fill="none" stroke="#880000"/>
<line x1="1139.5" y1="669.5" x2="1149.0" y2="669.5" stroke="#880000" stroke-width="1"/>
<line x1="1169.0" y1="669.5" x2="1179.5" y2="669.5" stroke="#880000" stroke-width="1"/>
<text transform="translate(1154.50 654.00) scale(0.93 1)" text-rendering="geometricPrecision" font-family="Liberation Sans" font-size="10.0" fill="#000080" text-anchor="start" stroke="#000080" stroke-width="0.2">R61</text>
<text transform="translate(1154.50 663.00) scale(0.93 1)" text-rendering="geometricPrecision" font-family="Liberation Sans" font-size="10.0" fill="#000080" text-anchor="start" stroke="#000080" stroke-width="0.2">1&#937;</text>
<polyline points="1179.5,669.5 1184.5,669.5" fill="none" stroke="#008800" stroke-width="1"/>
<line x1="1194.5" y1="660.0" x2="1194.5" y2="679.0" stroke="#880000"/>
<line x1="1184.5" y1="669.5" x2="1194.5" y2="669.5" stroke="#880000" stroke-width="1"/>
<line x1="1194.5" y1="666.0" x2="1204.5" y2="659.5" stroke="#880000"/>
<line x1="1194.5" y1="673.0" x2="1204.5" y2="679.5" stroke="#880000"/>
<line x1="1204.5" y1="659.5" x2="1204.5" y2="649.5" stroke="#880000"/>
<line x1="1204.5" y1="679.5" x2="1204.5" y2="689.5" stroke="#880000"/>
<polygon points="1204.00,679.17 1198.39,678.63 1201.22,674.27" fill="#880000" stroke="#880000" stroke-width="0.6"/>
<text transform="translate(1209.10 672.00) scale(0.93 1)" text-rendering="geometricPrecision" font-family="Liberation Sans" font-size="10.0" fill="#000080" text-anchor="start" stroke="#000080" stroke-width="0.2">Q25</text>
<text transform="translate(1209.10 681.00) scale(0.93 1)" text-rendering="geometricPrecision" font-family="Liberation Sans" font-size="10.0" fill="#000080" text-anchor="start" stroke="#000080" stroke-width="0.2">2SC5200</text>
<polyline points="1204.5,534.5 1204.5,649.5" fill="none" stroke="#008800" stroke-width="1"/>
<rect x="1200.5" y="699.5" width="8" height="20" fill="none" stroke="#880000"/>
<line x1="1204.5" y1="689.5" x2="1204.5" y2="699.0" stroke="#880000" stroke-width="1"/>
<line x1="1204.5" y1="719.0" x2="1204.5" y2="729.5" stroke="#880000" stroke-width="1"/>
<text transform="translate(1211.10 713.00) scale(0.93 1)" text-rendering="geometricPrecision" font-family="Liberation Sans" font-size="10.0" fill="#000080" text-anchor="start" stroke="#000080" stroke-width="0.2">R58</text>
<text transform="translate(1211.10 722.00) scale(0.93 1)" text-rendering="geometricPrecision" font-family="Liberation Sans" font-size="10.0" fill="#000080" text-anchor="start" stroke="#000080" stroke-width="0.2">0.2</text>
<polyline points="1204.5,729.5 1204.5,784.5" fill="none" stroke="#008800" stroke-width="1"/>
<polyline points="1089.5,669.5 1089.5,739.5" fill="none" stroke="#008800" stroke-width="1"/>
<rect x="1104.5" y="705.5" width="20" height="8" fill="none" stroke="#880000"/>
<line x1="1094.5" y1="709.5" x2="1104.0" y2="709.5" stroke="#880000" stroke-width="1"/>
<line x1="1124.0" y1="709.5" x2="1134.5" y2="709.5" stroke="#880000" stroke-width="1"/>
<text transform="translate(1109.10 694.00) scale(0.93 1)" text-rendering="geometricPrecision" font-family="Liberation Sans" font-size="10.0" fill="#000080" text-anchor="start" stroke="#000080" stroke-width="0.2">R44</text>
<text transform="translate(1109.10 703.00) scale(0.93 1)" text-rendering="geometricPrecision" font-family="Liberation Sans" font-size="10.0" fill="#000080" text-anchor="start" stroke="#000080" stroke-width="0.2">1&#937;</text>
<line x1="1144.5" y1="700.0" x2="1144.5" y2="719.0" stroke="#880000"/>
<line x1="1134.5" y1="709.5" x2="1144.5" y2="709.5" stroke="#880000" stroke-width="1"/>
<line x1="1144.5" y1="706.0" x2="1154.5" y2="699.5" stroke="#880000"/>
<line x1="1144.5" y1="713.0" x2="1154.5" y2="719.5" stroke="#880000"/>
<line x1="1154.5" y1="699.5" x2="1154.5" y2="689.5" stroke="#880000"/>
<line x1="1154.5" y1="719.5" x2="1154.5" y2="729.5" stroke="#880000"/>
<polygon points="1154.00,719.17 1148.39,718.63 1151.22,714.27" fill="#880000" stroke="#880000" stroke-width="0.6"/>
<text transform="translate(1159.20 713.00) scale(0.93 1)" text-rendering="geometricPrecision" font-family="Liberation Sans" font-size="10.0" fill="#000080" text-anchor="start" stroke="#000080" stroke-width="0.2">Q19</text>
<text transform="translate(1159.20 722.00) scale(0.93 1)" text-rendering="geometricPrecision" font-family="Liberation Sans" font-size="10.0" fill="#000080" text-anchor="start" stroke="#000080" stroke-width="0.2">2SC5200</text>
<rect x="1085.5" y="749.5" width="8" height="20" fill="none" stroke="#880000"/>
<line x1="1089.5" y1="739.5" x2="1089.5" y2="749.0" stroke="#000000" stroke-width="1"/>
<line x1="1089.5" y1="769.0" x2="1089.5" y2="779.5" stroke="#000000" stroke-width="1"/>
<text transform="translate(1096.20 762.00) scale(0.93 1)" text-rendering="geometricPrecision" font-family="Liberation Sans" font-size="10.0" fill="#000080" text-anchor="start" stroke="#000080" stroke-width="0.2">R49</text>
<text transform="translate(1096.20 771.00) scale(0.93 1)" text-rendering="geometricPrecision" font-family="Liberation Sans" font-size="10.0" fill="#000080" text-anchor="start" stroke="#000080" stroke-width="0.2">10&#937;</text>
<polyline points="1154.5,534.5 1154.5,689.5" fill="none" stroke="#008800" stroke-width="1"/>
<polyline points="1154.5,729.5 1154.5,739.5" fill="none" stroke="#008800" stroke-width="1"/>
<rect x="1150.5" y="749.5" width="8" height="20" fill="none" stroke="#880000"/>
<line x1="1154.5" y1="739.5" x2="1154.5" y2="749.0" stroke="#880000" stroke-width="1"/>
<line x1="1154.5" y1="769.0" x2="1154.5" y2="779.5" stroke="#880000" stroke-width="1"/>
<text transform="translate(1160.80 762.00) scale(0.93 1)" text-rendering="geometricPrecision" font-family="Liberation Sans" font-size="10.0" fill="#000080" text-anchor="start" stroke="#000080" stroke-width="0.2">R60</text>
<text transform="translate(1160.80 771.00) scale(0.93 1)" text-rendering="geometricPrecision" font-family="Liberation Sans" font-size="10.0" fill="#000080" text-anchor="start" stroke="#000080" stroke-width="0.2">0.2</text>
<polyline points="1004.5,784.5 1355.5,784.5" fill="none" stroke="#008800" stroke-width="1"/>
<rect x="1360.5" y="781.5" width="30" height="6" fill="none" stroke="#a04444"/>
<line x1="1355.5" y1="784.5" x2="1395.5" y2="784.5" stroke="#a04444" stroke-width="1"/>
<polyline points="1395.5,784.5 1485.5,784.5" fill="none" stroke="#008800" stroke-width="1"/>
<polyline points="1229.5,784.5 1229.5,779.5" fill="none" stroke="#008800" stroke-width="1"/>
<text transform="translate(1369.40 770.00) scale(0.93 1)" text-rendering="geometricPrecision" font-family="Liberation Sans" font-size="10.0" fill="#000080" text-anchor="start" stroke="#000080" stroke-width="0.2">F2</text>
<text transform="translate(1359.80 800.50)" text-rendering="geometricPrecision" font-family="Liberation Serif" font-size="13" fill="#000000" text-anchor="start" stroke="#000000" stroke-width="0.35">10A T</text>
<text transform="translate(1359.80 816.00)" text-rendering="geometricPrecision" font-family="Liberation Serif" font-size="13" fill="#000000" text-anchor="start" stroke="#000000" stroke-width="0.35">15A F</text>
<line x1="1259.5" y1="704.5" x2="1259.5" y2="713.5" stroke="#000000" stroke-width="1"/>
<line x1="1250.5" y1="704.5" x2="1268.5" y2="704.5" stroke="#000000" stroke-width="1"/>
<line x1="1253.5" y1="702.5" x2="1265.5" y2="702.5" stroke="#000000" stroke-width="1"/>
<line x1="1256.5" y1="700.5" x2="1262.5" y2="700.5" stroke="#000000" stroke-width="1"/>
<line x1="1258.5" y1="698.5" x2="1260.5" y2="698.5" stroke="#000000" stroke-width="1"/>
<text transform="translate(1260.00 695.00)" text-rendering="geometricPrecision" font-family="Liberation Serif" font-size="13" fill="#000000" text-anchor="middle" stroke="#000000" stroke-width="0.35" textLength="25.2" lengthAdjust="spacingAndGlyphs">GND</text>
<polyline points="1259.5,713.5 1259.5,724.5" fill="none" stroke="#008800" stroke-width="1"/>
<line x1="1251.5" y1="742.5" x2="1267.5" y2="742.5" stroke="#880000" stroke-width="1"/>
<line x1="1251.5" y1="746.5" x2="1267.5" y2="746.5" stroke="#880000" stroke-width="1"/>
<line x1="1259.5" y1="724.5" x2="1259.5" y2="742.5" stroke="#880000" stroke-width="1"/>
<line x1="1259.5" y1="746.5" x2="1259.5" y2="764.5" stroke="#880000" stroke-width="1"/>
<polyline points="1259.5,764.5 1259.5,784.5" fill="none" stroke="#008800" stroke-width="1"/>
<text transform="translate(1271.50 748.00) scale(0.93 1)" text-rendering="geometricPrecision" font-family="Liberation Sans" font-size="10.0" fill="#000080" text-anchor="start" stroke="#000080" stroke-width="0.2">C22</text>
<text transform="translate(1271.50 757.00) scale(0.93 1)" text-rendering="geometricPrecision" font-family="Liberation Sans" font-size="10.0" fill="#000080" text-anchor="start" stroke="#000080" stroke-width="0.2">1uF</text>
<polyline points="1289.5,534.5 1289.5,614.5" fill="none" stroke="#008800" stroke-width="1"/>
<polyline points="1289.5,654.5 1289.5,784.5" fill="none" stroke="#008800" stroke-width="1"/>
<polyline points="1429.5,733.5 1429.5,754.5" fill="none" stroke="#008800" stroke-width="1"/>
<line x1="1429.5" y1="754.5" x2="1429.5" y2="764.5" stroke="#a04444" stroke-width="1"/>
<rect x="1423.5" y="764.5" width="12" height="4" fill="none" stroke="#a04444"/>
<rect x="1423.0" y="771.5" width="13" height="3.5" fill="#a04444"/>
<line x1="1429.5" y1="774.5" x2="1429.5" y2="784.5" stroke="#a04444" stroke-width="1"/>
<text transform="translate(1440.10 772.00) scale(0.93 1)" text-rendering="geometricPrecision" font-family="Liberation Sans" font-size="10.0" fill="#000080" text-anchor="start" stroke="#000080" stroke-width="0.2">C23</text>
<text transform="translate(1440.10 781.00) scale(0.93 1)" text-rendering="geometricPrecision" font-family="Liberation Sans" font-size="10.0" fill="#000080" text-anchor="start" stroke="#000080" stroke-width="0.2">100uF</text>
<rect x="1494.5" y="774.5" width="30" height="20" rx="1.8" fill="none" stroke="#880000"/>
<line x1="1485.5" y1="784.5" x2="1494.5" y2="784.5" stroke="#880000" stroke-width="1"/>
<line x1="1524.5" y1="784.5" x2="1533.5" y2="784.5" stroke="#880000" stroke-width="1"/>
<text transform="translate(1493.70 785.00) scale(0.93 1)" text-rendering="geometricPrecision" font-family="Liberation Sans" font-size="10.0" fill="#0000FF" text-anchor="end" stroke="#0000FF" stroke-width="0.2">2</text>
<text transform="translate(1501.70 789.00) scale(0.93 1)" text-rendering="geometricPrecision" font-family="Liberation Sans" font-size="10.0" fill="#0000FF" text-anchor="middle" stroke="#0000FF" stroke-width="0.2">2</text>
<text transform="translate(1518.00 789.00) scale(0.93 1)" text-rendering="geometricPrecision" font-family="Liberation Sans" font-size="10.0" fill="#0000FF" text-anchor="middle" stroke="#0000FF" stroke-width="0.2">1</text>
<text transform="translate(1526.00 785.00) scale(0.93 1)" text-rendering="geometricPrecision" font-family="Liberation Sans" font-size="10.0" fill="#0000FF" text-anchor="start" stroke="#0000FF" stroke-width="0.2">1</text>
<rect x="1521.2" y="790.4" width="3.4" height="3.8" fill="#880000"/>
<text transform="translate(1504.00 763.00) scale(0.93 1)" text-rendering="geometricPrecision" font-family="Liberation Sans" font-size="10.0" fill="#000080" text-anchor="start" stroke="#000080" stroke-width="0.2">U5</text>
<text transform="translate(1493.30 803.00) scale(0.93 1)" text-rendering="geometricPrecision" font-family="Liberation Sans" font-size="10.0" fill="#000080" text-anchor="start" stroke="#000080" stroke-width="0.2">-55VDC</text>
<polyline points="1534.5,784.5 1534.5,819.5 1479.5,819.5 1479.5,784.5" fill="none" stroke="#008800" stroke-width="1"/>
<polyline points="1059.5,379.5 1064.5,379.5" fill="none" stroke="#008800" stroke-width="1"/>
<text transform="translate(1072.20 379.00)" text-rendering="geometricPrecision" font-family="Liberation Sans" font-size="9.3" fill="#0000FF" text-anchor="end" stroke="#0000FF" stroke-width="0.2">1</text>
<text transform="translate(1084.00 368.50) rotate(-90) scale(0.93 1)" text-rendering="geometricPrecision" font-family="Liberation Sans" font-size="10.0" fill="#0000FF" text-anchor="start" stroke="#0000FF" stroke-width="0.2">2</text>
<text transform="translate(1084.00 396.00) rotate(-90) scale(0.93 1)" text-rendering="geometricPrecision" font-family="Liberation Sans" font-size="10.0" fill="#0000FF" text-anchor="start" stroke="#0000FF" stroke-width="0.2">3</text>
<polyline points="1084.5,439.5 1089.5,439.5" fill="none" stroke="#008800" stroke-width="1"/>
<rect x="1099.5" y="435.5" width="20" height="8" fill="none" stroke="#880000"/>
<line x1="1089.5" y1="439.5" x2="1099.0" y2="439.5" stroke="#880000" stroke-width="1"/>
<line x1="1119.0" y1="439.5" x2="1129.5" y2="439.5" stroke="#880000" stroke-width="1"/>
<text transform="translate(1104.20 424.00) scale(0.93 1)" text-rendering="geometricPrecision" font-family="Liberation Sans" font-size="10.0" fill="#000080" text-anchor="start" stroke="#000080" stroke-width="0.2">R59</text>
<text transform="translate(1104.20 433.00) scale(0.93 1)" text-rendering="geometricPrecision" font-family="Liberation Sans" font-size="10.0" fill="#000080" text-anchor="start" stroke="#000080" stroke-width="0.2">1&#937;</text>
<rect x="1058" y="87" width="4" height="5" fill="#CC0000"/><rect x="1057.4" y="88.5" width="1" height="2" fill="#CC0000" fill-opacity="0.6"/>
<rect x="1193" y="47" width="4" height="5" fill="#CC0000"/><rect x="1192.4" y="48.5" width="1" height="2" fill="#CC0000" fill-opacity="0.6"/>
<rect x="1213" y="142" width="4" height="5" fill="#CC0000"/><rect x="1212.4" y="143.5" width="1" height="2" fill="#CC0000" fill-opacity="0.6"/>
<rect x="1233" y="142" width="4" height="5" fill="#CC0000"/><rect x="1232.4" y="143.5" width="1" height="2" fill="#CC0000" fill-opacity="0.6"/>
<rect x="1263" y="142" width="4" height="5" fill="#CC0000"/><rect x="1262.4" y="143.5" width="1" height="2" fill="#CC0000" fill-opacity="0.6"/>
<rect x="1233" y="182" width="4" height="5" fill="#CC0000"/><rect x="1232.4" y="183.5" width="1" height="2" fill="#CC0000" fill-opacity="0.6"/>
<rect x="433" y="197" width="4" height="5" fill="#CC0000"/><rect x="432.4" y="198.5" width="1" height="2" fill="#CC0000" fill-opacity="0.6"/>
<rect x="468" y="197" width="4" height="5" fill="#CC0000"/><rect x="467.4" y="198.5" width="1" height="2" fill="#CC0000" fill-opacity="0.6"/>
<rect x="513" y="197" width="4" height="5" fill="#CC0000"/><rect x="512.4" y="198.5" width="1" height="2" fill="#CC0000" fill-opacity="0.6"/>
<rect x="543" y="197" width="4" height="5" fill="#CC0000"/><rect x="542.4" y="198.5" width="1" height="2" fill="#CC0000" fill-opacity="0.6"/>
<rect x="588" y="197" width="4" height="5" fill="#CC0000"/><rect x="587.4" y="198.5" width="1" height="2" fill="#CC0000" fill-opacity="0.6"/>
<rect x="638" y="197" width="4" height="5" fill="#CC0000"/><rect x="637.4" y="198.5" width="1" height="2" fill="#CC0000" fill-opacity="0.6"/>
<rect x="683" y="197" width="4" height="5" fill="#CC0000"/><rect x="682.4" y="198.5" width="1" height="2" fill="#CC0000" fill-opacity="0.6"/>
<rect x="733" y="197" width="4" height="5" fill="#CC0000"/><rect x="732.4" y="198.5" width="1" height="2" fill="#CC0000" fill-opacity="0.6"/>
<rect x="823" y="197" width="4" height="5" fill="#CC0000"/><rect x="822.4" y="198.5" width="1" height="2" fill="#CC0000" fill-opacity="0.6"/>
<rect x="873" y="197" width="4" height="5" fill="#CC0000"/><rect x="872.4" y="198.5" width="1" height="2" fill="#CC0000" fill-opacity="0.6"/>
<rect x="468" y="297" width="4" height="5" fill="#CC0000"/><rect x="467.4" y="298.5" width="1" height="2" fill="#CC0000" fill-opacity="0.6"/>
<rect x="493" y="347" width="4" height="5" fill="#CC0000"/><rect x="492.4" y="348.5" width="1" height="2" fill="#CC0000" fill-opacity="0.6"/>
<rect x="588" y="347" width="4" height="5" fill="#CC0000"/><rect x="587.4" y="348.5" width="1" height="2" fill="#CC0000" fill-opacity="0.6"/>
<rect x="638" y="347" width="4" height="5" fill="#CC0000"/><rect x="637.4" y="348.5" width="1" height="2" fill="#CC0000" fill-opacity="0.6"/>
<rect x="733" y="347" width="4" height="5" fill="#CC0000"/><rect x="732.4" y="348.5" width="1" height="2" fill="#CC0000" fill-opacity="0.6"/>
<rect x="733" y="292" width="4" height="5" fill="#CC0000"/><rect x="732.4" y="293.5" width="1" height="2" fill="#CC0000" fill-opacity="0.6"/>
<rect x="823" y="292" width="4" height="5" fill="#CC0000"/><rect x="822.4" y="293.5" width="1" height="2" fill="#CC0000" fill-opacity="0.6"/>
<rect x="1008" y="297" width="4" height="5" fill="#CC0000"/><rect x="1007.4" y="298.5" width="1" height="2" fill="#CC0000" fill-opacity="0.6"/>
<rect x="968" y="347" width="4" height="5" fill="#CC0000"/><rect x="967.4" y="348.5" width="1" height="2" fill="#CC0000" fill-opacity="0.6"/>
<rect x="1083" y="297" width="4" height="5" fill="#CC0000"/><rect x="1082.4" y="298.5" width="1" height="2" fill="#CC0000" fill-opacity="0.6"/>
<rect x="1153" y="297" width="4" height="5" fill="#CC0000"/><rect x="1152.4" y="298.5" width="1" height="2" fill="#CC0000" fill-opacity="0.6"/>
<rect x="1228" y="297" width="4" height="5" fill="#CC0000"/><rect x="1227.4" y="298.5" width="1" height="2" fill="#CC0000" fill-opacity="0.6"/>
<rect x="1253" y="297" width="4" height="5" fill="#CC0000"/><rect x="1252.4" y="298.5" width="1" height="2" fill="#CC0000" fill-opacity="0.6"/>
<rect x="1288" y="297" width="4" height="5" fill="#CC0000"/><rect x="1287.4" y="298.5" width="1" height="2" fill="#CC0000" fill-opacity="0.6"/>
<rect x="1368" y="297" width="4" height="5" fill="#CC0000"/><rect x="1367.4" y="298.5" width="1" height="2" fill="#CC0000" fill-opacity="0.6"/>
<rect x="1373" y="297" width="4" height="5" fill="#CC0000"/><rect x="1372.4" y="298.5" width="1" height="2" fill="#CC0000" fill-opacity="0.6"/>
<rect x="1008" y="377" width="4" height="5" fill="#CC0000"/><rect x="1007.4" y="378.5" width="1" height="2" fill="#CC0000" fill-opacity="0.6"/>
<rect x="1083" y="397" width="4" height="5" fill="#CC0000"/><rect x="1082.4" y="398.5" width="1" height="2" fill="#CC0000" fill-opacity="0.6"/>
<rect x="323" y="432" width="4" height="5" fill="#CC0000"/><rect x="322.4" y="433.5" width="1" height="2" fill="#CC0000" fill-opacity="0.6"/>
<rect x="373" y="432" width="4" height="5" fill="#CC0000"/><rect x="372.4" y="433.5" width="1" height="2" fill="#CC0000" fill-opacity="0.6"/>
<rect x="473" y="432" width="4" height="5" fill="#CC0000"/><rect x="472.4" y="433.5" width="1" height="2" fill="#CC0000" fill-opacity="0.6"/>
<rect x="483" y="432" width="4" height="5" fill="#CC0000"/><rect x="482.4" y="433.5" width="1" height="2" fill="#CC0000" fill-opacity="0.6"/>
<rect x="323" y="502" width="4" height="5" fill="#CC0000"/><rect x="322.4" y="503.5" width="1" height="2" fill="#CC0000" fill-opacity="0.6"/>
<rect x="373" y="502" width="4" height="5" fill="#CC0000"/><rect x="372.4" y="503.5" width="1" height="2" fill="#CC0000" fill-opacity="0.6"/>
<rect x="513" y="397" width="4" height="5" fill="#CC0000"/><rect x="512.4" y="398.5" width="1" height="2" fill="#CC0000" fill-opacity="0.6"/>
<rect x="513" y="462" width="4" height="5" fill="#CC0000"/><rect x="512.4" y="463.5" width="1" height="2" fill="#CC0000" fill-opacity="0.6"/>
<rect x="513" y="502" width="4" height="5" fill="#CC0000"/><rect x="512.4" y="503.5" width="1" height="2" fill="#CC0000" fill-opacity="0.6"/>
<rect x="683" y="382" width="4" height="5" fill="#CC0000"/><rect x="682.4" y="383.5" width="1" height="2" fill="#CC0000" fill-opacity="0.6"/>
<rect x="683" y="417" width="4" height="5" fill="#CC0000"/><rect x="682.4" y="418.5" width="1" height="2" fill="#CC0000" fill-opacity="0.6"/>
<rect x="853" y="382" width="4" height="5" fill="#CC0000"/><rect x="852.4" y="383.5" width="1" height="2" fill="#CC0000" fill-opacity="0.6"/>
<rect x="873" y="427" width="4" height="5" fill="#CC0000"/><rect x="872.4" y="428.5" width="1" height="2" fill="#CC0000" fill-opacity="0.6"/>
<rect x="923" y="427" width="4" height="5" fill="#CC0000"/><rect x="922.4" y="428.5" width="1" height="2" fill="#CC0000" fill-opacity="0.6"/>
<rect x="833" y="482" width="4" height="5" fill="#CC0000"/><rect x="832.4" y="483.5" width="1" height="2" fill="#CC0000" fill-opacity="0.6"/>
<rect x="1008" y="457" width="4" height="5" fill="#CC0000"/><rect x="1007.4" y="458.5" width="1" height="2" fill="#CC0000" fill-opacity="0.6"/>
<rect x="1083" y="502" width="4" height="5" fill="#CC0000"/><rect x="1082.4" y="503.5" width="1" height="2" fill="#CC0000" fill-opacity="0.6"/>
<rect x="1153" y="502" width="4" height="5" fill="#CC0000"/><rect x="1152.4" y="503.5" width="1" height="2" fill="#CC0000" fill-opacity="0.6"/>
<rect x="1228" y="502" width="4" height="5" fill="#CC0000"/><rect x="1227.4" y="503.5" width="1" height="2" fill="#CC0000" fill-opacity="0.6"/>
<rect x="1288" y="502" width="4" height="5" fill="#CC0000"/><rect x="1287.4" y="503.5" width="1" height="2" fill="#CC0000" fill-opacity="0.6"/>
<rect x="1313" y="517" width="4" height="5" fill="#CC0000"/><rect x="1312.4" y="518.5" width="1" height="2" fill="#CC0000" fill-opacity="0.6"/>
<rect x="1323" y="517" width="4" height="5" fill="#CC0000"/><rect x="1322.4" y="518.5" width="1" height="2" fill="#CC0000" fill-opacity="0.6"/>
<rect x="1373" y="462" width="4" height="5" fill="#CC0000"/><rect x="1372.4" y="463.5" width="1" height="2" fill="#CC0000" fill-opacity="0.6"/>
<rect x="1428" y="432" width="4" height="5" fill="#CC0000"/><rect x="1427.4" y="433.5" width="1" height="2" fill="#CC0000" fill-opacity="0.6"/>
<rect x="1403" y="517" width="4" height="5" fill="#CC0000"/><rect x="1402.4" y="518.5" width="1" height="2" fill="#CC0000" fill-opacity="0.6"/>
<rect x="1443" y="517" width="4" height="5" fill="#CC0000"/><rect x="1442.4" y="518.5" width="1" height="2" fill="#CC0000" fill-opacity="0.6"/>
<rect x="1478" y="517" width="4" height="5" fill="#CC0000"/><rect x="1477.4" y="518.5" width="1" height="2" fill="#CC0000" fill-opacity="0.6"/>
<rect x="1478" y="537" width="4" height="5" fill="#CC0000"/><rect x="1477.4" y="538.5" width="1" height="2" fill="#CC0000" fill-opacity="0.6"/>
<rect x="73" y="887" width="4" height="5" fill="#CC0000"/><rect x="72.4" y="888.5" width="1" height="2" fill="#CC0000" fill-opacity="0.6"/>
<rect x="118" y="887" width="4" height="5" fill="#CC0000"/><rect x="117.4" y="888.5" width="1" height="2" fill="#CC0000" fill-opacity="0.6"/>
<rect x="208" y="887" width="4" height="5" fill="#CC0000"/><rect x="207.4" y="888.5" width="1" height="2" fill="#CC0000" fill-opacity="0.6"/>
<rect x="73" y="617" width="4" height="5" fill="#CC0000"/><rect x="72.4" y="618.5" width="1" height="2" fill="#CC0000" fill-opacity="0.6"/>
<rect x="118" y="617" width="4" height="5" fill="#CC0000"/><rect x="117.4" y="618.5" width="1" height="2" fill="#CC0000" fill-opacity="0.6"/>
<rect x="208" y="617" width="4" height="5" fill="#CC0000"/><rect x="207.4" y="618.5" width="1" height="2" fill="#CC0000" fill-opacity="0.6"/>
<rect x="248" y="652" width="4" height="5" fill="#CC0000"/><rect x="247.4" y="653.5" width="1" height="2" fill="#CC0000" fill-opacity="0.6"/>
<rect x="373" y="697" width="4" height="5" fill="#CC0000"/><rect x="372.4" y="698.5" width="1" height="2" fill="#CC0000" fill-opacity="0.6"/>
<rect x="433" y="587" width="4" height="5" fill="#CC0000"/><rect x="432.4" y="588.5" width="1" height="2" fill="#CC0000" fill-opacity="0.6"/>
<rect x="483" y="652" width="4" height="5" fill="#CC0000"/><rect x="482.4" y="653.5" width="1" height="2" fill="#CC0000" fill-opacity="0.6"/>
<rect x="373" y="567" width="4" height="5" fill="#CC0000"/><rect x="372.4" y="568.5" width="1" height="2" fill="#CC0000" fill-opacity="0.6"/>
<rect x="373" y="727" width="4" height="5" fill="#CC0000"/><rect x="372.4" y="728.5" width="1" height="2" fill="#CC0000" fill-opacity="0.6"/>
<rect x="303" y="762" width="4" height="5" fill="#CC0000"/><rect x="302.4" y="763.5" width="1" height="2" fill="#CC0000" fill-opacity="0.6"/>
<rect x="303" y="847" width="4" height="5" fill="#CC0000"/><rect x="302.4" y="848.5" width="1" height="2" fill="#CC0000" fill-opacity="0.6"/>
<rect x="373" y="847" width="4" height="5" fill="#CC0000"/><rect x="372.4" y="848.5" width="1" height="2" fill="#CC0000" fill-opacity="0.6"/>
<rect x="433" y="847" width="4" height="5" fill="#CC0000"/><rect x="432.4" y="848.5" width="1" height="2" fill="#CC0000" fill-opacity="0.6"/>
<rect x="513" y="847" width="4" height="5" fill="#CC0000"/><rect x="512.4" y="848.5" width="1" height="2" fill="#CC0000" fill-opacity="0.6"/>
<rect x="683" y="847" width="4" height="5" fill="#CC0000"/><rect x="682.4" y="848.5" width="1" height="2" fill="#CC0000" fill-opacity="0.6"/>
<rect x="753" y="847" width="4" height="5" fill="#CC0000"/><rect x="752.4" y="848.5" width="1" height="2" fill="#CC0000" fill-opacity="0.6"/>
<rect x="788" y="847" width="4" height="5" fill="#CC0000"/><rect x="787.4" y="848.5" width="1" height="2" fill="#CC0000" fill-opacity="0.6"/>
<rect x="843" y="847" width="4" height="5" fill="#CC0000"/><rect x="842.4" y="848.5" width="1" height="2" fill="#CC0000" fill-opacity="0.6"/>
<rect x="873" y="847" width="4" height="5" fill="#CC0000"/><rect x="872.4" y="848.5" width="1" height="2" fill="#CC0000" fill-opacity="0.6"/>
<rect x="208" y="902" width="4" height="5" fill="#CC0000"/><rect x="207.4" y="903.5" width="1" height="2" fill="#CC0000" fill-opacity="0.6"/>
<rect x="208" y="942" width="4" height="5" fill="#CC0000"/><rect x="207.4" y="943.5" width="1" height="2" fill="#CC0000" fill-opacity="0.6"/>
<rect x="473" y="567" width="4" height="5" fill="#CC0000"/><rect x="472.4" y="568.5" width="1" height="2" fill="#CC0000" fill-opacity="0.6"/>
<rect x="513" y="592" width="4" height="5" fill="#CC0000"/><rect x="512.4" y="593.5" width="1" height="2" fill="#CC0000" fill-opacity="0.6"/>
<rect x="513" y="542" width="4" height="5" fill="#CC0000"/><rect x="512.4" y="543.5" width="1" height="2" fill="#CC0000" fill-opacity="0.6"/>
<rect x="568" y="572" width="4" height="5" fill="#CC0000"/><rect x="567.4" y="573.5" width="1" height="2" fill="#CC0000" fill-opacity="0.6"/>
<rect x="568" y="617" width="4" height="5" fill="#CC0000"/><rect x="567.4" y="618.5" width="1" height="2" fill="#CC0000" fill-opacity="0.6"/>
<rect x="638" y="617" width="4" height="5" fill="#CC0000"/><rect x="637.4" y="618.5" width="1" height="2" fill="#CC0000" fill-opacity="0.6"/>
<rect x="683" y="617" width="4" height="5" fill="#CC0000"/><rect x="682.4" y="618.5" width="1" height="2" fill="#CC0000" fill-opacity="0.6"/>
<rect x="753" y="687" width="4" height="5" fill="#CC0000"/><rect x="752.4" y="688.5" width="1" height="2" fill="#CC0000" fill-opacity="0.6"/>
<rect x="638" y="762" width="4" height="5" fill="#CC0000"/><rect x="637.4" y="763.5" width="1" height="2" fill="#CC0000" fill-opacity="0.6"/>
<rect x="753" y="732" width="4" height="5" fill="#CC0000"/><rect x="752.4" y="733.5" width="1" height="2" fill="#CC0000" fill-opacity="0.6"/>
<rect x="788" y="732" width="4" height="5" fill="#CC0000"/><rect x="787.4" y="733.5" width="1" height="2" fill="#CC0000" fill-opacity="0.6"/>
<rect x="843" y="732" width="4" height="5" fill="#CC0000"/><rect x="842.4" y="733.5" width="1" height="2" fill="#CC0000" fill-opacity="0.6"/>
<rect x="873" y="602" width="4" height="5" fill="#CC0000"/><rect x="872.4" y="603.5" width="1" height="2" fill="#CC0000" fill-opacity="0.6"/>
<rect x="833" y="552" width="4" height="5" fill="#CC0000"/><rect x="832.4" y="553.5" width="1" height="2" fill="#CC0000" fill-opacity="0.6"/>
<rect x="833" y="602" width="4" height="5" fill="#CC0000"/><rect x="832.4" y="603.5" width="1" height="2" fill="#CC0000" fill-opacity="0.6"/>
<rect x="873" y="602" width="4" height="5" fill="#CC0000"/><rect x="872.4" y="603.5" width="1" height="2" fill="#CC0000" fill-opacity="0.6"/>
<rect x="908" y="602" width="4" height="5" fill="#CC0000"/><rect x="907.4" y="603.5" width="1" height="2" fill="#CC0000" fill-opacity="0.6"/>
<rect x="948" y="602" width="4" height="5" fill="#CC0000"/><rect x="947.4" y="603.5" width="1" height="2" fill="#CC0000" fill-opacity="0.6"/>
<rect x="968" y="602" width="4" height="5" fill="#CC0000"/><rect x="967.4" y="603.5" width="1" height="2" fill="#CC0000" fill-opacity="0.6"/>
<rect x="1003" y="582" width="4" height="5" fill="#CC0000"/><rect x="1002.4" y="583.5" width="1" height="2" fill="#CC0000" fill-opacity="0.6"/>
<rect x="1038" y="532" width="4" height="5" fill="#CC0000"/><rect x="1037.4" y="533.5" width="1" height="2" fill="#CC0000" fill-opacity="0.6"/>
<rect x="1088" y="532" width="4" height="5" fill="#CC0000"/><rect x="1087.4" y="533.5" width="1" height="2" fill="#CC0000" fill-opacity="0.6"/>
<rect x="1123" y="532" width="4" height="5" fill="#CC0000"/><rect x="1122.4" y="533.5" width="1" height="2" fill="#CC0000" fill-opacity="0.6"/>
<rect x="1153" y="532" width="4" height="5" fill="#CC0000"/><rect x="1152.4" y="533.5" width="1" height="2" fill="#CC0000" fill-opacity="0.6"/>
<rect x="1203" y="532" width="4" height="5" fill="#CC0000"/><rect x="1202.4" y="533.5" width="1" height="2" fill="#CC0000" fill-opacity="0.6"/>
<rect x="1288" y="532" width="4" height="5" fill="#CC0000"/><rect x="1287.4" y="533.5" width="1" height="2" fill="#CC0000" fill-opacity="0.6"/>
<rect x="1003" y="647" width="4" height="5" fill="#CC0000"/><rect x="1002.4" y="648.5" width="1" height="2" fill="#CC0000" fill-opacity="0.6"/>
<rect x="1003" y="782" width="4" height="5" fill="#CC0000"/><rect x="1002.4" y="783.5" width="1" height="2" fill="#CC0000" fill-opacity="0.6"/>
<rect x="1018" y="647" width="4" height="5" fill="#CC0000"/><rect x="1017.4" y="648.5" width="1" height="2" fill="#CC0000" fill-opacity="0.6"/>
<rect x="1058" y="647" width="4" height="5" fill="#CC0000"/><rect x="1057.4" y="648.5" width="1" height="2" fill="#CC0000" fill-opacity="0.6"/>
<rect x="1088" y="667" width="4" height="5" fill="#CC0000"/><rect x="1087.4" y="668.5" width="1" height="2" fill="#CC0000" fill-opacity="0.6"/>
<rect x="1088" y="707" width="4" height="5" fill="#CC0000"/><rect x="1087.4" y="708.5" width="1" height="2" fill="#CC0000" fill-opacity="0.6"/>
<rect x="1088" y="782" width="4" height="5" fill="#CC0000"/><rect x="1087.4" y="783.5" width="1" height="2" fill="#CC0000" fill-opacity="0.6"/>
<rect x="1153" y="782" width="4" height="5" fill="#CC0000"/><rect x="1152.4" y="783.5" width="1" height="2" fill="#CC0000" fill-opacity="0.6"/>
<rect x="1203" y="782" width="4" height="5" fill="#CC0000"/><rect x="1202.4" y="783.5" width="1" height="2" fill="#CC0000" fill-opacity="0.6"/>
<rect x="1228" y="782" width="4" height="5" fill="#CC0000"/><rect x="1227.4" y="783.5" width="1" height="2" fill="#CC0000" fill-opacity="0.6"/>
<rect x="1258" y="782" width="4" height="5" fill="#CC0000"/><rect x="1257.4" y="783.5" width="1" height="2" fill="#CC0000" fill-opacity="0.6"/>
<rect x="1288" y="782" width="4" height="5" fill="#CC0000"/><rect x="1287.4" y="783.5" width="1" height="2" fill="#CC0000" fill-opacity="0.6"/>
<rect x="1428" y="782" width="4" height="5" fill="#CC0000"/><rect x="1427.4" y="783.5" width="1" height="2" fill="#CC0000" fill-opacity="0.6"/>
<rect x="1478" y="782" width="4" height="5" fill="#CC0000"/><rect x="1477.4" y="783.5" width="1" height="2" fill="#CC0000" fill-opacity="0.6"/>
<rect x="1083" y="437" width="4" height="5" fill="#CC0000"/><rect x="1082.4" y="438.5" width="1" height="2" fill="#CC0000" fill-opacity="0.6"/>
</svg></body></html>
